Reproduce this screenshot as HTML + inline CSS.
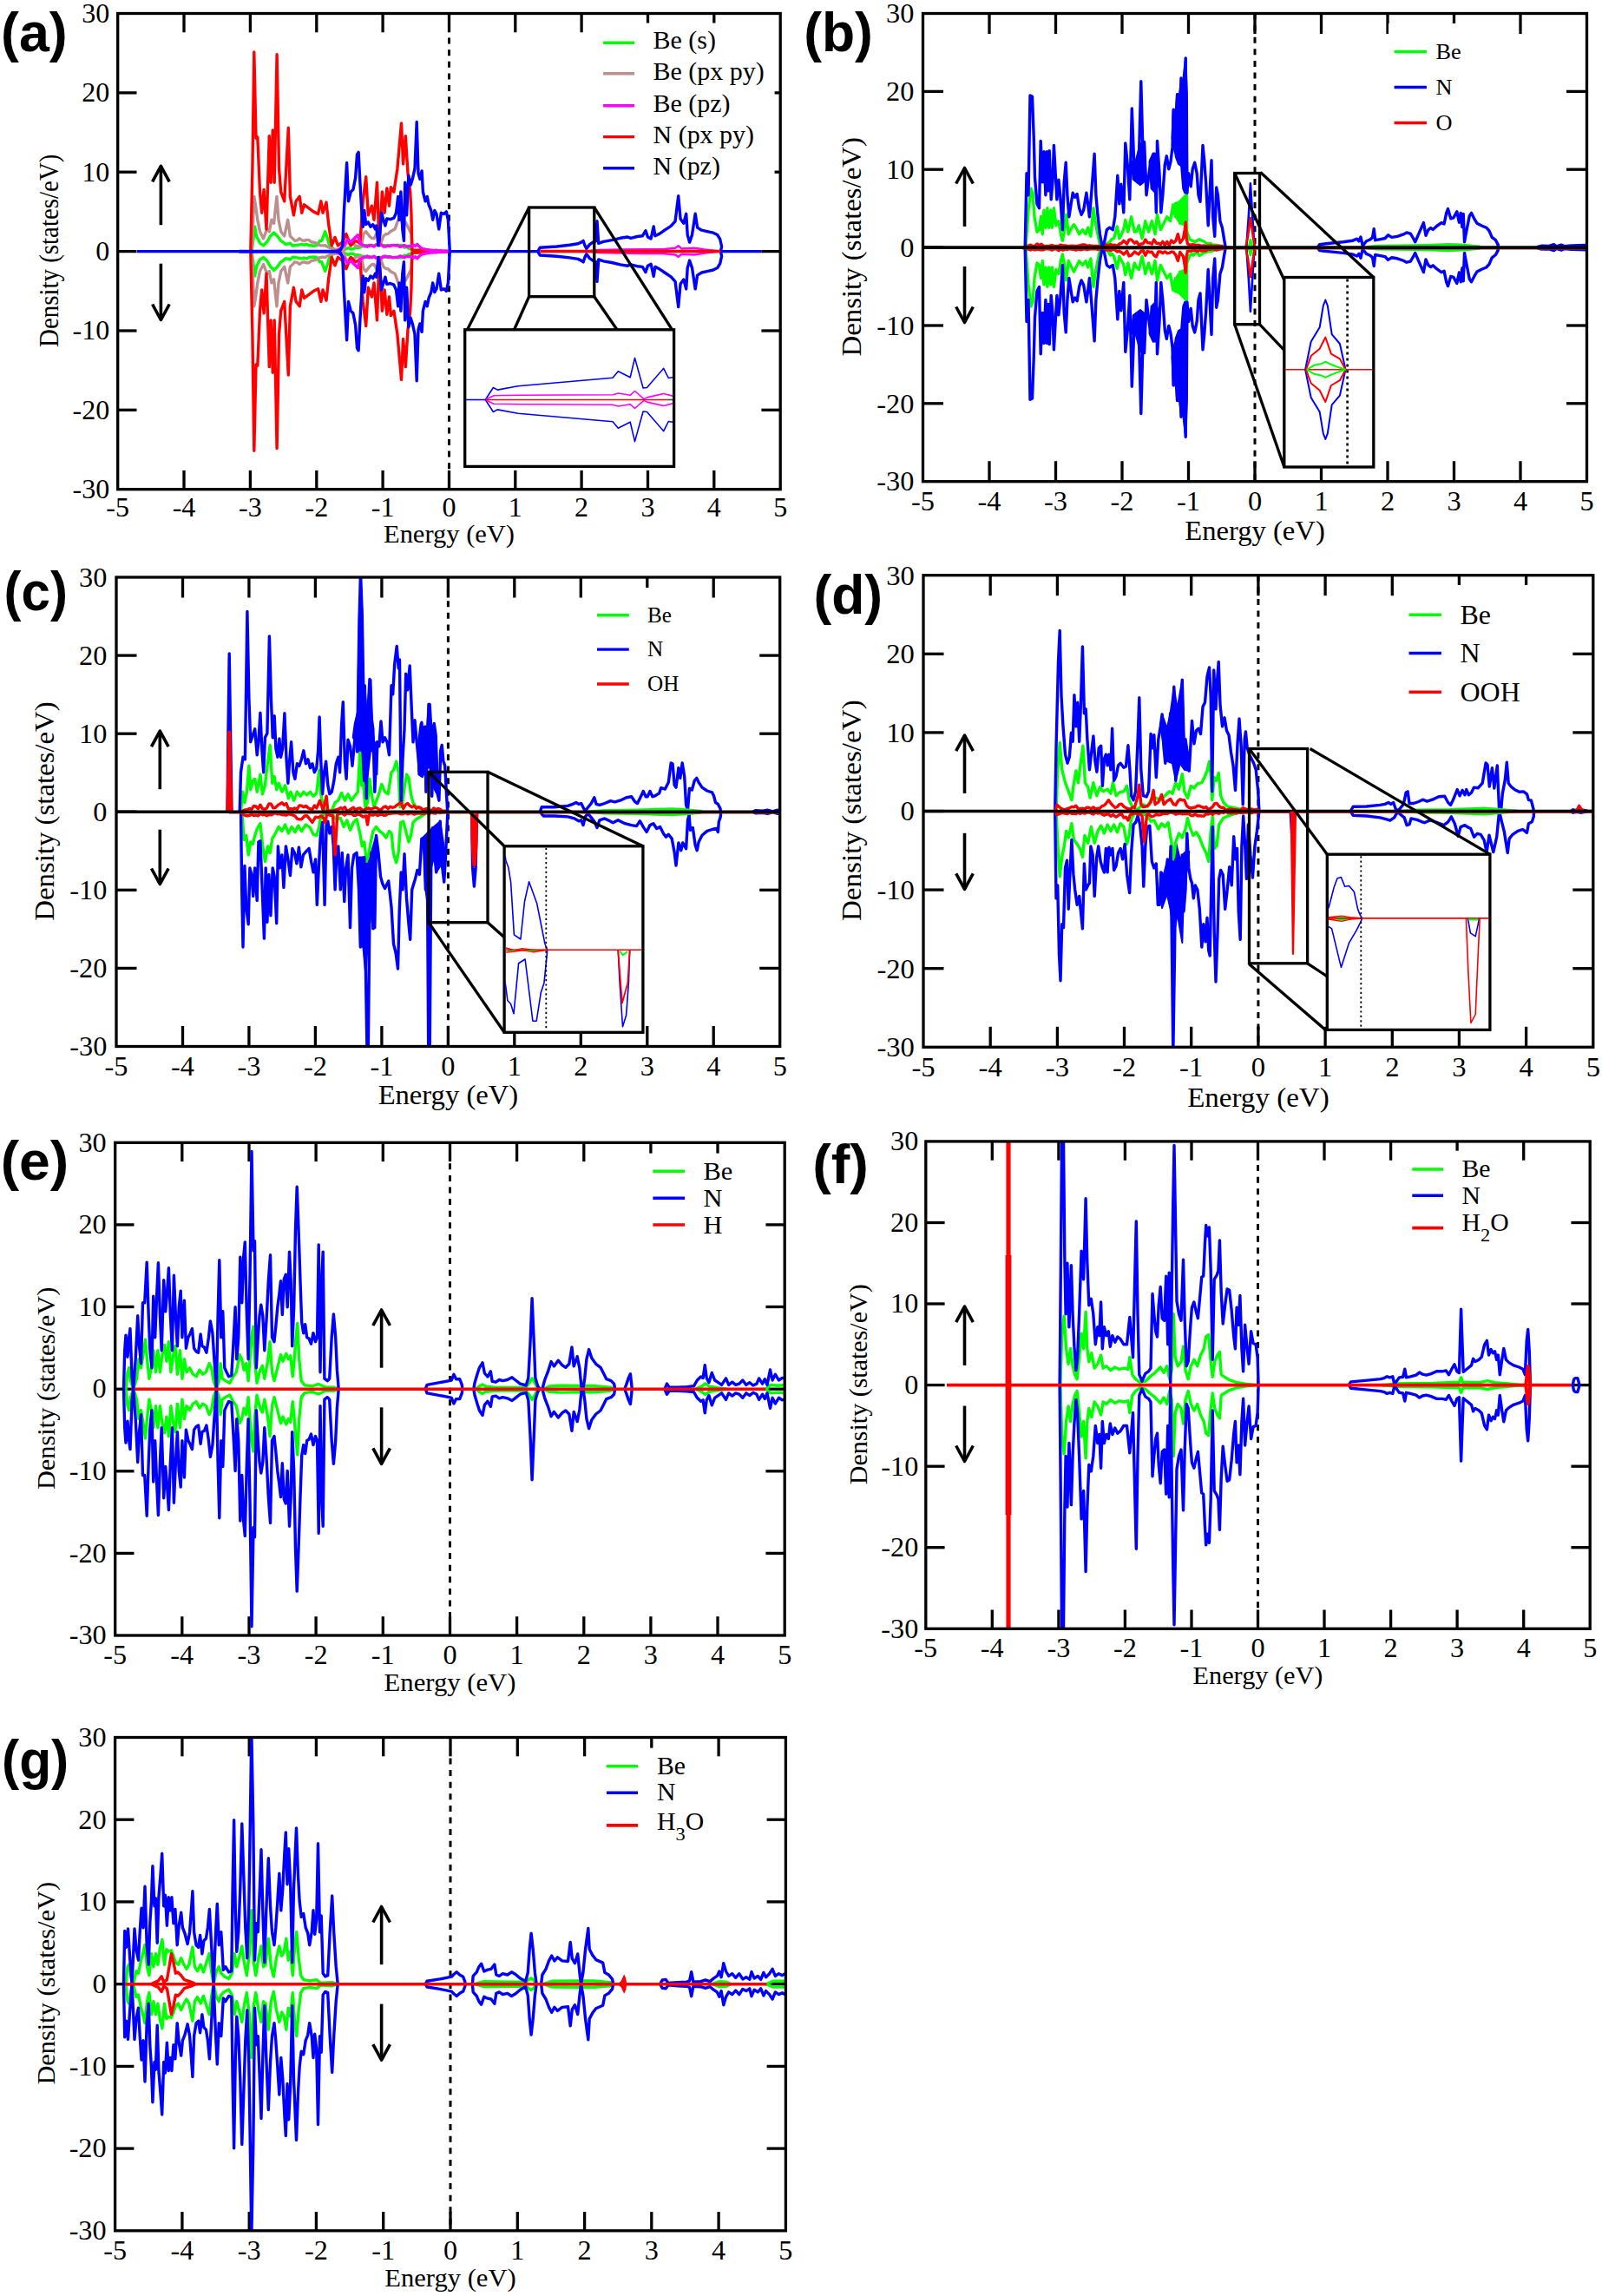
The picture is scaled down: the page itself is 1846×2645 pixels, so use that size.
<!DOCTYPE html>
<html><head><meta charset="utf-8"><title>DOS</title>
<style>html,body{margin:0;padding:0;background:#fff}svg{display:block}</style></head>
<body><svg width="1846" height="2645" viewBox="0 0 1846 2645">
<rect width="1846" height="2645" fill="#fff"/>
<clipPath id="clip_a"><rect x="135.7" y="15.5" width="763.5" height="548.2"/></clipPath>
<line x1="212" y1="15.5" x2="212" y2="37.3" stroke="#000" stroke-width="3.3" />
<line x1="212" y1="563.7" x2="212" y2="541.9" stroke="#000" stroke-width="3.3" />
<line x1="288.4" y1="15.5" x2="288.4" y2="37.3" stroke="#000" stroke-width="3.3" />
<line x1="288.4" y1="563.7" x2="288.4" y2="541.9" stroke="#000" stroke-width="3.3" />
<line x1="364.8" y1="15.5" x2="364.8" y2="37.3" stroke="#000" stroke-width="3.3" />
<line x1="364.8" y1="563.7" x2="364.8" y2="541.9" stroke="#000" stroke-width="3.3" />
<line x1="441.1" y1="15.5" x2="441.1" y2="37.3" stroke="#000" stroke-width="3.3" />
<line x1="441.1" y1="563.7" x2="441.1" y2="541.9" stroke="#000" stroke-width="3.3" />
<line x1="517.5" y1="15.5" x2="517.5" y2="37.3" stroke="#000" stroke-width="3.3" />
<line x1="517.5" y1="563.7" x2="517.5" y2="541.9" stroke="#000" stroke-width="3.3" />
<line x1="593.8" y1="15.5" x2="593.8" y2="37.3" stroke="#000" stroke-width="3.3" />
<line x1="593.8" y1="563.7" x2="593.8" y2="541.9" stroke="#000" stroke-width="3.3" />
<line x1="670.1" y1="15.5" x2="670.1" y2="37.3" stroke="#000" stroke-width="3.3" />
<line x1="670.1" y1="563.7" x2="670.1" y2="541.9" stroke="#000" stroke-width="3.3" />
<line x1="746.5" y1="15.5" x2="746.5" y2="37.3" stroke="#000" stroke-width="3.3" />
<line x1="746.5" y1="563.7" x2="746.5" y2="541.9" stroke="#000" stroke-width="3.3" />
<line x1="822.8" y1="15.5" x2="822.8" y2="37.3" stroke="#000" stroke-width="3.3" />
<line x1="822.8" y1="563.7" x2="822.8" y2="541.9" stroke="#000" stroke-width="3.3" />
<line x1="135.7" y1="472.3" x2="157.5" y2="472.3" stroke="#000" stroke-width="3.3" />
<line x1="899.2" y1="472.3" x2="877.4" y2="472.3" stroke="#000" stroke-width="3.3" />
<line x1="135.7" y1="381" x2="157.5" y2="381" stroke="#000" stroke-width="3.3" />
<line x1="899.2" y1="381" x2="877.4" y2="381" stroke="#000" stroke-width="3.3" />
<line x1="135.7" y1="289.6" x2="157.5" y2="289.6" stroke="#000" stroke-width="3.3" />
<line x1="899.2" y1="289.6" x2="877.4" y2="289.6" stroke="#000" stroke-width="3.3" />
<line x1="135.7" y1="198.2" x2="157.5" y2="198.2" stroke="#000" stroke-width="3.3" />
<line x1="899.2" y1="198.2" x2="877.4" y2="198.2" stroke="#000" stroke-width="3.3" />
<line x1="135.7" y1="106.9" x2="157.5" y2="106.9" stroke="#000" stroke-width="3.3" />
<line x1="899.2" y1="106.9" x2="877.4" y2="106.9" stroke="#000" stroke-width="3.3" />
<rect x="690" y="26.5" width="202.6" height="185.5" fill="#fff"/>
<line x1="517.5" y1="30" x2="517.5" y2="563.7" stroke="#000" stroke-width="3" stroke-dasharray="7 6.6"/>
<g clip-path="url(#clip_a)">
<polyline points="290.1,289.5 293.6,261.3 295.5,272 299.5,280.1 303.6,282.8 307.6,278.8 311.6,272 315.6,268 319.7,272 323.7,277.4 326.4,279.2 329.1,281.4 331.7,281 334.4,280.1 337.1,283 339.8,282.8 342.5,282.2 345.2,281.9 347.8,281.4 350.5,282.2 353.2,281.3 355.9,282.8 358.6,282.8 361.3,283.2 363.9,282.8 366.2,282.1 368.4,277.4 370.7,277.4 374.7,266.7 377.4,274.7 380,284.1 382.7,285.4 385.4,287.6 388.1,287.4 390.8,288.7 393.5,288.7 396.2,288 398.8,286.8 401.5,285.6 404.2,287.1 406.9,286.8 409.6,285.5 412.3,285.5 414.9,285.1 417.6,283.6 420.3,284.1 423,282.5 425.7,283.8 428.4,282.2 431,283.3 433.3,282.3 435.5,282.3 437.8,281.6 440,282.8 442.2,282.7 444.5,282.8 446.7,283.8 448.9,282.7 451.2,283 453.4,282.4 455.7,282.9 457.9,282.2 460.6,282.6 463.3,282.5 465.9,285.1 468.6,284.1 471.3,286.6 474,286.8 476.7,287.8 479.4,288.1 482,288 484.7,288.7" fill="none" stroke="#00ff00" stroke-width="3.4" stroke-linejoin="round" />
<polyline points="290.1,289.7 293.6,317.9 295.5,307.2 299.5,299.1 303.6,296.4 307.6,300.4 311.6,307.2 315.6,311.2 319.7,307.2 323.7,301.8 326.4,300 329.1,297.8 331.7,298.2 334.4,299.1 337.1,296.2 339.8,296.4 342.5,297 345.2,297.3 347.8,297.8 350.5,297 353.2,297.9 355.9,296.4 358.6,296.4 361.3,296 363.9,296.4 366.2,297.1 368.4,301.8 370.7,301.8 374.7,312.5 377.4,304.5 380,295.1 382.7,293.8 385.4,291.6 388.1,291.8 390.8,290.5 393.5,290.5 396.2,291.2 398.8,292.4 401.5,293.6 404.2,292.1 406.9,292.4 409.6,293.7 412.3,293.7 414.9,294.1 417.6,295.6 420.3,295.1 423,296.7 425.7,295.4 428.4,297 431,295.9 433.3,296.9 435.5,296.9 437.8,297.6 440,296.4 442.2,296.5 444.5,296.4 446.7,295.4 448.9,296.5 451.2,296.2 453.4,296.8 455.7,296.3 457.9,297 460.6,296.6 463.3,296.7 465.9,294.1 468.6,295.1 471.3,292.6 474,292.4 476.7,291.4 479.4,291.1 482,291.2 484.7,290.5" fill="none" stroke="#00ff00" stroke-width="3.4" stroke-linejoin="round" />
<polyline points="290.1,289.5 292.8,226.4 294.2,234.5 296.8,253.3 299.5,266.7 303.6,274.7 307.6,264 310.3,266.7 312.9,253.3 315.6,257.3 318.9,226.4 321,253.3 323.7,266.7 327.7,272 331.7,253.3 334.4,272 337.1,274.6 339.8,277.4 342.5,276.8 345.2,274.7 347.8,276.8 350.5,277.4 353.2,276.4 355.9,276.4 358.6,278.8 361.3,279.2 363.9,279.8 366.6,281.4 369.3,282.8 372,282.9 374.7,282.8 377.4,284.4 380,285.5 382.7,286.3 385.4,287.2 388.1,287.6 390.8,287.3 393.5,287.9 396.2,288.2 398.8,280.1 401.5,279.7 404.2,282.7 406.9,280.8 409.6,282.8 411.8,284.1 414,282.6 416.3,284.1 419,269.4 421.7,266.7 425.7,272 428.4,274.4 431,274.7 435.1,266.7 437.8,282.8 441.8,272 444.5,269.7 447.2,269.4 449.8,266.7 452.5,265.3 455.2,263.7 457.9,255.9 461.1,247.9 463.8,258.6 467.3,255.9 471.3,264 474,269.4 475.3,289.5" fill="none" stroke="#bc8f8f" stroke-width="3.4" stroke-linejoin="round" />
<polyline points="290.1,289.7 292.8,352.8 294.2,344.7 296.8,325.9 299.5,312.5 303.6,304.5 307.6,315.2 310.3,312.5 312.9,325.9 315.6,321.9 318.9,352.8 321,325.9 323.7,312.5 327.7,307.2 331.7,325.9 334.4,307.2 337.1,304.6 339.8,301.8 342.5,302.4 345.2,304.5 347.8,302.4 350.5,301.8 353.2,302.8 355.9,302.8 358.6,300.4 361.3,300 363.9,299.4 366.6,297.8 369.3,296.4 372,296.3 374.7,296.4 377.4,294.8 380,293.7 382.7,292.9 385.4,292 388.1,291.6 390.8,291.9 393.5,291.3 396.2,291 398.8,299.1 401.5,299.5 404.2,296.5 406.9,298.4 409.6,296.4 411.8,295.1 414,296.6 416.3,295.1 419,309.8 421.7,312.5 425.7,307.2 428.4,304.8 431,304.5 435.1,312.5 437.8,296.4 441.8,307.2 444.5,309.5 447.2,309.8 449.8,312.5 452.5,313.9 455.2,315.5 457.9,323.3 461.1,331.3 463.8,320.6 467.3,323.3 471.3,315.2 474,309.8 475.3,289.7" fill="none" stroke="#bc8f8f" stroke-width="3.4" stroke-linejoin="round" />
<polyline points="288.8,289.5 290.9,194.2 292.8,60 295,159.3 296.8,158 299.5,221 301.7,245.2 304.1,218.4 307,264 310.3,156.6 312.1,210.3 314.3,149.9 316.2,210.3 319.1,62.7 321.5,194.2 323.7,221 327.7,231.8 332.3,147.2 334.4,226.4 338.4,247.9 341.1,231.8 345.2,226.4 347.8,245.2 350.5,235.8 355.9,239.8 361.3,243.9 366.6,246.5 369.9,231.8 372,245.2 376,233.1 378.7,258.6 382.2,282.8 386,273.4 389.4,282.8 394.8,278.8 398.8,269.4 404.2,282.8 409.6,277.4 414.9,280.1 418.2,231.8 421.7,203.6 424.3,247.9 428.4,237.2 431,253.3 434.5,210.3 437,282.8 440.4,221 443.1,245.2 445.8,217 448.5,237.2 450.4,215.7 453.9,221 457.9,194.2 462.5,141.9 464.6,188.8 467.3,156.6 470,199.6 472.7,221 474,247.9 474.8,288.2 484.7,288.4 500.8,289 518.3,289.5" fill="none" stroke="#ff0000" stroke-width="3.4" stroke-linejoin="round" />
<polyline points="288.8,289.7 290.9,385 292.8,519.2 295,419.9 296.8,421.2 299.5,358.2 301.7,334 304.1,360.8 307,315.2 310.3,422.6 312.1,368.9 314.3,429.3 316.2,368.9 319.1,516.5 321.5,385 323.7,358.2 327.7,347.4 332.3,432 334.4,352.8 338.4,331.3 341.1,347.4 345.2,352.8 347.8,334 350.5,343.4 355.9,339.4 361.3,335.3 366.6,332.7 369.9,347.4 372,334 376,346.1 378.7,320.6 382.2,296.4 386,305.8 389.4,296.4 394.8,300.4 398.8,309.8 404.2,296.4 409.6,301.8 414.9,299.1 418.2,347.4 421.7,375.6 424.3,331.3 428.4,342 431,325.9 434.5,368.9 437,296.4 440.4,358.2 443.1,334 445.8,362.2 448.5,342 450.4,363.5 453.9,358.2 457.9,385 462.5,437.3 464.6,390.4 467.3,422.6 470,379.6 472.7,358.2 474,331.3 474.8,291 484.7,290.8 500.8,290.2 518.3,289.7" fill="none" stroke="#ff0000" stroke-width="3.4" stroke-linejoin="round" />
<polyline points="388.1,289.5 390.8,286.9 393.5,285.5 396.2,282.8 400.2,276.1 404.2,278.8 408.2,274.7 412.3,270.7 414.9,280.1 417.6,282.2 420.3,282.8 423,284.2 425.7,282.5 428.4,283 431,284.1 433.7,281.6 436.4,281.4 439.1,281.4 441.8,284 444.5,284.1 446.7,282.8 448.9,283.8 451.2,282.6 453.4,282.6 455.7,282.8 457.9,282.8 460.6,284.2 463.3,283.8 465.9,282.4 468.6,284.1 471.3,283.5 474,284.1 476.2,282.1 478.5,283.6 480.7,281.4 484.7,285.5 487,286.6 489.2,286.9 491.4,287.4 493.7,287.6 495.9,288.3 498.2,288.2 500.5,288.6 502.8,288.2 505.2,289 507.5,288.8 509.9,289.2 512.2,289.2 514.6,289.3 516.9,289.5" fill="none" stroke="#ff00ff" stroke-width="3.4" stroke-linejoin="round" />
<polyline points="388.1,289.7 390.8,292.3 393.5,293.7 396.2,296.4 400.2,303.1 404.2,300.4 408.2,304.5 412.3,308.5 414.9,299.1 417.6,297 420.3,296.4 423,295 425.7,296.7 428.4,296.2 431,295.1 433.7,297.6 436.4,297.8 439.1,297.8 441.8,295.2 444.5,295.1 446.7,296.4 448.9,295.4 451.2,296.6 453.4,296.6 455.7,296.4 457.9,296.4 460.6,295 463.3,295.4 465.9,296.8 468.6,295.1 471.3,295.7 474,295.1 476.2,297.1 478.5,295.6 480.7,297.8 484.7,293.7 487,292.6 489.2,292.3 491.4,291.8 493.7,291.6 495.9,290.9 498.2,291 500.5,290.6 502.8,291 505.2,290.2 507.5,290.4 509.9,290 512.2,290 514.6,289.9 516.9,289.7" fill="none" stroke="#ff00ff" stroke-width="3.4" stroke-linejoin="round" />
<polyline points="275.4,289.5 388.1,289.5 392.1,288.2 394.8,282.8 396.2,247.9 398.3,210.3 399.6,187.5 401.5,231.8 404.2,221 406.9,218.4 409.6,204.9 411.5,178.1 413.1,175.4 414.9,210.3 417.1,247.9 418.2,261.3 419.8,242.5 421.7,258.6 424.3,255.9 427,261.3 429.7,258.6 432.4,264 433.7,260 435.9,282.8 437.8,269.4 439.6,245.2 441.8,253.3 443.9,260 445.8,251.9 449.8,252.7 453.9,251.1 456.5,245.2 458.7,226.4 460,253.3 461.9,221 463.8,264 465.4,277.4 466.7,210.3 468.6,247.9 470.8,202.3 473.2,213 475.3,206.3 478,194.2 480.2,140.5 482,199.6 483.9,206.3 486.1,196.9 487.4,221 490.1,231.8 492.2,226.4 494.1,235.8 496.8,242.5 498.7,253.3 500.8,242.5 503,246.5 505.7,264 508.4,245.2 511.6,246.5 514.3,243.9 516.4,253.3 517.5,274.7 518.3,289.5" fill="none" stroke="#0000ff" stroke-width="3.4" stroke-linejoin="round" />
<polyline points="275.4,289.7 388.1,289.7 392.1,291 394.8,296.4 396.2,331.3 398.3,368.9 399.6,391.7 401.5,347.4 404.2,358.2 406.9,360.8 409.6,374.3 411.5,401.1 413.1,403.8 414.9,368.9 417.1,331.3 418.2,317.9 419.8,336.7 421.7,320.6 424.3,323.3 427,317.9 429.7,320.6 432.4,315.2 433.7,319.2 435.9,296.4 437.8,309.8 439.6,334 441.8,325.9 443.9,319.2 445.8,327.3 449.8,326.5 453.9,328.1 456.5,334 458.7,352.8 460,325.9 461.9,358.2 463.8,315.2 465.4,301.8 466.7,368.9 468.6,331.3 470.8,376.9 473.2,366.2 475.3,372.9 478,385 480.2,438.7 482,379.6 483.9,372.9 486.1,382.3 487.4,358.2 490.1,347.4 492.2,352.8 494.1,343.4 496.8,336.7 498.7,325.9 500.8,336.7 503,332.7 505.7,315.2 508.4,334 511.6,332.7 514.3,335.3 516.4,325.9 517.5,304.5 518.3,289.7" fill="none" stroke="#0000ff" stroke-width="3.4" stroke-linejoin="round" />
<polyline points="619.8,289.6 622.2,285.2 641.7,284 656.3,282.3 666.1,280.8 669.7,279.1 672.2,277.4 673.9,282.8 675.8,286.4 679.5,281.6 683.1,279.1 686.3,277.9 688,254.8 689.7,280.3 695.3,278.4 705,276.7 714.8,274.3 723.3,273 726.9,274.3 734.2,272.5 740.3,271.8 744,265.7 746.4,273 750.1,275 753.2,260.9 754.9,271.8 759.8,269.4 765.9,265.2 773.2,260.4 778.1,254.8 781.7,225.6 784.1,252.3 787.8,257.2 790.7,246.3 792.2,270.6 794.6,279.1 797.5,270.6 801.2,246.3 803.6,262.1 808.5,265.2 815.8,266.9 821.9,268.2 826.7,270.6 829.7,275.5 831.6,284 830.4,289.6" fill="none" stroke="#0000ff" stroke-width="3.4" stroke-linejoin="round" />
<polyline points="619.8,289.6 622.2,294 641.7,295.2 656.3,296.9 666.1,298.4 669.7,300.1 672.2,301.8 673.9,296.4 675.8,292.8 679.5,297.6 683.1,300.1 686.3,301.3 688,324.4 689.7,298.9 695.3,300.8 705,302.5 714.8,304.9 723.3,306.2 726.9,304.9 734.2,306.7 740.3,307.4 744,313.5 746.4,306.2 750.1,304.2 753.2,318.3 754.9,307.4 759.8,309.8 765.9,314 773.2,318.8 778.1,324.4 781.7,353.6 784.1,326.9 787.8,322 790.7,332.9 792.2,308.6 794.6,300.1 797.5,308.6 801.2,332.9 803.6,317.1 808.5,314 815.8,312.3 821.9,311 826.7,308.6 829.7,303.7 831.6,295.2 830.4,289.6" fill="none" stroke="#0000ff" stroke-width="3.4" stroke-linejoin="round" />
<polyline points="675.8,289.6 690.4,288.1 714.8,287.6 739.1,287.2 763.4,287.2 778.1,285.7 781.7,283.3 785.4,286.4 800,285.7 812.1,287.6 829.2,289.6" fill="none" stroke="#ff00ff" stroke-width="2.5" stroke-linejoin="round" />
<polyline points="675.8,289.6 690.4,291.1 714.8,291.6 739.1,292 763.4,292 778.1,293.5 781.7,295.9 785.4,292.8 800,293.5 812.1,291.6 829.2,289.6" fill="none" stroke="#ff00ff" stroke-width="2.5" stroke-linejoin="round" />
<polyline points="622.2,289.6 830.4,289.6" fill="none" stroke="#ff0000" stroke-width="3.5" stroke-linejoin="round" />
<polyline points="158,289.6 383.8,289.6" fill="none" stroke="#0000ff" stroke-width="3.4" stroke-linejoin="round" />
<polyline points="517.5,289.6 619.8,289.6" fill="none" stroke="#0000ff" stroke-width="3.4" stroke-linejoin="round" />
<polyline points="830.4,289.6 877.6,289.6" fill="none" stroke="#0000ff" stroke-width="3.4" stroke-linejoin="round" />
</g>
<line x1="695.1" y1="49.3" x2="731" y2="49.3" stroke="#00ff00" stroke-width="3.4" />
<text transform="translate(752.5,56.3) scale(1.020,1)" font-family="'Liberation Serif','DejaVu Serif',serif" font-size="29.4" font-weight="normal" text-anchor="start" >Be (s)</text>
<line x1="695.1" y1="84.8" x2="731" y2="84.8" stroke="#bc8f8f" stroke-width="3.4" />
<text transform="translate(752.5,91.8) scale(1.020,1)" font-family="'Liberation Serif','DejaVu Serif',serif" font-size="29.4" font-weight="normal" text-anchor="start" >Be (px py)</text>
<line x1="695.1" y1="121.7" x2="731" y2="121.7" stroke="#ff00ff" stroke-width="3.4" />
<text transform="translate(752.5,128.7) scale(1.020,1)" font-family="'Liberation Serif','DejaVu Serif',serif" font-size="29.4" font-weight="normal" text-anchor="start" >Be (pz)</text>
<line x1="695.1" y1="157.6" x2="731" y2="157.6" stroke="#ff0000" stroke-width="3.4" />
<text transform="translate(752.5,164.6) scale(1.020,1)" font-family="'Liberation Serif','DejaVu Serif',serif" font-size="29.4" font-weight="normal" text-anchor="start" >N (px py)</text>
<line x1="695.1" y1="193.7" x2="731" y2="193.7" stroke="#0000ff" stroke-width="3.4" />
<text transform="translate(752.5,200.7) scale(1.020,1)" font-family="'Liberation Serif','DejaVu Serif',serif" font-size="29.4" font-weight="normal" text-anchor="start" >N (pz)</text>
<line x1="185.4" y1="192.4" x2="185.4" y2="259.2" stroke="#000" stroke-width="3.6" />
<polyline points="175.6,209.4 185.4,191.4 195.2,209.4" fill="none" stroke="#000" stroke-width="3.6" stroke-linejoin="round" stroke-linejoin="miter"/>
<line x1="185.4" y1="303.7" x2="185.4" y2="367.5" stroke="#000" stroke-width="3.6" />
<polyline points="175.6,350.5 185.4,368.5 195.2,350.5" fill="none" stroke="#000" stroke-width="3.6" stroke-linejoin="round" />
<rect x="535.7" y="379.8" width="240.9" height="157.6" fill="#fff" stroke="none"/>
<rect x="609.6" y="239" width="75.2" height="102.7" fill="none" stroke="#000" stroke-width="3.3"/>
<line x1="609.6" y1="239" x2="538.5" y2="379.8" stroke="#000" stroke-width="3.3" />
<line x1="684.8" y1="239" x2="774.5" y2="379.8" stroke="#000" stroke-width="3.3" />
<line x1="609.6" y1="341.7" x2="592.5" y2="379.8" stroke="#000" stroke-width="3.3" />
<line x1="684.8" y1="341.7" x2="711" y2="379.8" stroke="#000" stroke-width="3.3" />
<polyline points="559.3,460.5 568.4,446.5 573.3,449.1 596.9,444.8 706.1,435.2 712.3,427.8 726.2,434.8 731.5,412.4 741.1,447 745.5,446.5 764.7,424.3 770.3,435.5 775.2,434.8" fill="none" stroke="#0000ff" stroke-width="1.6" stroke-linejoin="round" />
<polyline points="559.3,460.5 568.4,474.5 573.3,471.9 596.9,476.2 706.1,485.8 712.3,493.2 726.2,486.2 731.5,508.6 741.1,474 745.5,474.5 764.7,496.7 770.3,485.5 775.2,486.2" fill="none" stroke="#0000ff" stroke-width="1.6" stroke-linejoin="round" />
<polyline points="559.3,460.5 568.9,455.8 598.7,455.3 706.1,454.7 712.3,453 726.2,455.3 731.5,450.5 742,459.6 745.5,457.9 764.7,453.5 775.2,456.1" fill="none" stroke="#ff00ff" stroke-width="1.6" stroke-linejoin="round" />
<polyline points="559.3,460.5 568.9,465.2 598.7,465.7 706.1,466.3 712.3,468 726.2,465.7 731.5,470.5 742,461.4 745.5,463.1 764.7,467.5 775.2,464.9" fill="none" stroke="#ff00ff" stroke-width="1.6" stroke-linejoin="round" />
<polyline points="537.1,460.5 559.9,460.5" fill="none" stroke="#0000ff" stroke-width="1.6" stroke-linejoin="round" />
<polyline points="559.9,460.5 768.2,460.5" fill="none" stroke="#ff0000" stroke-width="1.6" stroke-linejoin="round" />
<polyline points="768.2,460.5 775.5,460.5" fill="none" stroke="#444" stroke-width="1.6" stroke-linejoin="round" />
<rect x="535.7" y="379.8" width="240.9" height="157.6" fill="none" stroke="#000" stroke-width="3.3"/>
<rect x="135.7" y="15.5" width="763.5" height="548.2" fill="none" stroke="#000" stroke-width="3.3"/>
<text transform="translate(126.3,573.9) scale(1.050,1)" font-family="'Liberation Serif','DejaVu Serif',serif" font-size="30.5" font-weight="normal" text-anchor="end" >-30</text>
<text transform="translate(126.3,482.6) scale(1.050,1)" font-family="'Liberation Serif','DejaVu Serif',serif" font-size="30.5" font-weight="normal" text-anchor="end" >-20</text>
<text transform="translate(126.3,391.2) scale(1.050,1)" font-family="'Liberation Serif','DejaVu Serif',serif" font-size="30.5" font-weight="normal" text-anchor="end" >-10</text>
<text transform="translate(126.3,299.8) scale(1.050,1)" font-family="'Liberation Serif','DejaVu Serif',serif" font-size="30.5" font-weight="normal" text-anchor="end" >0</text>
<text transform="translate(126.3,208.5) scale(1.050,1)" font-family="'Liberation Serif','DejaVu Serif',serif" font-size="30.5" font-weight="normal" text-anchor="end" >10</text>
<text transform="translate(126.3,117.1) scale(1.050,1)" font-family="'Liberation Serif','DejaVu Serif',serif" font-size="30.5" font-weight="normal" text-anchor="end" >20</text>
<text transform="translate(126.3,25.7) scale(1.050,1)" font-family="'Liberation Serif','DejaVu Serif',serif" font-size="30.5" font-weight="normal" text-anchor="end" >30</text>
<text transform="translate(135.7,594.5) scale(1.050,1)" font-family="'Liberation Serif','DejaVu Serif',serif" font-size="30.5" font-weight="normal" text-anchor="middle" >-5</text>
<text transform="translate(212,594.5) scale(1.050,1)" font-family="'Liberation Serif','DejaVu Serif',serif" font-size="30.5" font-weight="normal" text-anchor="middle" >-4</text>
<text transform="translate(288.4,594.5) scale(1.050,1)" font-family="'Liberation Serif','DejaVu Serif',serif" font-size="30.5" font-weight="normal" text-anchor="middle" >-3</text>
<text transform="translate(364.8,594.5) scale(1.050,1)" font-family="'Liberation Serif','DejaVu Serif',serif" font-size="30.5" font-weight="normal" text-anchor="middle" >-2</text>
<text transform="translate(441.1,594.5) scale(1.050,1)" font-family="'Liberation Serif','DejaVu Serif',serif" font-size="30.5" font-weight="normal" text-anchor="middle" >-1</text>
<text transform="translate(517.5,594.5) scale(1.050,1)" font-family="'Liberation Serif','DejaVu Serif',serif" font-size="30.5" font-weight="normal" text-anchor="middle" >0</text>
<text transform="translate(593.8,594.5) scale(1.050,1)" font-family="'Liberation Serif','DejaVu Serif',serif" font-size="30.5" font-weight="normal" text-anchor="middle" >1</text>
<text transform="translate(670.1,594.5) scale(1.050,1)" font-family="'Liberation Serif','DejaVu Serif',serif" font-size="30.5" font-weight="normal" text-anchor="middle" >2</text>
<text transform="translate(746.5,594.5) scale(1.050,1)" font-family="'Liberation Serif','DejaVu Serif',serif" font-size="30.5" font-weight="normal" text-anchor="middle" >3</text>
<text transform="translate(822.8,594.5) scale(1.050,1)" font-family="'Liberation Serif','DejaVu Serif',serif" font-size="30.5" font-weight="normal" text-anchor="middle" >4</text>
<text transform="translate(899.2,594.5) scale(1.050,1)" font-family="'Liberation Serif','DejaVu Serif',serif" font-size="30.5" font-weight="normal" text-anchor="middle" >5</text>
<text x="517.5" y="624.9" font-family="'Liberation Serif','DejaVu Serif',serif" font-size="29.5" font-weight="normal" text-anchor="middle" textLength="151" lengthAdjust="spacingAndGlyphs">Energy (eV)</text>
<text transform="translate(67.4,288.8) rotate(-90)" font-family="'Liberation Serif',serif" font-size="30.5" text-anchor="middle" textLength="222.4" lengthAdjust="spacingAndGlyphs">Density (states/eV)</text>
<text x="1.1" y="59" font-family="'Liberation Sans','DejaVu Sans',sans-serif" font-size="63" font-weight="bold" text-anchor="start" textLength="76.6" lengthAdjust="spacingAndGlyphs">(a)</text>
<clipPath id="clip_b"><rect x="1063.5" y="15.5" width="765" height="539.2"/></clipPath>
<line x1="1140" y1="15.5" x2="1140" y2="39" stroke="#000" stroke-width="3.3" />
<line x1="1140" y1="554.7" x2="1140" y2="531.2" stroke="#000" stroke-width="3.3" />
<line x1="1216.5" y1="15.5" x2="1216.5" y2="39" stroke="#000" stroke-width="3.3" />
<line x1="1216.5" y1="554.7" x2="1216.5" y2="531.2" stroke="#000" stroke-width="3.3" />
<line x1="1293" y1="15.5" x2="1293" y2="39" stroke="#000" stroke-width="3.3" />
<line x1="1293" y1="554.7" x2="1293" y2="531.2" stroke="#000" stroke-width="3.3" />
<line x1="1369.5" y1="15.5" x2="1369.5" y2="39" stroke="#000" stroke-width="3.3" />
<line x1="1369.5" y1="554.7" x2="1369.5" y2="531.2" stroke="#000" stroke-width="3.3" />
<line x1="1446" y1="15.5" x2="1446" y2="39" stroke="#000" stroke-width="3.3" />
<line x1="1446" y1="554.7" x2="1446" y2="531.2" stroke="#000" stroke-width="3.3" />
<line x1="1522.5" y1="15.5" x2="1522.5" y2="39" stroke="#000" stroke-width="3.3" />
<line x1="1522.5" y1="554.7" x2="1522.5" y2="531.2" stroke="#000" stroke-width="3.3" />
<line x1="1599" y1="15.5" x2="1599" y2="39" stroke="#000" stroke-width="3.3" />
<line x1="1599" y1="554.7" x2="1599" y2="531.2" stroke="#000" stroke-width="3.3" />
<line x1="1675.5" y1="15.5" x2="1675.5" y2="39" stroke="#000" stroke-width="3.3" />
<line x1="1675.5" y1="554.7" x2="1675.5" y2="531.2" stroke="#000" stroke-width="3.3" />
<line x1="1752" y1="15.5" x2="1752" y2="39" stroke="#000" stroke-width="3.3" />
<line x1="1752" y1="554.7" x2="1752" y2="531.2" stroke="#000" stroke-width="3.3" />
<line x1="1063.5" y1="464.8" x2="1087" y2="464.8" stroke="#000" stroke-width="3.3" />
<line x1="1828.5" y1="464.8" x2="1805" y2="464.8" stroke="#000" stroke-width="3.3" />
<line x1="1063.5" y1="375" x2="1087" y2="375" stroke="#000" stroke-width="3.3" />
<line x1="1828.5" y1="375" x2="1805" y2="375" stroke="#000" stroke-width="3.3" />
<line x1="1063.5" y1="285.1" x2="1087" y2="285.1" stroke="#000" stroke-width="3.3" />
<line x1="1828.5" y1="285.1" x2="1805" y2="285.1" stroke="#000" stroke-width="3.3" />
<line x1="1063.5" y1="195.2" x2="1087" y2="195.2" stroke="#000" stroke-width="3.3" />
<line x1="1828.5" y1="195.2" x2="1805" y2="195.2" stroke="#000" stroke-width="3.3" />
<line x1="1063.5" y1="105.4" x2="1087" y2="105.4" stroke="#000" stroke-width="3.3" />
<line x1="1828.5" y1="105.4" x2="1805" y2="105.4" stroke="#000" stroke-width="3.3" />
<rect x="1600" y="27" width="100" height="133" fill="#fff"/>
<line x1="1446" y1="15.5" x2="1446" y2="554.7" stroke="#000" stroke-width="3" stroke-dasharray="7 6.6"/>
<g clip-path="url(#clip_b)">
<polygon points="1350.6,159.8 1351.7,126.3 1354.8,127.4 1355.9,108.5 1359,108.5 1361.1,90.8 1363.2,93.9 1364.4,81.4 1366.3,66.7 1367.9,108.5 1368.4,196.3 1368.4,222.5 1365.3,222.5 1363.2,217.2 1361.1,191.1 1357.9,189 1354.8,180.7 1352.7,165" fill="#0000ff" stroke="#0000ff" stroke-width="2" stroke-linejoin="round"/>
<polygon points="1350.6,410.4 1351.7,443.9 1354.8,442.8 1355.9,461.7 1359,461.7 1361.1,479.4 1363.2,476.3 1364.4,488.8 1366.3,503.5 1367.9,461.7 1368.4,373.9 1368.4,347.7 1365.3,347.7 1363.2,353 1361.1,379.1 1357.9,381.2 1354.8,389.5 1352.7,405.2" fill="#0000ff" stroke="#0000ff" stroke-width="2" stroke-linejoin="round"/>
<polygon points="1351.1,238.2 1353.8,234 1357.9,232.9 1363.2,227.7 1367.9,222.5 1367.9,254.9 1363.2,259.1 1357.9,254.9 1352.7,246.5" fill="#00ff00" stroke="#00ff00" stroke-width="2" stroke-linejoin="round"/>
<polygon points="1351.1,332 1353.8,336.2 1357.9,337.3 1363.2,342.5 1367.9,347.7 1367.9,315.3 1363.2,311.1 1357.9,315.3 1352.7,323.7" fill="#00ff00" stroke="#00ff00" stroke-width="2" stroke-linejoin="round"/>
<polygon points="1303.6,185.9 1308.8,184.8 1314,165 1318.2,165 1320.3,198.4 1321.4,206.8 1314,213.1 1305.7,206.8" fill="#0000ff" stroke="#0000ff" stroke-width="2" stroke-linejoin="round"/>
<polygon points="1303.6,384.3 1308.8,385.4 1314,405.2 1318.2,405.2 1320.3,371.8 1321.4,363.4 1314,357.1 1305.7,363.4" fill="#0000ff" stroke="#0000ff" stroke-width="2" stroke-linejoin="round"/>
<polygon points="1324.5,185.9 1328.7,176.5 1333.9,178.6 1336,206.8 1331.8,222.5 1326.6,217.2" fill="#0000ff" stroke="#0000ff" stroke-width="2" stroke-linejoin="round"/>
<polygon points="1324.5,384.3 1328.7,393.7 1333.9,391.6 1336,363.4 1331.8,347.7 1326.6,353" fill="#0000ff" stroke="#0000ff" stroke-width="2" stroke-linejoin="round"/>
<polyline points="1182,284.7 1185,242.3 1188,217.3 1190,222.3 1192,249.8 1195,267.2 1197.5,264.7 1199.5,249.8 1201.2,269.7 1202.9,242.3 1204.9,262.2 1206.9,239.8 1208.7,262.2 1210.7,242.3 1212.4,262.2 1214.4,239.8 1216.9,259.7 1219.9,254.7 1222.4,269.7 1224.4,277.2 1226.9,262.2 1228.7,247.3 1231.2,269.7 1234.9,262.2 1237.4,258.7 1239.9,262.2 1243.6,269.7 1247.4,264.7 1251.1,269.7 1253.6,262.2 1256.9,272.2 1259.9,239.8 1262.4,257.2 1264.9,269.7 1267.9,283.5 1271.1,282.2 1273.2,281.8 1275.3,280.9 1277.4,279.7 1279.4,278 1281.5,275.1 1283.6,274.7 1287.3,261 1289.8,274.7 1292.3,269.7 1294.6,264.8 1296.8,253.5 1299.8,267.2 1303.6,249.8 1307.3,267.2 1309.8,266.6 1312.3,259.7 1316.1,274.7 1319.8,254.7 1323.5,267.2 1327.3,254.7 1331,269.7 1333.5,247.3 1337.3,264.7 1341,257.2 1344.8,249.8 1348.5,254.7 1351.8,236 1354.8,249.8 1357.3,234.8 1359.8,257.2 1362.7,233.5 1365.2,239.8 1366.7,224.8 1367.7,267.2 1371,276 1373.1,276.9 1375.1,277.7 1377.2,278.5 1379.7,277.1 1382.2,275.7 1384.7,277.2 1387.2,278 1389.7,280 1392.2,281 1394.7,280.4 1397.2,282.4 1399.7,282.2 1402.2,282.5 1404.7,283.2 1407.2,284.2" fill="none" stroke="#00ff00" stroke-width="3.4" stroke-linejoin="round" />
<polyline points="1182,285.5 1185,327.9 1188,352.9 1190,347.9 1192,320.4 1195,303 1197.5,305.5 1199.5,320.4 1201.2,300.5 1202.9,327.9 1204.9,308 1206.9,330.4 1208.7,308 1210.7,327.9 1212.4,308 1214.4,330.4 1216.9,310.5 1219.9,315.5 1222.4,300.5 1224.4,293 1226.9,308 1228.7,322.9 1231.2,300.5 1234.9,308 1237.4,312.9 1239.9,308 1243.6,300.5 1247.4,305.5 1251.1,300.5 1253.6,308 1256.9,298 1259.9,330.4 1262.4,313 1264.9,300.5 1267.9,286.7 1271.1,288 1273.2,288 1275.3,288.4 1277.4,290.5 1279.4,294 1281.5,292.4 1283.6,295.5 1287.3,309.2 1289.8,295.5 1292.3,300.5 1294.6,304.4 1296.8,316.7 1299.8,303 1303.6,320.4 1307.3,303 1309.8,308.2 1312.3,310.5 1316.1,295.5 1319.8,315.5 1323.5,303 1327.3,315.5 1331,300.5 1333.5,322.9 1337.3,305.5 1341,313 1344.8,320.4 1348.5,315.5 1351.8,334.2 1354.8,320.4 1357.3,335.4 1359.8,313 1362.7,336.7 1365.2,330.4 1366.7,345.4 1367.7,303 1371,294.2 1373.1,292.7 1375.1,294.1 1377.2,291.7 1379.7,291.2 1382.2,294.4 1384.7,293 1387.2,291.1 1389.7,290.8 1392.2,289.2 1394.7,289.8 1397.2,288.8 1399.7,288 1402.2,288 1404.7,286.9 1407.2,286" fill="none" stroke="#00ff00" stroke-width="3.4" stroke-linejoin="round" />
<polyline points="1183.7,283.5 1187.5,282.2 1190,283.5 1192.5,283.5 1195,280.9 1197.5,282.7 1200,281.3 1202.4,283.5 1204.9,283.5 1207.4,283.5 1209.9,283.2 1212.4,282.6 1214.9,283.5 1217.4,283.5 1219.9,283.5 1222.4,282.1 1224.9,283 1227.4,282.9 1229.9,283.5 1232.4,283.5 1234.9,283.2 1237.4,283.5 1239.9,283.4 1242.4,283.1 1244.9,282.6 1247.4,281.9 1249.9,281.9 1252.4,283.3 1254.9,282.8 1257.4,283.1 1259.9,283.5 1262.4,283.5 1264.9,283.5 1267.4,283.5 1269.9,283.5 1272.4,283.2 1274.9,282.1 1277.4,282.6 1279.9,281.6 1282.3,282.6 1284.8,282.2 1287.3,283.5 1289.8,281 1292.3,280.3 1294.8,277.2 1298.6,281 1301.1,276.1 1303.6,276 1307.3,280.2 1309.8,278.5 1312.3,282.3 1314.8,281 1317.3,280.7 1319.8,276 1322.3,279.7 1324.8,279.7 1327.3,281.1 1329.8,276 1332.3,280.2 1334.8,280.2 1337.3,281.6 1339.8,278.3 1342.3,282.4 1344.8,278.5 1347.3,282.2 1349.8,277 1352.3,279.7 1354.8,277.5 1357.3,269.7 1359.8,279.7 1363.5,274.7 1365.2,264.7 1366.2,256 1367.2,274.7 1368.5,281 1371.4,282.4 1374.3,281.6 1377.2,282.2 1379.7,282.5 1382.2,282.5 1384.7,283.5 1387.2,282.9 1389.7,283.5 1392.2,283.2 1394.7,282.9 1397.2,283.5 1399.7,283.5 1402.2,283.5 1404.7,283.5 1407.2,283.5 1409.7,283.5" fill="none" stroke="#ff0000" stroke-width="3.4" stroke-linejoin="round" />
<polyline points="1183.7,286.7 1187.5,288 1190,286.8 1192.5,287.9 1195,287.1 1197.5,287.5 1200,287.8 1202.4,287.7 1204.9,286.7 1207.4,286.7 1209.9,287 1212.4,288.1 1214.9,286.7 1217.4,286.7 1219.9,288.6 1222.4,286.9 1224.9,288.1 1227.4,286.9 1229.9,287.5 1232.4,286.7 1234.9,287 1237.4,287.4 1239.9,288.1 1242.4,287 1244.9,287.7 1247.4,287.4 1249.9,286.7 1252.4,287.6 1254.9,287.1 1257.4,286.7 1259.9,286.7 1262.4,286.7 1264.9,287.4 1267.4,286.7 1269.9,286.7 1272.4,286.9 1274.9,287.8 1277.4,287.7 1279.9,288.8 1282.3,287.2 1284.8,288 1287.3,290 1289.8,289.2 1292.3,290.7 1294.8,293 1298.6,289.2 1301.1,295 1303.6,294.2 1307.3,290 1309.8,291.7 1312.3,292.9 1314.8,289.2 1317.3,288.7 1319.8,294.2 1322.3,289.4 1324.8,290.5 1327.3,290.1 1329.8,294.2 1332.3,295.8 1334.8,290 1337.3,290 1339.8,291.7 1342.3,289.9 1344.8,291.7 1347.3,291.4 1349.8,290.1 1352.3,290.5 1354.8,293.8 1357.3,300.5 1359.8,290.5 1363.5,295.5 1365.2,305.5 1366.2,314.2 1367.2,295.5 1368.5,289.2 1371.4,289.2 1374.3,288.8 1377.2,288 1379.7,289.5 1382.2,288.4 1384.7,289.1 1387.2,288.6 1389.7,288.9 1392.2,287 1394.7,287.4 1397.2,286.7 1399.7,287.6 1402.2,287.7 1404.7,287.4 1407.2,286.7 1409.7,286.7" fill="none" stroke="#ff0000" stroke-width="3.4" stroke-linejoin="round" />
<polyline points="1181.2,284.7 1183,199.8 1185,224.8 1187,109.9 1189.5,111.2 1191.2,157.4 1192.5,204.8 1195,234.8 1197.5,239.8 1199.2,162.4 1201.2,209.8 1202.9,174.8 1204.9,224.8 1206.2,174.8 1207.9,219.8 1209.2,173.6 1211.2,229.8 1212.9,209.8 1214.4,167.4 1216.2,199.8 1217.9,229.8 1219.9,207.3 1221.7,224.8 1224.4,264.7 1226.2,209.8 1228.2,187.3 1229.9,224.8 1231.9,249.8 1234.2,234.8 1236.2,222.3 1238.7,227.3 1241.1,223.5 1243.6,239.8 1246.1,247.3 1248.6,242.3 1251.9,222.3 1253.6,234.8 1255.4,249.8 1257.9,219.8 1261.1,177.3 1262.9,224.8 1264.9,247.3 1267.4,269.7 1269.9,283.5 1272.4,279.7 1275.4,264.7 1278.6,262.2 1282.3,264.7 1284.8,249.8 1287.8,202.3 1289.8,234.8 1291.8,212.3 1294.8,244.8 1296.8,164.9 1299.3,189.8 1301.8,229.8 1304.3,124.9 1306.8,189.8 1309.3,186.1 1311.1,209.8 1312.8,167.4 1314.8,93.7 1316.8,169.9 1318.6,163.6 1321,224.8 1322.8,209.8 1326,184.8 1328.5,197.3 1330.3,177.3 1332.3,244.8 1333.5,162.4 1336,199.8 1337.8,244.8 1339.8,224.8 1342.3,189.8 1344.3,179.8 1346.8,194.8 1349,186.1 1351,169.9 1352.3,126.2 1354.3,174.8 1356.8,108.7 1358.5,179.8 1361,90 1362.7,189.8 1364.7,109.9 1366.2,67 1367.7,222.3 1369.7,199.8 1372.2,214.8 1374.2,194.8 1376.7,187.3 1379.2,199.8 1381,224.8 1383,232.3 1386,167.4 1387.7,184.8 1389.7,212.3 1392.2,259.7 1396,184.8 1397.7,249.8 1399.7,272.2 1401.7,216 1403.4,224.8 1405.9,254.7 1408.4,262.2 1410.4,274.7 1412.2,284.7" fill="none" stroke="#0000ff" stroke-width="3.4" stroke-linejoin="round" />
<polyline points="1181.2,285.5 1183,370.4 1185,345.4 1187,460.3 1189.5,459 1191.2,412.8 1192.5,365.4 1195,335.4 1197.5,330.4 1199.2,407.8 1201.2,360.4 1202.9,395.4 1204.9,345.4 1206.2,395.4 1207.9,350.4 1209.2,396.6 1211.2,340.4 1212.9,360.4 1214.4,402.8 1216.2,370.4 1217.9,340.4 1219.9,362.9 1221.7,345.4 1224.4,305.5 1226.2,360.4 1228.2,382.9 1229.9,345.4 1231.9,320.4 1234.2,335.4 1236.2,347.9 1238.7,342.9 1241.1,346.7 1243.6,330.4 1246.1,322.9 1248.6,327.9 1251.9,347.9 1253.6,335.4 1255.4,320.4 1257.9,350.4 1261.1,392.9 1262.9,345.4 1264.9,322.9 1267.4,300.5 1269.9,286.7 1272.4,290.5 1275.4,305.5 1278.6,308 1282.3,305.5 1284.8,320.4 1287.8,367.9 1289.8,335.4 1291.8,357.9 1294.8,325.4 1296.8,405.3 1299.3,380.4 1301.8,340.4 1304.3,445.3 1306.8,380.4 1309.3,384.1 1311.1,360.4 1312.8,402.8 1314.8,476.5 1316.8,400.3 1318.6,406.6 1321,345.4 1322.8,360.4 1326,385.4 1328.5,372.9 1330.3,392.9 1332.3,325.4 1333.5,407.8 1336,370.4 1337.8,325.4 1339.8,345.4 1342.3,380.4 1344.3,390.4 1346.8,375.4 1349,384.1 1351,400.3 1352.3,444 1354.3,395.4 1356.8,461.5 1358.5,390.4 1361,480.2 1362.7,380.4 1364.7,460.3 1366.2,503.2 1367.7,347.9 1369.7,370.4 1372.2,355.4 1374.2,375.4 1376.7,382.9 1379.2,370.4 1381,345.4 1383,337.9 1386,402.8 1387.7,385.4 1389.7,357.9 1392.2,310.5 1396,385.4 1397.7,320.4 1399.7,298 1401.7,354.2 1403.4,345.4 1405.9,315.5 1408.4,308 1410.4,295.5 1412.2,285.5" fill="none" stroke="#0000ff" stroke-width="3.4" stroke-linejoin="round" />
<polyline points="1436.3,285.1 1438.8,249.5 1440.9,211.4 1443.2,249.5 1445.4,285.1" fill="none" stroke="#0000ff" stroke-width="2.6" stroke-linejoin="round" />
<polyline points="1436.3,285.1 1438.8,320.7 1440.9,358.8 1443.2,320.7 1445.4,285.1" fill="none" stroke="#0000ff" stroke-width="2.6" stroke-linejoin="round" />
<polyline points="1435.4,285.1 1437.9,272.7 1440.9,251.2 1443.9,272.7 1446.2,285.1" fill="none" stroke="#ff0000" stroke-width="2.6" stroke-linejoin="round" />
<polyline points="1435.4,285.1 1437.9,297.5 1440.9,319 1443.9,297.5 1446.2,285.1" fill="none" stroke="#ff0000" stroke-width="2.6" stroke-linejoin="round" />
<polyline points="1438.8,285.1 1440.9,276 1443.2,285.1" fill="none" stroke="#00ff00" stroke-width="2.6" stroke-linejoin="round" />
<polyline points="1438.8,285.1 1440.9,294.2 1443.2,285.1" fill="none" stroke="#00ff00" stroke-width="2.6" stroke-linejoin="round" />
<polyline points="1518.4,284.7 1520.5,281.6 1532.4,280.3 1547.5,278.8 1558.3,277.3 1563.7,275.2 1565.9,277.8 1568,273 1570.2,283.2 1574.5,277.8 1578.8,276 1581.6,273.4 1583.2,263.7 1584.7,276.7 1590.7,275.6 1596.1,274.5 1599.4,270.8 1603.7,273.4 1610.1,272.4 1616.6,270.2 1620.9,268 1625.3,269.1 1628.5,274.5 1630.7,278.8 1633.9,271.3 1638.2,261.6 1640.4,256.6 1643,271.3 1645.8,264.8 1648.6,262.6 1651.2,264.4 1655.5,260.5 1660.9,256.6 1664.1,257.9 1666.7,245.4 1668.5,240.6 1671.7,251.8 1674.9,250.8 1678.8,243.8 1681.4,256.2 1683.2,245.4 1684.9,261.6 1686.2,246.4 1687.5,278.8 1690.1,264.8 1693.3,248.6 1695.5,245.4 1698.7,251.8 1701.9,257.2 1707.3,260 1712.7,262.2 1716,265.9 1719.2,273.4 1723.5,276.7 1726.3,282.1 1725.7,284.7" fill="none" stroke="#0000ff" stroke-width="3.4" stroke-linejoin="round" />
<polyline points="1518.4,285.5 1520.5,288.6 1532.4,289.9 1547.5,291.4 1558.3,292.9 1563.7,295 1565.9,292.4 1568,297.2 1570.2,287 1574.5,292.4 1578.8,294.2 1581.6,296.8 1583.2,306.5 1584.7,293.5 1590.7,294.6 1596.1,295.7 1599.4,299.4 1603.7,296.8 1610.1,297.8 1616.6,300 1620.9,302.2 1625.3,301.1 1628.5,295.7 1630.7,291.4 1633.9,298.9 1638.2,308.6 1640.4,313.6 1643,298.9 1645.8,305.4 1648.6,307.6 1651.2,305.8 1655.5,309.7 1660.9,313.6 1664.1,312.3 1666.7,324.8 1668.5,329.6 1671.7,318.4 1674.9,319.4 1678.8,326.4 1681.4,314 1683.2,324.8 1684.9,308.6 1686.2,323.8 1687.5,291.4 1690.1,305.4 1693.3,321.6 1695.5,324.8 1698.7,318.4 1701.9,313 1707.3,310.2 1712.7,308 1716,304.3 1719.2,296.8 1723.5,293.5 1726.3,288.1 1725.7,285.5" fill="none" stroke="#0000ff" stroke-width="3.4" stroke-linejoin="round" />
<polyline points="1771.1,284.7 1776.5,283.2 1785.1,283.4 1790.5,281.6 1793.7,283.8 1799.1,282.1 1802.4,283.6 1811,282.9 1819.7,282.7 1827.2,282.5" fill="none" stroke="#0000ff" stroke-width="3.4" stroke-linejoin="round" />
<polyline points="1771.1,285.5 1776.5,287 1785.1,286.8 1790.5,288.6 1793.7,286.4 1799.1,288.1 1802.4,286.6 1811,287.3 1819.7,287.5 1827.2,287.7" fill="none" stroke="#0000ff" stroke-width="3.4" stroke-linejoin="round" />
<polyline points="1575.6,284.7 1586.4,283.4 1608,283.2 1629.6,282.9 1651.2,282.5 1668.5,281.6 1683.6,282.3 1694.4,283.2 1705.2,284.2" fill="none" stroke="#00ff00" stroke-width="3.4" stroke-linejoin="round" />
<polyline points="1575.6,285.5 1586.4,286.8 1608,287 1629.6,287.3 1651.2,287.7 1668.5,288.6 1683.6,287.9 1694.4,287 1705.2,286" fill="none" stroke="#00ff00" stroke-width="3.4" stroke-linejoin="round" />
<polyline points="1178.2,286.6 1828.5,286.6" fill="none" stroke="#ff0000" stroke-width="1.6" stroke-linejoin="round" />
<polyline points="1063.5,285.1 1828.5,285.1" fill="none" stroke="#000" stroke-width="3.6" stroke-linejoin="round" />
</g>
<line x1="1606.6" y1="59.5" x2="1643.9" y2="59.5" stroke="#00ff00" stroke-width="3.4" />
<text transform="translate(1654.5,68.2) scale(1.020,1)" font-family="'Liberation Serif','DejaVu Serif',serif" font-size="25.8" font-weight="normal" text-anchor="start" >Be</text>
<line x1="1606.6" y1="100.5" x2="1643.9" y2="100.5" stroke="#0000ff" stroke-width="3.4" />
<text transform="translate(1654.5,109.2) scale(1.020,1)" font-family="'Liberation Serif','DejaVu Serif',serif" font-size="25.8" font-weight="normal" text-anchor="start" >N</text>
<line x1="1606.6" y1="141.5" x2="1643.9" y2="141.5" stroke="#ff0000" stroke-width="3.4" />
<text transform="translate(1654.5,150.2) scale(1.020,1)" font-family="'Liberation Serif','DejaVu Serif',serif" font-size="25.8" font-weight="normal" text-anchor="start" >O</text>
<line x1="1111.5" y1="194.5" x2="1111.5" y2="260.9" stroke="#000" stroke-width="3.6" />
<polyline points="1101.7,211.5 1111.5,193.5 1121.3,211.5" fill="none" stroke="#000" stroke-width="3.6" stroke-linejoin="round" stroke-linejoin="miter"/>
<line x1="1111.5" y1="307" x2="1111.5" y2="370.5" stroke="#000" stroke-width="3.6" />
<polyline points="1101.7,353.5 1111.5,371.5 1121.3,353.5" fill="none" stroke="#000" stroke-width="3.6" stroke-linejoin="round" />
<rect x="1422.7" y="199.5" width="28.8" height="174.2" fill="none" stroke="#000" stroke-width="3.3"/>
<line x1="1452.5" y1="198.5" x2="1582.8" y2="319.5" stroke="#000" stroke-width="3.3" />
<line x1="1422.7" y1="199.5" x2="1479.8" y2="322.5" stroke="#000" stroke-width="3.3" />
<line x1="1451.5" y1="373.7" x2="1479.8" y2="403.4" stroke="#000" stroke-width="3.3" />
<line x1="1422.7" y1="373.7" x2="1479.8" y2="538" stroke="#000" stroke-width="3.3" />
<rect x="1479.8" y="319.5" width="103" height="218.5" fill="#fff" stroke="#000" stroke-width="3.3"/>
<polyline points="1481,425.8 1581.1,425.8" fill="none" stroke="#ff0000" stroke-width="1.5" stroke-linejoin="round" />
<polyline points="1504.1,425.8 1510.7,393.5 1520.7,377 1524.8,352.1 1527.3,345.5 1529.8,352.1 1534.7,385.2 1543.9,396 1550.5,425.8" fill="none" stroke="#0000ff" stroke-width="2" stroke-linejoin="round" />
<polyline points="1504.1,425.8 1510.7,458 1520.7,474.6 1524.8,499.4 1527.3,506 1529.8,499.4 1534.7,466.3 1543.9,455.6 1550.5,425.8" fill="none" stroke="#0000ff" stroke-width="2" stroke-linejoin="round" />
<polyline points="1505,425.8 1510.7,410.1 1520.7,401.8 1527.3,388.5 1533.9,407.6 1543.9,413.4 1550.5,425.8" fill="none" stroke="#ff0000" stroke-width="2" stroke-linejoin="round" />
<polyline points="1505,425.8 1510.7,441.5 1520.7,449.8 1527.3,463 1533.9,444 1543.9,438.2 1550.5,425.8" fill="none" stroke="#ff0000" stroke-width="2" stroke-linejoin="round" />
<polyline points="1505.8,425.8 1514.1,420.8 1522.3,419.2 1527.3,416.7 1532.3,419.2 1540.5,422.5 1550.5,425.8" fill="none" stroke="#00ff00" stroke-width="2" stroke-linejoin="round" />
<polyline points="1505.8,425.8 1514.1,430.7 1522.3,432.4 1527.3,434.9 1532.3,432.4 1540.5,429.1 1550.5,425.8" fill="none" stroke="#00ff00" stroke-width="2" stroke-linejoin="round" />
<line x1="1552.6" y1="321.5" x2="1552.6" y2="536" stroke="#000" stroke-width="2.6" stroke-dasharray="3 4"/>
<rect x="1063.5" y="15.5" width="765" height="539.2" fill="none" stroke="#000" stroke-width="3.3"/>
<text transform="translate(1053.3,565.4) scale(1.010,1)" font-family="'Liberation Serif','DejaVu Serif',serif" font-size="32" font-weight="normal" text-anchor="end" >-30</text>
<text transform="translate(1053.3,475.6) scale(1.010,1)" font-family="'Liberation Serif','DejaVu Serif',serif" font-size="32" font-weight="normal" text-anchor="end" >-20</text>
<text transform="translate(1053.3,385.7) scale(1.010,1)" font-family="'Liberation Serif','DejaVu Serif',serif" font-size="32" font-weight="normal" text-anchor="end" >-10</text>
<text transform="translate(1053.3,295.8) scale(1.010,1)" font-family="'Liberation Serif','DejaVu Serif',serif" font-size="32" font-weight="normal" text-anchor="end" >0</text>
<text transform="translate(1053.3,206) scale(1.010,1)" font-family="'Liberation Serif','DejaVu Serif',serif" font-size="32" font-weight="normal" text-anchor="end" >10</text>
<text transform="translate(1053.3,116.1) scale(1.010,1)" font-family="'Liberation Serif','DejaVu Serif',serif" font-size="32" font-weight="normal" text-anchor="end" >20</text>
<text transform="translate(1053.3,26.2) scale(1.010,1)" font-family="'Liberation Serif','DejaVu Serif',serif" font-size="32" font-weight="normal" text-anchor="end" >30</text>
<text transform="translate(1063.5,588.4) scale(1.010,1)" font-family="'Liberation Serif','DejaVu Serif',serif" font-size="32" font-weight="normal" text-anchor="middle" >-5</text>
<text transform="translate(1140,588.4) scale(1.010,1)" font-family="'Liberation Serif','DejaVu Serif',serif" font-size="32" font-weight="normal" text-anchor="middle" >-4</text>
<text transform="translate(1216.5,588.4) scale(1.010,1)" font-family="'Liberation Serif','DejaVu Serif',serif" font-size="32" font-weight="normal" text-anchor="middle" >-3</text>
<text transform="translate(1293,588.4) scale(1.010,1)" font-family="'Liberation Serif','DejaVu Serif',serif" font-size="32" font-weight="normal" text-anchor="middle" >-2</text>
<text transform="translate(1369.5,588.4) scale(1.010,1)" font-family="'Liberation Serif','DejaVu Serif',serif" font-size="32" font-weight="normal" text-anchor="middle" >-1</text>
<text transform="translate(1446,588.4) scale(1.010,1)" font-family="'Liberation Serif','DejaVu Serif',serif" font-size="32" font-weight="normal" text-anchor="middle" >0</text>
<text transform="translate(1522.5,588.4) scale(1.010,1)" font-family="'Liberation Serif','DejaVu Serif',serif" font-size="32" font-weight="normal" text-anchor="middle" >1</text>
<text transform="translate(1599,588.4) scale(1.010,1)" font-family="'Liberation Serif','DejaVu Serif',serif" font-size="32" font-weight="normal" text-anchor="middle" >2</text>
<text transform="translate(1675.5,588.4) scale(1.010,1)" font-family="'Liberation Serif','DejaVu Serif',serif" font-size="32" font-weight="normal" text-anchor="middle" >3</text>
<text transform="translate(1752,588.4) scale(1.010,1)" font-family="'Liberation Serif','DejaVu Serif',serif" font-size="32" font-weight="normal" text-anchor="middle" >4</text>
<text transform="translate(1828.5,588.4) scale(1.010,1)" font-family="'Liberation Serif','DejaVu Serif',serif" font-size="32" font-weight="normal" text-anchor="middle" >5</text>
<text x="1446" y="622.2" font-family="'Liberation Serif','DejaVu Serif',serif" font-size="31.3" font-weight="normal" text-anchor="middle" textLength="161.5" lengthAdjust="spacingAndGlyphs">Energy (eV)</text>
<text transform="translate(991.8,284.3) rotate(-90)" font-family="'Liberation Serif',serif" font-size="32" text-anchor="middle" textLength="252.4" lengthAdjust="spacingAndGlyphs">Density (states/eV)</text>
<text x="926.2" y="58.6" font-family="'Liberation Sans','DejaVu Sans',sans-serif" font-size="63" font-weight="bold" text-anchor="start" textLength="79.7" lengthAdjust="spacingAndGlyphs">(b)</text>
<clipPath id="clip_c"><rect x="134" y="665" width="764.7" height="540.5"/></clipPath>
<line x1="210.5" y1="665" x2="210.5" y2="688.5" stroke="#000" stroke-width="3.3" />
<line x1="210.5" y1="1205.5" x2="210.5" y2="1182" stroke="#000" stroke-width="3.3" />
<line x1="286.9" y1="665" x2="286.9" y2="688.5" stroke="#000" stroke-width="3.3" />
<line x1="286.9" y1="1205.5" x2="286.9" y2="1182" stroke="#000" stroke-width="3.3" />
<line x1="363.4" y1="665" x2="363.4" y2="688.5" stroke="#000" stroke-width="3.3" />
<line x1="363.4" y1="1205.5" x2="363.4" y2="1182" stroke="#000" stroke-width="3.3" />
<line x1="439.9" y1="665" x2="439.9" y2="688.5" stroke="#000" stroke-width="3.3" />
<line x1="439.9" y1="1205.5" x2="439.9" y2="1182" stroke="#000" stroke-width="3.3" />
<line x1="516.4" y1="665" x2="516.4" y2="688.5" stroke="#000" stroke-width="3.3" />
<line x1="516.4" y1="1205.5" x2="516.4" y2="1182" stroke="#000" stroke-width="3.3" />
<line x1="592.8" y1="665" x2="592.8" y2="688.5" stroke="#000" stroke-width="3.3" />
<line x1="592.8" y1="1205.5" x2="592.8" y2="1182" stroke="#000" stroke-width="3.3" />
<line x1="669.3" y1="665" x2="669.3" y2="688.5" stroke="#000" stroke-width="3.3" />
<line x1="669.3" y1="1205.5" x2="669.3" y2="1182" stroke="#000" stroke-width="3.3" />
<line x1="745.8" y1="665" x2="745.8" y2="688.5" stroke="#000" stroke-width="3.3" />
<line x1="745.8" y1="1205.5" x2="745.8" y2="1182" stroke="#000" stroke-width="3.3" />
<line x1="822.2" y1="665" x2="822.2" y2="688.5" stroke="#000" stroke-width="3.3" />
<line x1="822.2" y1="1205.5" x2="822.2" y2="1182" stroke="#000" stroke-width="3.3" />
<line x1="134" y1="1115.4" x2="157.5" y2="1115.4" stroke="#000" stroke-width="3.3" />
<line x1="898.7" y1="1115.4" x2="875.2" y2="1115.4" stroke="#000" stroke-width="3.3" />
<line x1="134" y1="1025.3" x2="157.5" y2="1025.3" stroke="#000" stroke-width="3.3" />
<line x1="898.7" y1="1025.3" x2="875.2" y2="1025.3" stroke="#000" stroke-width="3.3" />
<line x1="134" y1="935.2" x2="157.5" y2="935.2" stroke="#000" stroke-width="3.3" />
<line x1="898.7" y1="935.2" x2="875.2" y2="935.2" stroke="#000" stroke-width="3.3" />
<line x1="134" y1="845.2" x2="157.5" y2="845.2" stroke="#000" stroke-width="3.3" />
<line x1="898.7" y1="845.2" x2="875.2" y2="845.2" stroke="#000" stroke-width="3.3" />
<line x1="134" y1="755.1" x2="157.5" y2="755.1" stroke="#000" stroke-width="3.3" />
<line x1="898.7" y1="755.1" x2="875.2" y2="755.1" stroke="#000" stroke-width="3.3" />
<rect x="682" y="677" width="118" height="133" fill="#fff"/>
<line x1="516.4" y1="665" x2="516.4" y2="1205.5" stroke="#000" stroke-width="3" stroke-dasharray="7 6.6"/>
<g clip-path="url(#clip_c)">
<polygon points="406.7,849.4 408.8,833.4 412,820.6 414.1,700 417.3,700 417.9,790.7 420.5,790.7 422.7,822.7 424.8,812 427.5,783.2 429.1,836.6 431.2,854.7 435.5,857.9 434.4,892.1 430.2,866.5 427,864.3 422.7,902.7 417.3,902.7 415.2,866.5 410.9,866.5 409.9,854.7" fill="#0000ff" stroke="#0000ff" stroke-width="2" stroke-linejoin="round"/>
<polygon points="481.4,860.1 484.6,833.4 486.7,841.9 489.9,836.6 492,849.4 493.6,811 495.8,811 497.4,838.7 500.6,833.4 502.7,854.7 503.8,881.4 502.7,913.4 497.4,902.7 495.2,883.5 491,885.7 486.7,895.3 482.4,892.1" fill="#0000ff" stroke="#0000ff" stroke-width="2" stroke-linejoin="round"/>
<polygon points="413.5,987.4 415.3,1091 418.3,1089.8 421.5,1124.8 426,1044.9 429.8,1069.8 431.8,1068.6 433.5,962.5 427.8,982.4 419.8,987.4" fill="#0000ff" stroke="#0000ff" stroke-width="2" stroke-linejoin="round"/>
<polygon points="485.9,966.2 488.4,969.9 490.4,1024.9 493.7,1049.8 496.7,999.9 500.9,984.9 502.7,1004.9 509.2,994.9 511.7,1016.1 513.4,987.4 507.2,946.2 498.4,953.7" fill="#0000ff" stroke="#0000ff" stroke-width="2" stroke-linejoin="round"/>
<polyline points="277.5,935.2 279.5,912.2 281.9,924.7 284.4,912.2 286.9,882.2 288.7,909.7 291.2,899.7 293.7,897.2 296.2,912.2 299.9,892.2 302.4,914.7 305.4,904.7 307.9,882.2 311.2,858.5 313.7,902.2 316.2,894.7 318.7,909.7 321.1,902.2 324.9,912.2 328.6,904.7 332.4,919.7 334.9,912.2 338.6,922.2 342.4,912.2 346.1,917.2 349.9,912.2 353.6,915.9 357.4,912.2 361.1,917.2 364.8,913.4 367.8,887.2 369.8,914.7 372.3,929.7 376.1,933.4 382.3,933.4 386.1,924.7 389.8,922.2 393.6,913.4 397.3,922.2 401,914.7 404.8,922.2 408.5,917.2 412.3,912.2 414.8,867.2 416.5,904.7 418.5,902.2 421,929.7 423.5,924.7 426,897.2 428.5,917.2 431,929.7 434.8,919.7 437.3,912.2 439.8,903.5 443.5,912.2 447.2,914.7 451,889.7 453.5,887.2 456.7,877.2 459.2,889.7 461,929.7 463.5,927.2 466,907.2 468.5,892.2 471,896 473.5,914.7 476,924.7 479.7,929.7 489.7,933.4 502.2,934.7" fill="none" stroke="#00ff00" stroke-width="3.4" stroke-linejoin="round" />
<polyline points="278.7,935.2 281.2,967.4 283.7,962.5 286.2,984.9 288.7,969.9 291.2,972.4 293.7,962.5 296.2,955 299.9,948.7 302.4,972.4 305.4,992.4 308.7,974.9 311.2,982.4 313.7,966.2 317.4,960 321.1,952.5 324.9,957.5 328.6,950 332.4,960 336.1,952.5 339.9,958.7 343.6,951.2 347.4,957.5 352.4,950 357.4,953.7 361.1,961.2 364.8,962.5 367.8,952.5 369.8,940 374.8,937.5 382.3,937.5 387.3,943.7 392.3,942.5 396.1,952.5 399.8,945 403.5,956.2 407.3,947.5 411,943.7 414.8,960 417.3,974.9 419.8,969.9 422.3,992.4 424.8,984.9 427.3,969.9 429.8,957.5 433.5,952.5 437.3,957.5 441,960 444.7,965 448.5,957.5 451,960 453.5,983.7 456.7,993.7 459.2,982.4 461.7,947.5 464.7,946.2 467.7,957.5 471,969.9 473.5,962.5 476,947.5 479.7,943.7 485.9,940 492.2,936.2" fill="none" stroke="#00ff00" stroke-width="3.4" stroke-linejoin="round" />
<polyline points="276.2,935.2 277.5,889.7 280,872.2 282.4,874.7 284.9,704.5 286.9,804.8 288.7,854.8 291.2,847.3 293.7,839.8 296.2,869.7 297.9,854.8 299.9,821.1 301.9,864.8 303.7,889.7 305.4,849.8 307.9,844.8 310.4,732.9 312.4,804.8 314.2,849.8 316.2,824.8 317.9,862.3 319.9,872.2 321.9,851 323.6,872.2 325.6,862.3 327.9,821.8 329.9,872.2 331.9,902.2 333.6,877.2 335.6,854.8 337.9,889.7 339.9,897.2 342.4,879.7 344.9,882.2 347.4,874.7 349.9,864.8 352.4,879.7 354.9,874.7 357.4,884.7 359.9,879.7 362.3,889.7 364.8,884.7 366.6,864.8 368.1,826 369.8,877.2 371.6,914.7 373.6,889.7 375.6,877.2 377.8,904.7 379.8,914.7 382.3,912.2 384.8,899.7 387.3,879.7 389.8,872.2 391.6,889.7 393.6,834.8 395.3,808.6 397.3,877.2 399.1,897.2 401,852.3 403.5,859.8 406,882.2 408.5,854.8 410.5,834.8 412.3,822.3 414,714.9 415.5,660 417.3,709.9 418.8,794.8 420.3,789.8 422.3,919.7 424,819.8 426,782.4 427.8,824.8 429.8,839.8 431.8,912.2 434.3,854.8 436.8,859.8 439,831 441,854.8 443.5,849.8 446,854.8 448.5,869.7 451,789.8 452.7,799.8 454.7,764.9 457.2,744.4 459.2,769.9 460.5,759.9 462.2,924.7 464,874.7 466,839.8 467.7,776.1 469.7,794.8 472.2,766.9 474.2,814.8 476,854.8 478,829.8 479.7,849.8 481.7,869.7 483.4,889.7 485.9,832.3 487.7,854.8 489.7,837.3 490.9,912.2 492.7,839.8 494.2,811.1 495.9,839.8 497.7,917.2 500.2,833.5 502.2,847.3 504.2,914.7 505.9,922.2 507.7,864.8 509.2,858.5 510.9,877.2 512.7,882.2 514.2,909.7 515.7,935.2" fill="none" stroke="#0000ff" stroke-width="3.4" stroke-linejoin="round" />
<polyline points="277.5,935.2 278.7,1024.9 280,1091 281.9,997.4 283.7,1044.9 286.2,1064.8 287.9,999.9 289.9,1007.4 291.7,1032.4 293.7,999.9 296.2,1037.4 297.9,969.9 299.9,968.7 302.4,1029.9 304.4,1081.1 306.2,999.9 307.9,1062.3 309.9,1007.4 311.9,1054.8 314.2,999.9 316.2,1009.9 318.7,1063.6 320.4,974.9 322.4,999.9 324.9,984.9 326.9,1022.4 329.4,974.9 331.9,989.9 334.4,1008.6 336.9,977.4 339.4,982.4 341.9,994.9 344.4,976.2 346.9,998.7 349.4,984.9 352.4,981.2 356.1,977.4 358.6,992.4 361.1,1004.9 363.6,989.9 365.3,1042.4 367.3,999.9 369.3,962.5 371.6,947.5 374.1,1042.4 376.1,950 377.8,946.2 379.8,960 382.3,952.5 384.3,974.9 386.1,1024.9 387.8,984.9 389.8,974.9 392.3,1024.9 394.3,982.4 396.8,1038.6 398.6,999.9 401,984.9 403.5,1068.6 405.5,999.9 407.8,984.9 411,982.4 413.5,1024.9 415.3,1091 416.8,999.9 418.3,1089.8 419.8,987.4 421.5,1124.8 423,1212.1 424.3,1212.1 426,1044.9 427.8,982.4 429.8,1069.8 431.8,1068.6 433.5,962.5 436,982.4 438.5,1009.9 441,1018.6 443.5,1023.6 446,1018.6 447.7,1014.9 451,1044.9 453.5,1087.3 456,1097.3 458.5,1116 460.2,1049.8 462.2,1004.9 464,1024.9 466,983.7 468.5,1034.9 471,1064.8 472.7,1082.3 474.7,1024.9 478.5,1012.4 480.9,1002.4 483.4,1007.4 485.9,966.2 488.4,969.9 490.4,1024.9 492.2,969.9 493.7,1212.1 495.2,1212.1 496.7,999.9 498.4,953.7 500.9,984.9 502.7,1004.9 504.7,957.5 507.2,946.2 509.2,994.9 511.7,1016.1 513.4,987.4 515.9,935.2" fill="none" stroke="#0000ff" stroke-width="3.4" stroke-linejoin="round" />
<polyline points="262,935.2 263,839.8 264.2,752.9 265.5,839.8 267,935.2" fill="none" stroke="#0000ff" stroke-width="3.4" stroke-linejoin="round" />
<polyline points="262.5,935.2 263.2,889.7 264.2,843.5 265.2,889.7 266.2,935.2" fill="none" stroke="#ff0000" stroke-width="4" stroke-linejoin="round" />
<polyline points="277.5,935.2 280,934 282.4,932.9 284.9,933 287.4,931.4 289.9,932.2 292.4,928.5 294.9,929 297.4,931.7 299.9,927.2 302.4,931.7 304.9,932.2 307.4,931 309.9,925.9 312.4,926.3 314.9,930.9 317.4,930.4 319.9,927.9 322.4,926.2 324.9,924.7 327.4,927.2 329.9,925.6 332.4,931.9 334.9,931.7 337.4,932.1 339.9,930.9 342.4,932.2 344.9,928 347.4,928.1 349.9,929.8 352.4,928.4 354.9,930.6 357.4,931.8 359.9,932.4 362.3,928 364.8,930.9 368.6,922.2 372.3,933.4 376.1,917.2 377.8,934.7 380.8,934.3 383.8,934 386.8,932.8 389.8,932.2 392.3,930.6 394.8,931.8 397.3,929.9 399.8,933.8 402.3,933.3 404.8,931.7 407.3,930.3 409.8,933.3 412.3,931.4 414.8,930.9 417.3,933.1 419.8,933 422.3,931.3 424.8,931 427.3,932 429.8,931.3 432.3,930.2 434.8,931 437.3,933.4 439.8,932.2 442.2,929.6 444.7,929 447.2,931.6 449.7,929.2 452.2,930.3 454.7,929.7 457.2,927.6 459.7,925.9 462.2,924.8 464.7,931.4 467.2,927.2 469.7,925.5 472.2,928.2 474.7,929.7 477.2,928.2 479.7,931.3 482.2,929.7 484.7,930.6 487.2,932.9 489.7,932.2 492.2,931.5 494.7,932.6 497.2,934.1 499.7,931 502.2,932.7 504.7,931.4 507.2,932.3 509.7,934.4 512.2,934.2 514.7,934.2" fill="none" stroke="#ff0000" stroke-width="3.4" stroke-linejoin="round" />
<polyline points="277.5,935.2 280,937.7 282.4,939.5 284.9,939.8 287.4,939.4 289.9,938 292.4,939.5 294.9,939 297.4,939.8 299.9,937 302.4,938.7 304.9,938.4 307.4,939.6 309.9,938.4 312.4,938.9 314.9,937.5 317.4,936.6 319.9,937.9 322.4,937.4 324.9,938.6 327.4,938.7 329.9,939.2 332.4,937.5 334.9,938.4 337.4,938.9 339.9,940 342.4,943.1 344.9,943.9 347.4,943.7 351.1,940 353.6,939.7 356.1,942.5 359.9,947.5 363.6,941.2 366.7,941.9 369.8,940 372.3,941.6 374.8,947.5 376.8,937.5 380.2,939.1 383.6,940 384.8,962.5 386.1,984.9 387.3,962.5 388.8,938.7 391.5,937.3 394.2,936.7 396.9,939.1 399.6,936.9 402.3,937.5 404.8,936.9 407.3,939.4 409.8,939.4 412.3,937.8 414.8,938.7 418.3,941 421.8,940 423.5,950 425.3,938.7 427.7,938.7 430.1,939.1 432.5,937.4 434.9,939.6 437.3,938.7 439.8,938 442.2,939.3 444.7,939 447.2,937.3 449.7,937.4 452.2,936.8 454.7,936.7 457.2,936.4 459.7,937 462.2,937.8 464.7,937.5 467.2,936.1 469.7,937.9 472.2,936.9 474.7,936.8 477.2,938.1 479.7,937.1 482.2,936.7 484.7,937 487.2,937.5 489.7,937 492.2,935.8 494.7,937.8 497.2,935.5 499.7,936.9 502.2,937 504.7,935.1 507.2,936.5 509.7,935.5 512.2,935.8 514.7,935.5" fill="none" stroke="#ff0000" stroke-width="3.4" stroke-linejoin="round" />
<polyline points="543.6,935.2 544.6,999.9 546.4,1021.1 548.1,999.9 549.6,935.2" fill="none" stroke="#0000ff" stroke-width="3.4" stroke-linejoin="round" />
<polyline points="544.1,935.2 545.1,974.9 546.6,996.2 548.1,974.9 549.1,935.2" fill="none" stroke="#ff0000" stroke-width="4.5" stroke-linejoin="round" />
<polyline points="622.3,935.1 624.2,929.7 638.7,929.7 654.2,928.4 660,926.4 663.9,924.5 666.8,926.4 669.7,925.5 672.6,931.3 674.5,934.2 677.4,930.3 681.3,925.5 684.8,918.7 687.1,926.4 690.9,927.4 696.8,925.5 703.5,922.6 708.4,923.9 716.1,921.6 721.9,918.7 727.7,917.7 731.6,923.5 734.5,925.5 737.4,919.7 741.3,911.5 744.2,917.7 746.1,917.7 749,911.5 751.9,917.7 754.8,916.8 759.6,913.9 761.6,907.7 766.4,909 770.3,901.3 773.2,879 775.1,880 777.1,904.2 779,907.1 781.9,884.8 783.8,896.4 786.2,879 788.7,894.5 790.6,927.4 792.5,933.2 794.5,908.1 797.4,910 800.3,899.3 802.8,896.4 805.1,901.3 809,907.1 814.8,911 820.6,912.9 822.5,916.8 824.5,924.5 827.4,926.4 829.9,931.3 830.7,935.1" fill="none" stroke="#0000ff" stroke-width="3.4" stroke-linejoin="round" />
<polyline points="622.3,935.1 626.1,940 638.7,940 654.2,940.9 661.9,942.9 666.8,945.8 669.7,944.8 672,950.6 674.5,940.9 677.4,937.1 681.3,941.9 685.1,946.8 688,953.5 690.9,944.8 696.8,942.9 702.6,945.8 706.4,947.7 712.2,944.8 720,948.7 727.7,950.6 733.5,951.6 737.4,945.8 741.3,952.6 745.1,958.4 749,950.6 752.9,948.7 756.7,954.5 760.6,952.6 764.5,960.3 767.4,964.2 770.3,961.3 774.2,966.1 777.1,981.6 779,997.1 781.9,970.9 784.8,979.7 786.7,970.9 790.6,977.7 792.5,944.8 794.1,939 795.4,956.4 798.3,953.5 801.2,973.8 803.2,979.7 805.1,970 809,962.2 814.8,957.4 820.6,955.5 825.4,954.5 827.4,958.4 828.3,946.8 830.3,940.9 830.7,935.1" fill="none" stroke="#0000ff" stroke-width="3.4" stroke-linejoin="round" />
<polyline points="677.4,935.1 696.8,933.6 735.5,933.2 774.2,932 793.5,933.2 809,934.8" fill="none" stroke="#00ff00" stroke-width="3.4" stroke-linejoin="round" />
<polyline points="677.4,935.4 696.8,936.9 735.5,937.3 774.2,938.5 793.5,937.3 809,935.7" fill="none" stroke="#00ff00" stroke-width="3.4" stroke-linejoin="round" />
<polyline points="868,935.1 870.9,933.6 878.7,934.2 884.5,933.2 890.3,934.8 896.1,933.2 899,935.1" fill="none" stroke="#0000ff" stroke-width="3.4" stroke-linejoin="round" />
<polyline points="868,935.4 870.9,936.9 878.7,936.3 884.5,937.3 890.3,935.7 896.1,937.3 899,935.4" fill="none" stroke="#0000ff" stroke-width="3.4" stroke-linejoin="round" />
<polyline points="264,936.8 898.7,936.8" fill="none" stroke="#ff0000" stroke-width="1.6" stroke-linejoin="round" />
<polyline points="134,935.2 898.7,935.2" fill="none" stroke="#000" stroke-width="3.6" stroke-linejoin="round" />
</g>
<line x1="688" y1="708.8" x2="724.8" y2="708.8" stroke="#00ff00" stroke-width="3.4" />
<text transform="translate(746,717) scale(1.020,1)" font-family="'Liberation Serif','DejaVu Serif',serif" font-size="24.7" font-weight="normal" text-anchor="start" >Be</text>
<line x1="688" y1="748.1" x2="724.8" y2="748.1" stroke="#0000ff" stroke-width="3.4" />
<text transform="translate(746,756.3) scale(1.020,1)" font-family="'Liberation Serif','DejaVu Serif',serif" font-size="24.7" font-weight="normal" text-anchor="start" >N</text>
<line x1="688" y1="788" x2="724.8" y2="788" stroke="#ff0000" stroke-width="3.4" />
<text transform="translate(746,796.2) scale(1.020,1)" font-family="'Liberation Serif','DejaVu Serif',serif" font-size="24.7" font-weight="normal" text-anchor="start" >OH</text>
<line x1="184.3" y1="843.2" x2="184.3" y2="909.2" stroke="#000" stroke-width="3.6" />
<polyline points="174.5,860.2 184.3,842.2 194.1,860.2" fill="none" stroke="#000" stroke-width="3.6" stroke-linejoin="round" stroke-linejoin="miter"/>
<line x1="184.3" y1="955.7" x2="184.3" y2="1017.5" stroke="#000" stroke-width="3.6" />
<polyline points="174.5,1000.5 184.3,1018.5 194.1,1000.5" fill="none" stroke="#000" stroke-width="3.6" stroke-linejoin="round" />
<rect x="494" y="889.3" width="68" height="173.4" fill="none" stroke="#000" stroke-width="3.3"/>
<line x1="562" y1="889.3" x2="740.9" y2="974.8" stroke="#000" stroke-width="3.3" />
<line x1="494" y1="889.3" x2="581.1" y2="974.8" stroke="#000" stroke-width="3.3" />
<line x1="562" y1="1062.7" x2="583.1" y2="1081.6" stroke="#000" stroke-width="3.3" />
<line x1="494" y1="1062.7" x2="581.1" y2="1189.3" stroke="#000" stroke-width="3.3" />
<rect x="581.1" y="974.8" width="159.8" height="214.5" fill="#fff" stroke="#000" stroke-width="3.3"/>
<g clip-path="url(#clip_ci)">
<clipPath id="clip_ci"><rect x="581.1" y="974.8" width="159.8" height="214.5"/></clipPath>
<polyline points="582.1,986.1 583,991.7 585.8,999.2 588.6,1016.1 592.4,1076.9 599.9,1082 604.5,1038.5 609.6,1015.7 618.6,1040.4 624.2,1068.5 627.9,1087.2 630.7,1094.3" fill="none" stroke="#0000ff" stroke-width="1.6" stroke-linejoin="round" />
<polyline points="582.1,1132.2 583,1137.8 584.9,1152.8 588.6,1156.5 592,1167.8 597.6,1109.7 605.1,1105 613.9,1176.2 618.2,1176.2 623.3,1143.4 627,1132.2 629.8,1104.1 630.7,1094.3" fill="none" stroke="#0000ff" stroke-width="1.6" stroke-linejoin="round" />
<polyline points="583,1091.9 592.4,1094.7 601.7,1092.8 611.1,1094 620.4,1094.7 630.7,1094.3" fill="none" stroke="#ff0000" stroke-width="1.6" stroke-linejoin="round" />
<polyline points="583,1097 592.4,1096.2 601.7,1094.7 614.8,1096.6 630.7,1094.3" fill="none" stroke="#ff0000" stroke-width="1.6" stroke-linejoin="round" />
<polyline points="584.9,1095.7 601.7,1093.8 611.1,1095.7 622.3,1094.3" fill="none" stroke="#00ff00" stroke-width="1.4" stroke-linejoin="round" />
<polyline points="583,1094.3 739.4,1094.3" fill="none" stroke="#ff0000" stroke-width="1.6" stroke-linejoin="round" />
<polyline points="712.2,1094.3 714.1,1132.2 717.5,1182.7 721.6,1169.6 724.4,1132.2 725.7,1094.3" fill="none" stroke="#0000ff" stroke-width="1.6" stroke-linejoin="round" />
<polyline points="714.1,1095.7 717.8,1100.3 723.4,1096.2" fill="none" stroke="#00ff00" stroke-width="2" stroke-linejoin="round" />
<polyline points="712.2,1094.3 716.9,1155.6 723.4,1132.2 725.7,1094.3" fill="none" stroke="#ff0000" stroke-width="1.8" stroke-linejoin="round" />
</g>
<line x1="629.3" y1="976.8" x2="629.3" y2="1187.3" stroke="#000" stroke-width="1.8" stroke-dasharray="2.2 3.2"/>
<rect x="134" y="665" width="764.7" height="540.5" fill="none" stroke="#000" stroke-width="3.3"/>
<text transform="translate(123.3,1216.2) scale(1.010,1)" font-family="'Liberation Serif','DejaVu Serif',serif" font-size="32" font-weight="normal" text-anchor="end" >-30</text>
<text transform="translate(123.3,1126.1) scale(1.010,1)" font-family="'Liberation Serif','DejaVu Serif',serif" font-size="32" font-weight="normal" text-anchor="end" >-20</text>
<text transform="translate(123.3,1036.1) scale(1.010,1)" font-family="'Liberation Serif','DejaVu Serif',serif" font-size="32" font-weight="normal" text-anchor="end" >-10</text>
<text transform="translate(123.3,946) scale(1.010,1)" font-family="'Liberation Serif','DejaVu Serif',serif" font-size="32" font-weight="normal" text-anchor="end" >0</text>
<text transform="translate(123.3,855.9) scale(1.010,1)" font-family="'Liberation Serif','DejaVu Serif',serif" font-size="32" font-weight="normal" text-anchor="end" >10</text>
<text transform="translate(123.3,765.8) scale(1.010,1)" font-family="'Liberation Serif','DejaVu Serif',serif" font-size="32" font-weight="normal" text-anchor="end" >20</text>
<text transform="translate(123.3,675.7) scale(1.010,1)" font-family="'Liberation Serif','DejaVu Serif',serif" font-size="32" font-weight="normal" text-anchor="end" >30</text>
<text transform="translate(134,1238.6) scale(1.010,1)" font-family="'Liberation Serif','DejaVu Serif',serif" font-size="32" font-weight="normal" text-anchor="middle" >-5</text>
<text transform="translate(210.5,1238.6) scale(1.010,1)" font-family="'Liberation Serif','DejaVu Serif',serif" font-size="32" font-weight="normal" text-anchor="middle" >-4</text>
<text transform="translate(286.9,1238.6) scale(1.010,1)" font-family="'Liberation Serif','DejaVu Serif',serif" font-size="32" font-weight="normal" text-anchor="middle" >-3</text>
<text transform="translate(363.4,1238.6) scale(1.010,1)" font-family="'Liberation Serif','DejaVu Serif',serif" font-size="32" font-weight="normal" text-anchor="middle" >-2</text>
<text transform="translate(439.9,1238.6) scale(1.010,1)" font-family="'Liberation Serif','DejaVu Serif',serif" font-size="32" font-weight="normal" text-anchor="middle" >-1</text>
<text transform="translate(516.4,1238.6) scale(1.010,1)" font-family="'Liberation Serif','DejaVu Serif',serif" font-size="32" font-weight="normal" text-anchor="middle" >0</text>
<text transform="translate(592.8,1238.6) scale(1.010,1)" font-family="'Liberation Serif','DejaVu Serif',serif" font-size="32" font-weight="normal" text-anchor="middle" >1</text>
<text transform="translate(669.3,1238.6) scale(1.010,1)" font-family="'Liberation Serif','DejaVu Serif',serif" font-size="32" font-weight="normal" text-anchor="middle" >2</text>
<text transform="translate(745.8,1238.6) scale(1.010,1)" font-family="'Liberation Serif','DejaVu Serif',serif" font-size="32" font-weight="normal" text-anchor="middle" >3</text>
<text transform="translate(822.2,1238.6) scale(1.010,1)" font-family="'Liberation Serif','DejaVu Serif',serif" font-size="32" font-weight="normal" text-anchor="middle" >4</text>
<text transform="translate(898.7,1238.6) scale(1.010,1)" font-family="'Liberation Serif','DejaVu Serif',serif" font-size="32" font-weight="normal" text-anchor="middle" >5</text>
<text x="516.4" y="1272.4" font-family="'Liberation Serif','DejaVu Serif',serif" font-size="31.3" font-weight="normal" text-anchor="middle" textLength="161.5" lengthAdjust="spacingAndGlyphs">Energy (eV)</text>
<text transform="translate(61.5,934.5) rotate(-90)" font-family="'Liberation Serif',serif" font-size="32" text-anchor="middle" textLength="252.4" lengthAdjust="spacingAndGlyphs">Density (states/eV)</text>
<text x="4.5" y="703" font-family="'Liberation Sans','DejaVu Sans',sans-serif" font-size="63" font-weight="bold" text-anchor="start" textLength="73.4" lengthAdjust="spacingAndGlyphs">(c)</text>
<clipPath id="clip_d"><rect x="1064" y="662.7" width="771.8" height="543.6"/></clipPath>
<line x1="1141.2" y1="662.7" x2="1141.2" y2="686.2" stroke="#000" stroke-width="3.3" />
<line x1="1141.2" y1="1206.3" x2="1141.2" y2="1182.8" stroke="#000" stroke-width="3.3" />
<line x1="1218.4" y1="662.7" x2="1218.4" y2="686.2" stroke="#000" stroke-width="3.3" />
<line x1="1218.4" y1="1206.3" x2="1218.4" y2="1182.8" stroke="#000" stroke-width="3.3" />
<line x1="1295.5" y1="662.7" x2="1295.5" y2="686.2" stroke="#000" stroke-width="3.3" />
<line x1="1295.5" y1="1206.3" x2="1295.5" y2="1182.8" stroke="#000" stroke-width="3.3" />
<line x1="1372.7" y1="662.7" x2="1372.7" y2="686.2" stroke="#000" stroke-width="3.3" />
<line x1="1372.7" y1="1206.3" x2="1372.7" y2="1182.8" stroke="#000" stroke-width="3.3" />
<line x1="1449.9" y1="662.7" x2="1449.9" y2="686.2" stroke="#000" stroke-width="3.3" />
<line x1="1449.9" y1="1206.3" x2="1449.9" y2="1182.8" stroke="#000" stroke-width="3.3" />
<line x1="1527.1" y1="662.7" x2="1527.1" y2="686.2" stroke="#000" stroke-width="3.3" />
<line x1="1527.1" y1="1206.3" x2="1527.1" y2="1182.8" stroke="#000" stroke-width="3.3" />
<line x1="1604.3" y1="662.7" x2="1604.3" y2="686.2" stroke="#000" stroke-width="3.3" />
<line x1="1604.3" y1="1206.3" x2="1604.3" y2="1182.8" stroke="#000" stroke-width="3.3" />
<line x1="1681.4" y1="662.7" x2="1681.4" y2="686.2" stroke="#000" stroke-width="3.3" />
<line x1="1681.4" y1="1206.3" x2="1681.4" y2="1182.8" stroke="#000" stroke-width="3.3" />
<line x1="1758.6" y1="662.7" x2="1758.6" y2="686.2" stroke="#000" stroke-width="3.3" />
<line x1="1758.6" y1="1206.3" x2="1758.6" y2="1182.8" stroke="#000" stroke-width="3.3" />
<line x1="1064" y1="1115.7" x2="1087.5" y2="1115.7" stroke="#000" stroke-width="3.3" />
<line x1="1835.8" y1="1115.7" x2="1812.3" y2="1115.7" stroke="#000" stroke-width="3.3" />
<line x1="1064" y1="1025.1" x2="1087.5" y2="1025.1" stroke="#000" stroke-width="3.3" />
<line x1="1835.8" y1="1025.1" x2="1812.3" y2="1025.1" stroke="#000" stroke-width="3.3" />
<line x1="1064" y1="934.5" x2="1087.5" y2="934.5" stroke="#000" stroke-width="3.3" />
<line x1="1835.8" y1="934.5" x2="1812.3" y2="934.5" stroke="#000" stroke-width="3.3" />
<line x1="1064" y1="843.9" x2="1087.5" y2="843.9" stroke="#000" stroke-width="3.3" />
<line x1="1835.8" y1="843.9" x2="1812.3" y2="843.9" stroke="#000" stroke-width="3.3" />
<line x1="1064" y1="753.3" x2="1087.5" y2="753.3" stroke="#000" stroke-width="3.3" />
<line x1="1835.8" y1="753.3" x2="1812.3" y2="753.3" stroke="#000" stroke-width="3.3" />
<rect x="1612" y="674" width="188" height="146" fill="#fff"/>
<line x1="1449.9" y1="662.7" x2="1449.9" y2="1206.3" stroke="#000" stroke-width="3" stroke-dasharray="7 6.6"/>
<g clip-path="url(#clip_d)">
<polygon points="1337.3,836.8 1339.1,823 1344.8,839.3 1348.6,821.8 1352.8,791.3 1356.5,816.8 1362.3,783.1 1364.3,851.8 1368.5,869.2 1370.3,888 1364.8,886.7 1359.8,879.2 1354.8,899.2 1351,879.2 1344.8,876.7 1341.1,861.8" fill="#0000ff" stroke="#0000ff" stroke-width="2" stroke-linejoin="round"/>
<polygon points="1337.3,1032.2 1339.1,1046 1344.8,1029.7 1348.6,1047.2 1352.8,1077.7 1356.5,1052.2 1362.3,1085.9 1364.3,1017.2 1368.5,999.8 1370.3,981 1364.8,982.3 1359.8,989.8 1354.8,969.8 1351,989.8 1344.8,992.3 1341.1,1007.2" fill="#0000ff" stroke="#0000ff" stroke-width="2" stroke-linejoin="round"/>
<polyline points="1217,934.2 1218.7,886.7 1221.2,855.5 1223.7,886.7 1227.5,901.7 1231.2,911.7 1234.9,921.7 1237.4,901.7 1239.9,888 1242.4,901.7 1244.9,881.7 1247.9,859.3 1250.4,901.7 1253.7,906.7 1256.2,919.2 1259.9,901.7 1263.7,916.7 1267.4,906.7 1271.1,911.7 1276.1,909.2 1279.9,914.2 1282.4,901.7 1286.1,916.7 1289.9,912.9 1294.9,911.7 1298.6,905.4 1301.1,921.7 1304.9,929.2 1309.9,932.9 1317.3,926.7 1322.3,929.2 1326.1,921.7 1332.3,919.2 1337.3,921.7 1342.3,916.7 1347.3,911.7 1351,914.2 1354.8,901.7 1358.5,909.2 1362.3,891.7 1364.8,911.7 1368.5,919.2 1372.3,905.4 1376,907.9 1379.8,902.9 1384.8,901.7 1388.5,894.2 1391,888 1393.5,877.2 1395.2,891.7 1396.7,921.7 1399.2,895.5 1401.7,899.2 1404.2,890.5 1406.7,916.7 1409.7,924.2 1414.7,929.2 1427.2,931.7 1439.7,933.7" fill="none" stroke="#00ff00" stroke-width="3.4" stroke-linejoin="round" />
<polyline points="1217,934.5 1218.7,969.9 1221.2,1009.9 1223.7,987.4 1226.2,974.9 1228.7,957.5 1231.2,965 1234.9,948.7 1237.4,967.4 1241.2,972.4 1244.9,978.7 1247.4,987.4 1249.9,962.5 1253.7,971.2 1257.4,952.5 1261.2,971.2 1264.9,957.5 1268.7,951.2 1272.4,960 1276.1,950 1279.9,957.5 1283.6,950 1287.4,958.7 1291.1,948.7 1294.9,952.5 1298.6,972.4 1301.1,962.5 1303.6,942.5 1307.4,937.5 1314.8,936.2 1322.3,940 1326.1,946.2 1329.8,945 1334.8,955 1338.6,948.7 1342.3,952.5 1346.1,947.5 1349.8,969.9 1352.3,989.9 1354.8,969.9 1358.5,960 1362.3,965 1366,955 1368.5,942.5 1371,952.5 1374.8,962.5 1378.5,958.7 1382.3,965 1386,974.9 1389.8,982.4 1392.7,992.4 1395.2,957.5 1397.2,941.2 1399.7,977.4 1402.2,973.7 1404.7,950 1409.7,942.5 1414.7,940 1427.2,936.2 1439.7,935" fill="none" stroke="#00ff00" stroke-width="3.4" stroke-linejoin="round" />
<polyline points="1215.7,934.2 1217,861.8 1219.5,761.9 1221.2,726.4 1223,801.8 1225,836.8 1227.5,869.2 1230,879.2 1232.4,871.7 1234.4,844.3 1236.2,854.3 1237.9,800.6 1239.9,836.8 1241.7,809.3 1243.7,854.3 1245.4,811.8 1247.4,744.9 1249.4,821.8 1251.2,816.8 1252.9,851.8 1255.4,886.7 1257.4,869.2 1259.9,848 1261.9,876.7 1263.9,889.2 1266.2,861.8 1268.7,859.3 1270.4,905.4 1272.4,874.2 1274.4,869.2 1276.1,881.7 1277.9,869.2 1279.9,886.7 1281.6,839.3 1283.6,899.2 1286.1,894.2 1288.6,881.7 1291.1,879.2 1294.9,884.2 1297.4,883 1299.9,858.8 1301.9,886.7 1303.6,916.7 1306.1,921.7 1308.6,911.7 1311.1,851.8 1312.8,803.8 1314.8,886.7 1317.3,916.7 1321.1,917.9 1323.6,911.7 1326.1,845.5 1327.8,861.8 1329.8,846.8 1332.3,895.5 1334.8,851.8 1337.3,836.8 1339.1,823 1341.1,861.8 1342.8,879.2 1344.8,839.3 1346.8,874.2 1348.6,821.8 1350.3,851.8 1352.8,791.3 1354.8,899.2 1356.5,816.8 1358.5,876.7 1360.3,846.8 1362.3,783.1 1364.3,861.8 1366,851.8 1368.5,869.2 1370.3,888 1373.5,830.5 1376,856.8 1378.5,841.8 1381,839.3 1383.5,845.5 1386,814.3 1388.5,809.3 1391,779.4 1393.5,768.9 1395.2,801.8 1396.7,911.7 1398.7,771.9 1401,816.8 1402.7,781.9 1404.2,762.4 1406,811.8 1408.5,836.8 1411,826.8 1413.5,841.8 1416,846.8 1418.5,866.7 1421,881.7 1423.5,910.4 1426,856.8 1428,828 1430.2,859.3 1432.2,926.7 1434.2,851.8 1435.4,843 1437.2,861.8 1439.7,869.2 1442.2,874.2 1444.7,879.2 1447.2,886.7 1449.7,911.7 1450.9,934.2" fill="none" stroke="#0000ff" stroke-width="3.4" stroke-linejoin="round" />
<polyline points="1215.7,934.5 1217,1034.9 1218.7,1019.9 1220.5,1099.8 1222,1129.7 1223.7,1064.8 1225.5,1068.6 1227.5,999.9 1229.5,991.2 1231.2,1047.3 1232.9,1007.4 1234.9,967.4 1236.9,1007.4 1238.7,1024.9 1241.2,1042.4 1243.7,1032.4 1245.4,1049.8 1247.4,1069.8 1249.4,994.9 1251.2,1024.9 1253.7,1019.9 1255.4,1017.4 1256.9,974.9 1259.2,984.9 1261.2,1032.4 1263.7,987.4 1265.7,974.9 1268.2,992.4 1270.4,999.9 1272.4,1004.9 1274.4,977.4 1276.1,1004.9 1277.9,976.2 1279.9,984.9 1281.9,977.4 1283.6,1002.4 1286.1,997.4 1288.6,982.4 1291.1,977.4 1293.6,989.9 1296.1,972.4 1298.6,1007.4 1301.6,1028.6 1303.6,982.4 1306.1,950 1308.6,947.5 1311.1,940 1313.6,950 1316.1,974.9 1317.8,1021.1 1319.8,974.9 1321.8,952.5 1324.8,951.2 1327.3,992.4 1329.8,999.9 1332.3,994.9 1334.3,1042.4 1336.1,1042.4 1337.8,1004.9 1339.8,1007.4 1341.8,1024.9 1343.6,1016.1 1345.3,989.9 1347.3,1019.9 1349.1,974.9 1350.5,1099.8 1351.8,1214.6 1353.5,1099.8 1354.8,989.9 1356.8,1042.4 1358.5,992.4 1360.5,1041.1 1362.3,984.9 1364,1049.8 1366,1024.9 1367.8,960 1369.8,999.9 1371.8,1012.4 1373.5,1017.4 1375.3,1034.9 1377.3,1019.9 1379.8,1024.9 1382.3,1047.3 1384.8,1091 1386.8,1064.8 1389,1084.8 1391,1057.3 1392.7,1094.8 1394.2,1101 1395.7,1024.9 1397.2,952.5 1399.2,1074.8 1401,1131 1403,1074.8 1404.7,1012.4 1406.7,1002.4 1409.2,1007.4 1411.7,1047.3 1414.2,1024.9 1416.7,998.7 1419.2,1019.9 1421.7,963.7 1423.5,989.9 1425.5,977.4 1427.2,1049.8 1429.2,1082.3 1430.9,974.9 1432.7,940 1434.7,974.9 1436.4,1012.4 1438.4,950 1440.9,984.9 1443.4,1011.1 1445.9,974.9 1448.4,957.5 1450.9,934.5" fill="none" stroke="#0000ff" stroke-width="3.4" stroke-linejoin="round" />
<polyline points="1215.7,934.2 1218,927.2 1222.5,931.2 1225,932.4 1227.5,932.6 1230,931.7 1232.4,930.9 1234.9,929.4 1237.4,929.7 1239.9,928.3 1242.4,931.6 1244.9,931.7 1247.4,931.2 1249.9,932 1252.4,930.2 1254.9,930.4 1257.4,931.7 1259.9,929.9 1262.4,932.1 1264.9,931.2 1267.4,931.1 1269.9,928.6 1272.4,927.9 1274.9,925.1 1277.4,921.7 1281.1,926.7 1284.9,930.4 1287.4,929.5 1289.9,926.7 1292.4,926.2 1294.9,929.2 1297.4,930.6 1299.9,931.7 1302.4,932.3 1304.9,929.9 1307.4,930.4 1311.1,916.7 1312.8,904.2 1314.8,926.7 1317.3,929.6 1319.8,929.2 1323,927.8 1326.1,924.2 1329.1,910.4 1331.1,926.7 1334.8,924.2 1338.6,915.4 1341.1,926.7 1344.8,922.9 1348.6,920.4 1352.3,926.7 1354.8,927.4 1357.3,922.9 1359.8,920.8 1362.3,921.7 1364.8,921.8 1367.3,927.9 1369.8,930.3 1372.3,931 1374.8,930.4 1377.3,930 1379.8,928.3 1382.3,928.5 1384.8,929.7 1387.3,930.6 1389.8,929.6 1392.2,932.5 1394.7,931.2 1397.2,929.7 1399.7,925.6 1402.2,925.4 1404.7,928.8 1407.2,930.4 1409.7,930.2 1412.2,932.7 1414.7,932.9 1417.2,931.9 1419.7,932.2 1422.2,932.6 1424.7,932.8 1427.2,933.1 1429.7,933.6 1432.2,930.7 1434.7,931.7 1437.2,932.5 1439.7,932.2 1442.5,932 1445.3,933.1 1448.1,932.3 1450.9,933.7" fill="none" stroke="#ff0000" stroke-width="3.4" stroke-linejoin="round" />
<polyline points="1215.7,934.5 1218,938.7 1221.1,937.5 1224.3,936.5 1227.5,937 1230,937.5 1232.4,935.9 1234.9,937.4 1237.4,937 1239.9,937.5 1242.4,936.1 1244.9,937.4 1247.4,935.9 1249.9,937.1 1252.4,936 1254.9,936 1257.4,936.9 1259.9,938 1262.4,936 1264.9,937 1267.4,936.4 1269.9,937.9 1272.4,939.2 1274.9,938.2 1277.4,937.9 1279.9,940.2 1282.4,938.7 1286.1,941.2 1289.9,938.7 1292.4,937.7 1294.9,942 1297.4,941.2 1299.9,945 1302.4,938.7 1304.9,937.6 1307.4,936.7 1309.9,937.5 1313,937.3 1316.1,940 1317.3,955 1318.6,969.9 1319.8,955 1321.6,938.7 1324.3,938.4 1327.1,940.9 1329.8,940 1332.3,938.1 1334.8,939 1337.3,938.6 1339.8,937.5 1342.3,937.1 1344.8,937.6 1347.3,936.1 1349.8,936.1 1352.3,936.6 1354.8,938 1357.3,937.3 1359.8,936.9 1362.3,937.7 1364.8,937.5 1367.3,937.6 1369.8,937.4 1372.3,939.5 1374.8,939.5 1377.3,938.1 1379.8,939.7 1382.3,939.8 1384.8,940 1387.3,940.1 1389.8,937.5 1392.2,938.1 1394.7,936.6 1397.2,938.5 1399.7,935.9 1402.2,936.6 1404.7,937.4 1407.2,935.7 1409.7,936.5 1412.2,935.2 1414.7,936.2 1417.2,936.6 1419.7,936.8 1422.2,936.2 1424.7,936.9 1427.2,935.5 1429.7,936.4 1432.2,936.1 1434.7,936 1437.2,935.7 1439.7,936.4 1442.2,936.6 1444.7,935.5 1447.2,935.9 1449.7,935.5" fill="none" stroke="#ff0000" stroke-width="3.4" stroke-linejoin="round" />
<polyline points="1487.1,934.5 1488.6,960 1490.4,934.5" fill="none" stroke="#0000ff" stroke-width="3.4" stroke-linejoin="round" />
<polyline points="1556.3,934.6 1559.2,929.3 1574.7,929 1590.2,927.4 1596,926.4 1599.9,924.5 1602.8,926.4 1605.7,924.5 1608,931.3 1610.5,934.2 1613.4,931.3 1617.3,926.4 1620.2,912.9 1622.1,911.9 1624,925.5 1628.9,925.5 1634.7,923.5 1639.5,921.2 1644.4,923.1 1652.1,920.6 1657.9,917.7 1664.7,917.3 1668.6,924.5 1671.5,927.4 1674.4,921.6 1679.2,909.6 1682.1,916.8 1685,910.4 1687.9,915.8 1689.8,909.6 1692.4,915.8 1695.6,912.9 1698.5,907.1 1703.4,907.7 1708.2,902.2 1712.1,879 1714,881 1716.3,906.1 1719.4,884.8 1721.8,908.1 1725.3,881.9 1727.6,934.2 1729.5,934.6 1731.4,913.9 1734.3,898.4 1736.3,878.1 1738.2,902.2 1741.1,906.1 1746,910 1750.8,912.3 1755.6,911.9 1759.5,914.8 1761.4,921.6 1764.3,922 1766.3,929.3 1767.6,934.6" fill="none" stroke="#0000ff" stroke-width="3.4" stroke-linejoin="round" />
<polyline points="1556.3,934.6 1559.2,939.4 1574.7,940 1590.2,941.9 1597.9,943.9 1601.8,945.2 1606.6,941.9 1610.5,935.1 1613.4,938 1618.2,941.9 1621.1,950.6 1624,949.7 1626,942.9 1632.8,944.4 1638.6,946.8 1641.5,947.7 1648.2,944.8 1656,947.7 1663.7,950.6 1668.6,946.8 1672.4,940.9 1676.3,948.7 1680.2,963.2 1683.1,952.6 1687.9,950.6 1690.8,952.6 1694.7,954.5 1698.5,964.2 1702.4,960.3 1706.3,961.3 1710.2,968 1713.1,981.6 1716,962.2 1718.9,973.8 1720.8,981.6 1724.7,964.2 1727.6,934.6 1730.5,946.8 1733.4,958.4 1737.2,982.6 1739.2,966.1 1743.1,961.3 1748.9,957.4 1754.7,955.5 1759.5,959.3 1761.4,948.7 1765.3,946.8 1767.2,940.9 1767.6,934.6" fill="none" stroke="#0000ff" stroke-width="3.4" stroke-linejoin="round" />
<polyline points="1613.4,934.6 1632.8,933.2 1671.5,932.8 1710.2,931.3 1729.5,932.8 1748.9,934.4" fill="none" stroke="#00ff00" stroke-width="3.4" stroke-linejoin="round" />
<polyline points="1613.4,934.4 1632.8,935.8 1671.5,936.2 1710.2,937.7 1729.5,936.2 1748.9,934.6" fill="none" stroke="#00ff00" stroke-width="3.4" stroke-linejoin="round" />
<polyline points="1809.8,934.6 1812.7,932.8 1816.6,933.6 1822.4,932.8 1826.3,933.6 1830.1,934.6" fill="none" stroke="#0000ff" stroke-width="3.4" stroke-linejoin="round" />
<polyline points="1809.8,934.4 1812.7,936.2 1816.6,935.4 1822.4,936.2 1826.3,935.4 1830.1,934.4" fill="none" stroke="#0000ff" stroke-width="3.4" stroke-linejoin="round" />
<polyline points="1814.7,934.6 1817.6,932.2 1819.7,928.4 1822,932.2 1825.3,934.6" fill="none" stroke="#ff0000" stroke-width="3.4" stroke-linejoin="round" />
<polyline points="1214.5,936 1835.8,936" fill="none" stroke="#ff0000" stroke-width="1.6" stroke-linejoin="round" />
<polyline points="1064,934.5 1835.8,934.5" fill="none" stroke="#000" stroke-width="3.6" stroke-linejoin="round" />
</g>
<line x1="1623.5" y1="708.2" x2="1660.9" y2="708.2" stroke="#00ff00" stroke-width="3.4" />
<text transform="translate(1682.5,718.8) scale(1.020,1)" font-family="'Liberation Serif','DejaVu Serif',serif" font-size="31.4" font-weight="normal" text-anchor="start" >Be</text>
<line x1="1623.5" y1="752.5" x2="1660.9" y2="752.5" stroke="#0000ff" stroke-width="3.4" />
<text transform="translate(1682.5,763.1) scale(1.020,1)" font-family="'Liberation Serif','DejaVu Serif',serif" font-size="31.4" font-weight="normal" text-anchor="start" >N</text>
<line x1="1623.5" y1="797.3" x2="1660.9" y2="797.3" stroke="#ff0000" stroke-width="3.4" />
<text transform="translate(1682.5,807.9) scale(1.020,1)" font-family="'Liberation Serif','DejaVu Serif',serif" font-size="31.4" font-weight="normal" text-anchor="start" >OOH</text>
<line x1="1111.5" y1="848.2" x2="1111.5" y2="913.9" stroke="#000" stroke-width="3.6" />
<polyline points="1101.7,865.2 1111.5,847.2 1121.3,865.2" fill="none" stroke="#000" stroke-width="3.6" stroke-linejoin="round" stroke-linejoin="miter"/>
<line x1="1111.5" y1="959.8" x2="1111.5" y2="1023.3" stroke="#000" stroke-width="3.6" />
<polyline points="1101.7,1006.3 1111.5,1024.3 1121.3,1006.3" fill="none" stroke="#000" stroke-width="3.6" stroke-linejoin="round" />
<polygon points="1486.6,934.5 1494.1,934.5 1491.1,1099.8 1488.9,1099.8" fill="#ff0000"/>
<rect x="1439.5" y="862.5" width="67.1" height="247.3" fill="none" stroke="#000" stroke-width="3.3"/>
<line x1="1509.6" y1="862.5" x2="1716.9" y2="984.2" stroke="#000" stroke-width="3.3" />
<line x1="1439.5" y1="862.5" x2="1529.3" y2="984.2" stroke="#000" stroke-width="3.3" />
<line x1="1506.6" y1="1109.8" x2="1529.3" y2="1124.8" stroke="#000" stroke-width="3.3" />
<line x1="1439.5" y1="1110.8" x2="1527.3" y2="1186.4" stroke="#000" stroke-width="3.3" />
<rect x="1529.3" y="984.2" width="187.6" height="202.2" fill="#fff" stroke="#000" stroke-width="3.3"/>
<polyline points="1530.9,1046.2 1537.1,1022.5 1540.9,1012 1545.4,1010.5 1549.6,1021.2 1554.6,1020.5 1560.4,1027.5 1564.6,1047.4 1567.1,1053.7 1569.6,1057.9" fill="none" stroke="#0000ff" stroke-width="1.6" stroke-linejoin="round" />
<polyline points="1530.9,1067.4 1534.6,1069.9 1545.4,1114.4 1554.6,1086.1 1563.4,1071.2 1567.8,1062.4 1569.6,1057.9" fill="none" stroke="#0000ff" stroke-width="1.6" stroke-linejoin="round" />
<polyline points="1530.9,1056.9 1545.9,1055.4 1555.9,1056.9 1569.6,1057.9" fill="none" stroke="#ff0000" stroke-width="1.6" stroke-linejoin="round" />
<polyline points="1530.9,1058.9 1545.9,1061.2 1555.9,1058.9 1569.6,1057.9" fill="none" stroke="#ff0000" stroke-width="1.6" stroke-linejoin="round" />
<polyline points="1538.4,1057.9 1545.9,1056.9 1553.4,1057.9 1545.9,1059.4 1538.4,1057.9" fill="none" stroke="#00ff00" stroke-width="2.5" stroke-linejoin="round" />
<polyline points="1530.9,1057.9 1715.2,1057.9" fill="none" stroke="#ff0000" stroke-width="1.6" stroke-linejoin="round" />
<polyline points="1691.4,1057.9 1694.4,1074.9 1700.2,1078.7 1703.2,1064.9 1704.4,1057.9" fill="none" stroke="#0000ff" stroke-width="1.6" stroke-linejoin="round" />
<polyline points="1691.9,1059.4 1703.2,1059.4" fill="none" stroke="#00ff00" stroke-width="2" stroke-linejoin="round" />
<polyline points="1689.4,1057.9 1691.9,1119.9 1694.9,1178.5 1700.2,1168.5 1703.2,1099.9 1705.2,1057.9" fill="none" stroke="#ff0000" stroke-width="1.6" stroke-linejoin="round" />
<line x1="1568.3" y1="986.2" x2="1568.3" y2="1184.4" stroke="#000" stroke-width="1.8" stroke-dasharray="2.2 3.2"/>
<rect x="1064" y="662.7" width="771.8" height="543.6" fill="none" stroke="#000" stroke-width="3.3"/>
<text transform="translate(1053.9,1217.1) scale(1.010,1)" font-family="'Liberation Serif','DejaVu Serif',serif" font-size="32.3" font-weight="normal" text-anchor="end" >-30</text>
<text transform="translate(1053.9,1126.5) scale(1.010,1)" font-family="'Liberation Serif','DejaVu Serif',serif" font-size="32.3" font-weight="normal" text-anchor="end" >-20</text>
<text transform="translate(1053.9,1035.9) scale(1.010,1)" font-family="'Liberation Serif','DejaVu Serif',serif" font-size="32.3" font-weight="normal" text-anchor="end" >-10</text>
<text transform="translate(1053.9,945.3) scale(1.010,1)" font-family="'Liberation Serif','DejaVu Serif',serif" font-size="32.3" font-weight="normal" text-anchor="end" >0</text>
<text transform="translate(1053.9,854.7) scale(1.010,1)" font-family="'Liberation Serif','DejaVu Serif',serif" font-size="32.3" font-weight="normal" text-anchor="end" >10</text>
<text transform="translate(1053.9,764.1) scale(1.010,1)" font-family="'Liberation Serif','DejaVu Serif',serif" font-size="32.3" font-weight="normal" text-anchor="end" >20</text>
<text transform="translate(1053.9,673.5) scale(1.010,1)" font-family="'Liberation Serif','DejaVu Serif',serif" font-size="32.3" font-weight="normal" text-anchor="end" >30</text>
<text transform="translate(1064,1240.4) scale(1.010,1)" font-family="'Liberation Serif','DejaVu Serif',serif" font-size="32.3" font-weight="normal" text-anchor="middle" >-5</text>
<text transform="translate(1141.2,1240.4) scale(1.010,1)" font-family="'Liberation Serif','DejaVu Serif',serif" font-size="32.3" font-weight="normal" text-anchor="middle" >-4</text>
<text transform="translate(1218.4,1240.4) scale(1.010,1)" font-family="'Liberation Serif','DejaVu Serif',serif" font-size="32.3" font-weight="normal" text-anchor="middle" >-3</text>
<text transform="translate(1295.5,1240.4) scale(1.010,1)" font-family="'Liberation Serif','DejaVu Serif',serif" font-size="32.3" font-weight="normal" text-anchor="middle" >-2</text>
<text transform="translate(1372.7,1240.4) scale(1.010,1)" font-family="'Liberation Serif','DejaVu Serif',serif" font-size="32.3" font-weight="normal" text-anchor="middle" >-1</text>
<text transform="translate(1449.9,1240.4) scale(1.010,1)" font-family="'Liberation Serif','DejaVu Serif',serif" font-size="32.3" font-weight="normal" text-anchor="middle" >0</text>
<text transform="translate(1527.1,1240.4) scale(1.010,1)" font-family="'Liberation Serif','DejaVu Serif',serif" font-size="32.3" font-weight="normal" text-anchor="middle" >1</text>
<text transform="translate(1604.3,1240.4) scale(1.010,1)" font-family="'Liberation Serif','DejaVu Serif',serif" font-size="32.3" font-weight="normal" text-anchor="middle" >2</text>
<text transform="translate(1681.4,1240.4) scale(1.010,1)" font-family="'Liberation Serif','DejaVu Serif',serif" font-size="32.3" font-weight="normal" text-anchor="middle" >3</text>
<text transform="translate(1758.6,1240.4) scale(1.010,1)" font-family="'Liberation Serif','DejaVu Serif',serif" font-size="32.3" font-weight="normal" text-anchor="middle" >4</text>
<text transform="translate(1835.8,1240.4) scale(1.010,1)" font-family="'Liberation Serif','DejaVu Serif',serif" font-size="32.3" font-weight="normal" text-anchor="middle" >5</text>
<text x="1449.9" y="1274.6" font-family="'Liberation Serif','DejaVu Serif',serif" font-size="31.8" font-weight="normal" text-anchor="middle" textLength="163.5" lengthAdjust="spacingAndGlyphs">Energy (eV)</text>
<text transform="translate(991.8,933.7) rotate(-90)" font-family="'Liberation Serif',serif" font-size="32.3" text-anchor="middle" textLength="254.8" lengthAdjust="spacingAndGlyphs">Density (states/eV)</text>
<text x="937.5" y="707.3" font-family="'Liberation Sans','DejaVu Sans',sans-serif" font-size="63" font-weight="bold" text-anchor="start" textLength="79.6" lengthAdjust="spacingAndGlyphs">(d)</text>
<clipPath id="clip_e"><rect x="132.7" y="1316.3" width="771.5" height="567.7"/></clipPath>
<line x1="209.8" y1="1316.3" x2="209.8" y2="1338.1" stroke="#000" stroke-width="3.3" />
<line x1="209.8" y1="1884" x2="209.8" y2="1862.2" stroke="#000" stroke-width="3.3" />
<line x1="287" y1="1316.3" x2="287" y2="1338.1" stroke="#000" stroke-width="3.3" />
<line x1="287" y1="1884" x2="287" y2="1862.2" stroke="#000" stroke-width="3.3" />
<line x1="364.1" y1="1316.3" x2="364.1" y2="1338.1" stroke="#000" stroke-width="3.3" />
<line x1="364.1" y1="1884" x2="364.1" y2="1862.2" stroke="#000" stroke-width="3.3" />
<line x1="441.3" y1="1316.3" x2="441.3" y2="1338.1" stroke="#000" stroke-width="3.3" />
<line x1="441.3" y1="1884" x2="441.3" y2="1862.2" stroke="#000" stroke-width="3.3" />
<line x1="518.5" y1="1316.3" x2="518.5" y2="1338.1" stroke="#000" stroke-width="3.3" />
<line x1="518.5" y1="1884" x2="518.5" y2="1862.2" stroke="#000" stroke-width="3.3" />
<line x1="595.6" y1="1316.3" x2="595.6" y2="1338.1" stroke="#000" stroke-width="3.3" />
<line x1="595.6" y1="1884" x2="595.6" y2="1862.2" stroke="#000" stroke-width="3.3" />
<line x1="672.8" y1="1316.3" x2="672.8" y2="1338.1" stroke="#000" stroke-width="3.3" />
<line x1="672.8" y1="1884" x2="672.8" y2="1862.2" stroke="#000" stroke-width="3.3" />
<line x1="749.9" y1="1316.3" x2="749.9" y2="1338.1" stroke="#000" stroke-width="3.3" />
<line x1="749.9" y1="1884" x2="749.9" y2="1862.2" stroke="#000" stroke-width="3.3" />
<line x1="827" y1="1316.3" x2="827" y2="1338.1" stroke="#000" stroke-width="3.3" />
<line x1="827" y1="1884" x2="827" y2="1862.2" stroke="#000" stroke-width="3.3" />
<line x1="132.7" y1="1789.4" x2="154.5" y2="1789.4" stroke="#000" stroke-width="3.3" />
<line x1="904.2" y1="1789.4" x2="882.4" y2="1789.4" stroke="#000" stroke-width="3.3" />
<line x1="132.7" y1="1694.8" x2="154.5" y2="1694.8" stroke="#000" stroke-width="3.3" />
<line x1="904.2" y1="1694.8" x2="882.4" y2="1694.8" stroke="#000" stroke-width="3.3" />
<line x1="132.7" y1="1600.2" x2="154.5" y2="1600.2" stroke="#000" stroke-width="3.3" />
<line x1="904.2" y1="1600.2" x2="882.4" y2="1600.2" stroke="#000" stroke-width="3.3" />
<line x1="132.7" y1="1505.5" x2="154.5" y2="1505.5" stroke="#000" stroke-width="3.3" />
<line x1="904.2" y1="1505.5" x2="882.4" y2="1505.5" stroke="#000" stroke-width="3.3" />
<line x1="132.7" y1="1410.9" x2="154.5" y2="1410.9" stroke="#000" stroke-width="3.3" />
<line x1="904.2" y1="1410.9" x2="882.4" y2="1410.9" stroke="#000" stroke-width="3.3" />
<rect x="745" y="1328.6" width="135" height="99.4" fill="#fff"/>
<line x1="518.5" y1="1340.3" x2="518.5" y2="1884" stroke="#000" stroke-width="3" stroke-dasharray="7 6.6"/>
<g clip-path="url(#clip_e)">
<polyline points="145,1600.1 147,1580.7 148.7,1575.7 150.5,1590.7 153.7,1600.1 157.5,1588.2 160,1565.7 162.5,1575.7 165,1560.7 167.5,1543.2 169.5,1565.7 171.9,1588.2 174.4,1575.7 176.9,1555.7 179.4,1580.7 181.9,1555.7 184.4,1580.7 186.9,1560.7 189.4,1549.5 191.9,1568.2 194.4,1545.7 196.9,1580.7 199.4,1563.2 201.9,1550.7 204.4,1583.2 207.4,1555.7 209.9,1588.2 212.4,1565.7 214.9,1580.7 218.6,1575.7 222.4,1583.2 226.1,1585.7 229.9,1578.2 233.6,1583.2 237.4,1580.7 241.1,1570.7 243.6,1575.7 246.1,1590.7 249.4,1600.1 252.3,1590.7 254.1,1570.7 256.1,1588.2 259.8,1590.7 264.8,1593.2 268.6,1585.7 272.3,1580.7 276.1,1560.7 278.6,1565.7 281.1,1578.2 283.6,1570.7 286.1,1590.7 289.8,1540.7 291.8,1528.2 293.5,1565.7 296,1593.2 299.8,1578.2 302.3,1573.2 304.8,1588.2 308.5,1568.2 311,1545.7 313.5,1580.7 316,1590.7 319.8,1575.7 323.5,1560.7 326,1568.2 329.8,1559.4 332.2,1565.7 334.7,1561.9 337.2,1585.7 339.2,1565.7 341,1540.7 342.7,1524.5 344.7,1565.7 347.2,1590.7 351,1595.7 359.7,1596.9 367.2,1594.4 374.7,1598.1 384.7,1598.1 389.7,1600.1" fill="none" stroke="#00ff00" stroke-width="3.4" stroke-linejoin="round" />
<polyline points="145,1600.2 147,1619.6 148.7,1624.6 150.5,1609.6 153.7,1600.2 157.5,1612.1 160,1634.6 162.5,1624.6 165,1639.6 167.5,1657.1 169.5,1634.6 171.9,1612.1 174.4,1624.6 176.9,1644.6 179.4,1619.6 181.9,1644.6 184.4,1619.6 186.9,1639.6 189.4,1650.8 191.9,1632.1 194.4,1654.6 196.9,1619.6 199.4,1637.1 201.9,1649.6 204.4,1617.1 207.4,1644.6 209.9,1612.1 212.4,1634.6 214.9,1619.6 218.6,1624.6 222.4,1617.1 226.1,1614.6 229.9,1622.1 233.6,1617.1 237.4,1619.6 241.1,1629.6 243.6,1624.6 246.1,1609.6 249.4,1600.2 252.3,1609.6 254.1,1629.6 256.1,1612.1 259.8,1609.6 264.8,1607.1 268.6,1614.6 272.3,1619.6 276.1,1639.6 278.6,1634.6 281.1,1622.1 283.6,1629.6 286.1,1609.6 289.8,1659.6 291.8,1672.1 293.5,1634.6 296,1607.1 299.8,1622.1 302.3,1627.1 304.8,1612.1 308.5,1632.1 311,1654.6 313.5,1619.6 316,1609.6 319.8,1624.6 323.5,1639.6 326,1632.1 329.8,1640.9 332.2,1634.6 334.7,1638.4 337.2,1614.6 339.2,1634.6 341,1659.6 342.7,1675.8 344.7,1634.6 347.2,1609.6 351,1604.6 359.7,1603.4 367.2,1605.9 374.7,1602.2 384.7,1602.2 389.7,1600.2" fill="none" stroke="#00ff00" stroke-width="3.4" stroke-linejoin="round" />
<polyline points="142.5,1600.1 143.7,1555.7 145,1538.2 147,1563.2 148.7,1540.7 150,1530.7 152,1585.7 153.7,1600.1 156.2,1565.7 158.7,1515.8 160.5,1550.7 162.5,1570.7 164.5,1500.8 166.7,1500.8 169.2,1454.1 171.2,1515.8 172.9,1555.7 174.9,1575.7 176.7,1493.3 178.7,1540.7 180.7,1490.8 182.4,1454.8 184.4,1515.8 186.2,1555.7 188.7,1474.6 190.7,1510.8 192.4,1490.8 194.4,1460.8 196.4,1515.8 198.4,1555.7 200.4,1469.1 202.4,1515.8 204.4,1550.7 206.2,1505.8 208.2,1487.3 209.9,1540.7 212.4,1498.3 214.4,1553.2 216.9,1540.7 219.4,1535.7 221.4,1530.7 223.6,1553.2 226.1,1556.9 228.6,1558.2 231.1,1537 232.9,1550.7 235.4,1552 237.9,1558.2 240.4,1540.7 242.4,1522 244.9,1535.7 246.9,1565.7 249.4,1600.1 251.1,1515.8 252.8,1451.6 254.8,1540.7 256.8,1510.8 258.8,1575.7 261.1,1580.7 263.6,1585.7 266.8,1584.4 269.3,1540.7 271.1,1505.8 272.8,1565.7 274.8,1540.7 276.8,1448.3 278.8,1500.8 280.6,1448.3 282.3,1430.9 284.1,1505.8 286.1,1565.7 288.1,1465.8 290,1326.5 292,1440.8 293.5,1429.6 295.3,1575.7 297.3,1540.7 299,1515.8 300.8,1503.3 302.8,1515.8 304.8,1555.7 307.3,1515.8 309.3,1475.8 311.5,1445.8 313.5,1540.7 316,1545.7 317.8,1528.2 319.8,1505.8 321.8,1490.8 323.5,1475.8 325.3,1514.5 327.3,1473.3 329.3,1468.3 331.2,1505.8 333.5,1442.1 335.2,1475.8 336.7,1550.7 338.7,1505.8 340.5,1415.9 342.2,1367.2 344.2,1420.9 346,1475.8 347.7,1523.2 349.7,1535.7 351.7,1525.7 353.7,1540.7 356,1542 358.5,1548.2 361,1535.7 363.5,1545.7 365.5,1540.7 367.2,1433.9 369,1580.7 370.7,1475.8 372.2,1442.1 373.9,1588.2 377.2,1590.7 379.7,1588.2 382.2,1540.7 384.4,1514 386.7,1540.7 388.4,1578.2 390.2,1600.1" fill="none" stroke="#0000ff" stroke-width="3.4" stroke-linejoin="round" />
<polyline points="142.5,1600.2 143.7,1644.6 145,1662.1 147,1637.1 148.7,1659.6 150,1669.6 152,1614.6 153.7,1600.2 156.2,1634.6 158.7,1684.5 160.5,1649.6 162.5,1629.6 164.5,1699.5 166.7,1699.5 169.2,1746.2 171.2,1684.5 172.9,1644.6 174.9,1624.6 176.7,1707 178.7,1659.6 180.7,1709.5 182.4,1745.5 184.4,1684.5 186.2,1644.6 188.7,1725.7 190.7,1689.5 192.4,1709.5 194.4,1739.5 196.4,1684.5 198.4,1644.6 200.4,1731.2 202.4,1684.5 204.4,1649.6 206.2,1694.5 208.2,1713 209.9,1659.6 212.4,1702 214.4,1647.1 216.9,1659.6 219.4,1664.6 221.4,1669.6 223.6,1647.1 226.1,1643.4 228.6,1642.1 231.1,1663.3 232.9,1649.6 235.4,1648.3 237.9,1642.1 240.4,1659.6 242.4,1678.3 244.9,1664.6 246.9,1634.6 249.4,1600.2 251.1,1684.5 252.8,1748.7 254.8,1659.6 256.8,1689.5 258.8,1624.6 261.1,1619.6 263.6,1614.6 266.8,1615.9 269.3,1659.6 271.1,1694.5 272.8,1634.6 274.8,1659.6 276.8,1752 278.8,1699.5 280.6,1752 282.3,1769.4 284.1,1694.5 286.1,1634.6 288.1,1734.5 290,1873.8 292,1759.5 293.5,1770.7 295.3,1624.6 297.3,1659.6 299,1684.5 300.8,1697 302.8,1684.5 304.8,1644.6 307.3,1684.5 309.3,1724.5 311.5,1754.5 313.5,1659.6 316,1654.6 317.8,1672.1 319.8,1694.5 321.8,1709.5 323.5,1724.5 325.3,1685.8 327.3,1727 329.3,1732 331.2,1694.5 333.5,1758.2 335.2,1724.5 336.7,1649.6 338.7,1694.5 340.5,1784.4 342.2,1833.1 344.2,1779.4 346,1724.5 347.7,1677.1 349.7,1664.6 351.7,1674.6 353.7,1659.6 356,1658.3 358.5,1652.1 361,1664.6 363.5,1654.6 365.5,1659.6 367.2,1766.4 369,1619.6 370.7,1724.5 372.2,1758.2 373.9,1612.1 377.2,1609.6 379.7,1612.1 382.2,1659.6 384.4,1686.3 386.7,1659.6 388.4,1622.1 390.2,1600.2" fill="none" stroke="#0000ff" stroke-width="3.4" stroke-linejoin="round" />
<polyline points="548.4,1600.1 552.5,1596.8 556,1594.9 559.5,1597 568.6,1598.1 587.4,1598.4 606.2,1598.1 610.2,1592.7 613.1,1587.9 616.1,1592.7 619.6,1600.1" fill="none" stroke="#00ff00" stroke-width="3.4" stroke-linejoin="round" />
<polyline points="548.4,1600.2 552.5,1603.5 556,1605.4 559.5,1603.3 568.6,1602.2 587.4,1601.9 606.2,1602.2 610.2,1607.6 613.1,1612.4 616.1,1607.6 619.6,1600.2" fill="none" stroke="#00ff00" stroke-width="3.4" stroke-linejoin="round" />
<polyline points="626.3,1600.1 633,1597 646.4,1596.2 667.9,1596.5 684,1596.5 702.8,1598.1 708.2,1600.1" fill="none" stroke="#00ff00" stroke-width="3.4" stroke-linejoin="round" />
<polyline points="626.3,1600.2 633,1603.3 646.4,1604.1 667.9,1603.8 684,1603.8 702.8,1602.2 708.2,1600.2" fill="none" stroke="#00ff00" stroke-width="3.4" stroke-linejoin="round" />
<polyline points="802.1,1600.1 808.8,1596.8 812.8,1593.8 816.9,1597 826.3,1598.6 837,1600.1" fill="none" stroke="#00ff00" stroke-width="3.4" stroke-linejoin="round" />
<polyline points="802.1,1600.2 808.8,1603.5 812.8,1606.5 816.9,1603.3 826.3,1601.7 837,1600.2" fill="none" stroke="#00ff00" stroke-width="3.4" stroke-linejoin="round" />
<polyline points="882.6,1600.1 888,1595.4 896,1596.2 906.8,1595.4" fill="none" stroke="#00ff00" stroke-width="3.4" stroke-linejoin="round" />
<polyline points="882.6,1600.2 888,1604.9 896,1604.1 906.8,1604.9" fill="none" stroke="#00ff00" stroke-width="3.4" stroke-linejoin="round" />
<polyline points="490.2,1600.1 492.1,1595.4 506.8,1592.7 517.6,1590.6 520.3,1590 522.9,1583.3 525.6,1588.7 529.7,1588.7 532.3,1595.4 532.9,1600.1" fill="none" stroke="#0000ff" stroke-width="3.4" stroke-linejoin="round" />
<polyline points="490.2,1600.2 492.1,1604.9 506.8,1607.6 517.6,1609.7 520.3,1610.3 522.9,1617 525.6,1611.6 529.7,1611.6 532.3,1604.9 532.9,1600.2" fill="none" stroke="#0000ff" stroke-width="3.4" stroke-linejoin="round" />
<polyline points="545.8,1600.1 547.1,1592.7 550.3,1582 552.5,1575.3 556,1569.9 558.4,1582 561.9,1586 565.4,1579.9 567.2,1591.4 571.3,1592.2 575.3,1589.5 579.3,1590.6 584.7,1589.5 590,1586.8 594.1,1590 599.4,1594.1 606.2,1596 608.8,1587.4 611,1547.1 613.1,1495.6 615.3,1547.1 616.9,1587.4 619.6,1596.8 622.3,1600.1" fill="none" stroke="#0000ff" stroke-width="3.4" stroke-linejoin="round" />
<polyline points="545.8,1600.2 547.1,1607.6 550.3,1618.3 552.5,1625 556,1630.4 558.4,1618.3 561.9,1614.3 565.4,1620.4 567.2,1608.9 571.3,1608.1 575.3,1610.8 579.3,1609.7 584.7,1610.8 590,1613.5 594.1,1610.3 599.4,1606.2 606.2,1604.3 608.8,1612.9 611,1653.2 613.1,1704.7 615.3,1653.2 616.9,1612.9 619.6,1603.5 622.3,1600.2" fill="none" stroke="#0000ff" stroke-width="3.4" stroke-linejoin="round" />
<polyline points="624.9,1600.1 627.6,1590 631.7,1579.3 635.1,1568.6 638.4,1573.9 643.2,1567.2 647.8,1572.6 651.8,1575.3 655.8,1571.3 659,1551.9 661.2,1573.9 665.2,1562.7 667.9,1576.6 670,1598.1 671.9,1600.1 673.8,1587.4 675.9,1565.9 678.6,1554.6 681.8,1564.6 686.7,1571.3 692,1575.3 696.1,1583.3 698.8,1588.7 704.1,1590.6 707.6,1594.1 708.7,1600.1" fill="none" stroke="#0000ff" stroke-width="3.4" stroke-linejoin="round" />
<polyline points="624.9,1600.2 627.6,1610.3 631.7,1621 635.1,1631.7 638.4,1626.4 643.2,1633.1 647.8,1627.7 651.8,1625 655.8,1629 659,1648.4 661.2,1626.4 665.2,1637.6 667.9,1623.7 670,1602.2 671.9,1600.2 673.8,1612.9 675.9,1634.4 678.6,1645.7 681.8,1635.7 686.7,1629 692,1625 696.1,1617 698.8,1611.6 704.1,1609.7 707.6,1606.2 708.7,1600.2" fill="none" stroke="#0000ff" stroke-width="3.4" stroke-linejoin="round" />
<polyline points="719.7,1600.1 721.6,1595.4 724.3,1587.4 726.4,1582.8 727.5,1592.7 728.3,1600.1" fill="none" stroke="#0000ff" stroke-width="3.4" stroke-linejoin="round" />
<polyline points="719.7,1600.2 721.6,1604.9 724.3,1612.9 726.4,1617.5 727.5,1607.6 728.3,1600.2" fill="none" stroke="#0000ff" stroke-width="3.4" stroke-linejoin="round" />
<polyline points="765.9,1600.1 768.5,1594.1 771.2,1598.1 780.6,1598.1 791.4,1597.6 799.4,1596.8 803.4,1590 807.5,1586 810.1,1587.4 812.3,1572.6 814.2,1587.4 816.9,1592.7 820.3,1581.5 823.6,1590 827.6,1592.7 831.6,1595.4 836.5,1587.9 839.7,1595.4 843.7,1592.2 847.7,1595.4 851.8,1594.1 855.8,1590 859.8,1595.4 863.8,1592.7 867.9,1596 871.9,1594.1 874.6,1587.9 878.6,1594.1 881.3,1588.7 884,1595.4 887.5,1578 890.1,1590 893.4,1583.3 897.4,1590 901.4,1587.4 906.8,1588.7" fill="none" stroke="#0000ff" stroke-width="3.4" stroke-linejoin="round" />
<polyline points="765.9,1600.2 768.5,1606.2 771.2,1602.2 780.6,1602.2 791.4,1602.7 799.4,1603.5 803.4,1610.3 807.5,1614.3 810.1,1612.9 812.3,1627.7 814.2,1612.9 816.9,1607.6 820.3,1618.8 823.6,1610.3 827.6,1607.6 831.6,1604.9 836.5,1612.4 839.7,1604.9 843.7,1608.1 847.7,1604.9 851.8,1606.2 855.8,1610.3 859.8,1604.9 863.8,1607.6 867.9,1604.3 871.9,1606.2 874.6,1612.4 878.6,1606.2 881.3,1611.6 884,1604.9 887.5,1622.3 890.1,1610.3 893.4,1617 897.4,1610.3 901.4,1612.9 906.8,1611.6" fill="none" stroke="#0000ff" stroke-width="3.4" stroke-linejoin="round" />
<polyline points="155,1600.2 882.2,1600.2" fill="none" stroke="#ff0000" stroke-width="3.6" stroke-linejoin="round" />
</g>
<line x1="752.4" y1="1349.2" x2="789.1" y2="1349.2" stroke="#00ff00" stroke-width="3.6" />
<text transform="translate(810.5,1358.7) scale(1.020,1)" font-family="'Liberation Serif','DejaVu Serif',serif" font-size="29.8" font-weight="normal" text-anchor="start" >Be</text>
<line x1="752.4" y1="1380.2" x2="789.1" y2="1380.2" stroke="#0000ff" stroke-width="3.6" />
<text transform="translate(810.5,1389.7) scale(1.020,1)" font-family="'Liberation Serif','DejaVu Serif',serif" font-size="29.8" font-weight="normal" text-anchor="start" >N</text>
<line x1="752.4" y1="1411" x2="789.1" y2="1411" stroke="#ff0000" stroke-width="3.6" />
<text transform="translate(810.5,1420.5) scale(1.020,1)" font-family="'Liberation Serif','DejaVu Serif',serif" font-size="29.8" font-weight="normal" text-anchor="start" >H</text>
<line x1="439.6" y1="1510" x2="439.6" y2="1575.7" stroke="#000" stroke-width="3.6" />
<polyline points="429.8,1527 439.6,1509 449.4,1527" fill="none" stroke="#000" stroke-width="3.6" stroke-linejoin="round" stroke-linejoin="miter"/>
<line x1="439.6" y1="1621.3" x2="439.6" y2="1685.4" stroke="#000" stroke-width="3.6" />
<polyline points="429.8,1668.4 439.6,1686.4 449.4,1668.4" fill="none" stroke="#000" stroke-width="3.6" stroke-linejoin="round" />
<rect x="132.7" y="1316.3" width="771.5" height="567.7" fill="none" stroke="#000" stroke-width="3.3"/>
<text transform="translate(122.7,1894.3) scale(1.050,1)" font-family="'Liberation Serif','DejaVu Serif',serif" font-size="30.7" font-weight="normal" text-anchor="end" >-30</text>
<text transform="translate(122.7,1799.7) scale(1.050,1)" font-family="'Liberation Serif','DejaVu Serif',serif" font-size="30.7" font-weight="normal" text-anchor="end" >-20</text>
<text transform="translate(122.7,1705.1) scale(1.050,1)" font-family="'Liberation Serif','DejaVu Serif',serif" font-size="30.7" font-weight="normal" text-anchor="end" >-10</text>
<text transform="translate(122.7,1610.4) scale(1.050,1)" font-family="'Liberation Serif','DejaVu Serif',serif" font-size="30.7" font-weight="normal" text-anchor="end" >0</text>
<text transform="translate(122.7,1515.8) scale(1.050,1)" font-family="'Liberation Serif','DejaVu Serif',serif" font-size="30.7" font-weight="normal" text-anchor="end" >10</text>
<text transform="translate(122.7,1421.2) scale(1.050,1)" font-family="'Liberation Serif','DejaVu Serif',serif" font-size="30.7" font-weight="normal" text-anchor="end" >20</text>
<text transform="translate(122.7,1326.6) scale(1.050,1)" font-family="'Liberation Serif','DejaVu Serif',serif" font-size="30.7" font-weight="normal" text-anchor="end" >30</text>
<text transform="translate(132.7,1916.6) scale(1.050,1)" font-family="'Liberation Serif','DejaVu Serif',serif" font-size="30.7" font-weight="normal" text-anchor="middle" >-5</text>
<text transform="translate(209.8,1916.6) scale(1.050,1)" font-family="'Liberation Serif','DejaVu Serif',serif" font-size="30.7" font-weight="normal" text-anchor="middle" >-4</text>
<text transform="translate(287,1916.6) scale(1.050,1)" font-family="'Liberation Serif','DejaVu Serif',serif" font-size="30.7" font-weight="normal" text-anchor="middle" >-3</text>
<text transform="translate(364.1,1916.6) scale(1.050,1)" font-family="'Liberation Serif','DejaVu Serif',serif" font-size="30.7" font-weight="normal" text-anchor="middle" >-2</text>
<text transform="translate(441.3,1916.6) scale(1.050,1)" font-family="'Liberation Serif','DejaVu Serif',serif" font-size="30.7" font-weight="normal" text-anchor="middle" >-1</text>
<text transform="translate(518.5,1916.6) scale(1.050,1)" font-family="'Liberation Serif','DejaVu Serif',serif" font-size="30.7" font-weight="normal" text-anchor="middle" >0</text>
<text transform="translate(595.6,1916.6) scale(1.050,1)" font-family="'Liberation Serif','DejaVu Serif',serif" font-size="30.7" font-weight="normal" text-anchor="middle" >1</text>
<text transform="translate(672.8,1916.6) scale(1.050,1)" font-family="'Liberation Serif','DejaVu Serif',serif" font-size="30.7" font-weight="normal" text-anchor="middle" >2</text>
<text transform="translate(749.9,1916.6) scale(1.050,1)" font-family="'Liberation Serif','DejaVu Serif',serif" font-size="30.7" font-weight="normal" text-anchor="middle" >3</text>
<text transform="translate(827,1916.6) scale(1.050,1)" font-family="'Liberation Serif','DejaVu Serif',serif" font-size="30.7" font-weight="normal" text-anchor="middle" >4</text>
<text transform="translate(904.2,1916.6) scale(1.050,1)" font-family="'Liberation Serif','DejaVu Serif',serif" font-size="30.7" font-weight="normal" text-anchor="middle" >5</text>
<text x="518.5" y="1948" font-family="'Liberation Serif','DejaVu Serif',serif" font-size="29.6" font-weight="normal" text-anchor="middle" textLength="151.8" lengthAdjust="spacingAndGlyphs">Energy (eV)</text>
<text transform="translate(62.8,1599.4) rotate(-90)" font-family="'Liberation Serif',serif" font-size="29.8" text-anchor="middle" textLength="233.4" lengthAdjust="spacingAndGlyphs">Density (states/eV)</text>
<text x="0.7" y="1358.5" font-family="'Liberation Sans','DejaVu Sans',sans-serif" font-size="63" font-weight="bold" text-anchor="start" textLength="78.5" lengthAdjust="spacingAndGlyphs">(e)</text>
<clipPath id="clip_f"><rect x="1066.8" y="1314.9" width="765.4" height="561.4"/></clipPath>
<line x1="1143.3" y1="1314.9" x2="1143.3" y2="1336.7" stroke="#000" stroke-width="3.3" />
<line x1="1143.3" y1="1876.3" x2="1143.3" y2="1854.5" stroke="#000" stroke-width="3.3" />
<line x1="1219.9" y1="1314.9" x2="1219.9" y2="1336.7" stroke="#000" stroke-width="3.3" />
<line x1="1219.9" y1="1876.3" x2="1219.9" y2="1854.5" stroke="#000" stroke-width="3.3" />
<line x1="1296.4" y1="1314.9" x2="1296.4" y2="1336.7" stroke="#000" stroke-width="3.3" />
<line x1="1296.4" y1="1876.3" x2="1296.4" y2="1854.5" stroke="#000" stroke-width="3.3" />
<line x1="1373" y1="1314.9" x2="1373" y2="1336.7" stroke="#000" stroke-width="3.3" />
<line x1="1373" y1="1876.3" x2="1373" y2="1854.5" stroke="#000" stroke-width="3.3" />
<line x1="1449.5" y1="1314.9" x2="1449.5" y2="1336.7" stroke="#000" stroke-width="3.3" />
<line x1="1449.5" y1="1876.3" x2="1449.5" y2="1854.5" stroke="#000" stroke-width="3.3" />
<line x1="1526" y1="1314.9" x2="1526" y2="1336.7" stroke="#000" stroke-width="3.3" />
<line x1="1526" y1="1876.3" x2="1526" y2="1854.5" stroke="#000" stroke-width="3.3" />
<line x1="1602.6" y1="1314.9" x2="1602.6" y2="1336.7" stroke="#000" stroke-width="3.3" />
<line x1="1602.6" y1="1876.3" x2="1602.6" y2="1854.5" stroke="#000" stroke-width="3.3" />
<line x1="1679.1" y1="1314.9" x2="1679.1" y2="1336.7" stroke="#000" stroke-width="3.3" />
<line x1="1679.1" y1="1876.3" x2="1679.1" y2="1854.5" stroke="#000" stroke-width="3.3" />
<line x1="1755.7" y1="1314.9" x2="1755.7" y2="1336.7" stroke="#000" stroke-width="3.3" />
<line x1="1755.7" y1="1876.3" x2="1755.7" y2="1854.5" stroke="#000" stroke-width="3.3" />
<line x1="1066.8" y1="1782.7" x2="1088.6" y2="1782.7" stroke="#000" stroke-width="3.3" />
<line x1="1832.2" y1="1782.7" x2="1810.4" y2="1782.7" stroke="#000" stroke-width="3.3" />
<line x1="1066.8" y1="1689.2" x2="1088.6" y2="1689.2" stroke="#000" stroke-width="3.3" />
<line x1="1832.2" y1="1689.2" x2="1810.4" y2="1689.2" stroke="#000" stroke-width="3.3" />
<line x1="1066.8" y1="1595.6" x2="1088.6" y2="1595.6" stroke="#000" stroke-width="3.3" />
<line x1="1832.2" y1="1595.6" x2="1810.4" y2="1595.6" stroke="#000" stroke-width="3.3" />
<line x1="1066.8" y1="1502" x2="1088.6" y2="1502" stroke="#000" stroke-width="3.3" />
<line x1="1832.2" y1="1502" x2="1810.4" y2="1502" stroke="#000" stroke-width="3.3" />
<line x1="1066.8" y1="1408.5" x2="1088.6" y2="1408.5" stroke="#000" stroke-width="3.3" />
<line x1="1832.2" y1="1408.5" x2="1810.4" y2="1408.5" stroke="#000" stroke-width="3.3" />
<rect x="1615" y="1325.7" width="130" height="114.3" fill="#fff"/>
<line x1="1449.5" y1="1314.9" x2="1449.5" y2="1876.3" stroke="#000" stroke-width="3" stroke-dasharray="7 6.6"/>
<g clip-path="url(#clip_f)">
<polyline points="1221.9,1595.9 1223.6,1538.7 1226.1,1516.2 1228.6,1553.7 1231.1,1571.2 1233.6,1553.7 1236.1,1573.7 1238.6,1583.7 1241.1,1588.7 1243.6,1563.7 1246.1,1536.2 1248.6,1553.7 1251.1,1511.3 1252.8,1553.7 1254.8,1568.7 1257.8,1558.7 1261.1,1576.2 1264.8,1571.2 1268.6,1561.2 1271.1,1576.2 1274.8,1573.7 1279.8,1578.7 1284.8,1574.9 1289.8,1577.4 1294.8,1576.2 1299.8,1577.4 1301.8,1563.7 1304.8,1583.7 1308.5,1588.7 1313.5,1592.4 1319.8,1591.2 1324.8,1586.2 1329.8,1582.4 1333.5,1578.7 1337.2,1574.9 1341,1581.2 1344.7,1573.7 1347.7,1588.7 1350.2,1578.7 1352.2,1513.8 1354.2,1563.7 1357.2,1573.7 1361,1568.7 1363.5,1551.2 1366,1578.7 1369.2,1588.7 1372.2,1573.7 1375.9,1566.2 1379.7,1573.7 1383.4,1561.2 1387.2,1553.7 1389.7,1540 1392.7,1537.5 1394.7,1563.7 1397.2,1586.2 1399.7,1568.7 1402.7,1561.2 1405.4,1557.4 1407.2,1583.7 1410.9,1586.2 1417.1,1589.9 1424.6,1592.4 1434.6,1594.1 1447.1,1595.6" fill="none" stroke="#00ff00" stroke-width="3.4" stroke-linejoin="round" />
<polyline points="1221.9,1595.3 1223.6,1652.5 1226.1,1675 1228.6,1637.5 1231.1,1620 1233.6,1637.5 1236.1,1617.5 1238.6,1607.5 1241.1,1602.5 1243.6,1627.5 1246.1,1655 1248.6,1637.5 1251.1,1679.9 1252.8,1637.5 1254.8,1622.5 1257.8,1632.5 1261.1,1615 1264.8,1620 1268.6,1630 1271.1,1615 1274.8,1617.5 1279.8,1612.5 1284.8,1616.3 1289.8,1613.8 1294.8,1615 1299.8,1613.8 1301.8,1627.5 1304.8,1607.5 1308.5,1602.5 1313.5,1598.8 1319.8,1600 1324.8,1605 1329.8,1608.8 1333.5,1612.5 1337.2,1616.3 1341,1610 1344.7,1617.5 1347.7,1602.5 1350.2,1612.5 1352.2,1677.4 1354.2,1627.5 1357.2,1617.5 1361,1622.5 1363.5,1640 1366,1612.5 1369.2,1602.5 1372.2,1617.5 1375.9,1625 1379.7,1617.5 1383.4,1630 1387.2,1637.5 1389.7,1651.2 1392.7,1653.7 1394.7,1627.5 1397.2,1605 1399.7,1622.5 1402.7,1630 1405.4,1633.8 1407.2,1607.5 1410.9,1605 1417.1,1601.3 1424.6,1598.8 1434.6,1597.1 1447.1,1595.6" fill="none" stroke="#00ff00" stroke-width="3.4" stroke-linejoin="round" />
<polyline points="1221.1,1595.9 1222.4,1453.8 1223.6,1306.5 1225.4,1306.5 1226.9,1453.8 1228.1,1513.8 1229.9,1455.1 1231.9,1528.7 1234.4,1457.6 1236.1,1513.8 1237.9,1551.2 1239.9,1578.7 1241.6,1563.7 1243.6,1513.8 1246.1,1441.3 1248.6,1473.8 1251.1,1380.7 1252.8,1453.8 1254.8,1503.8 1257.3,1496.3 1259.8,1513.8 1262.3,1548.7 1264.8,1528.7 1266.8,1538.7 1268.6,1500 1270.3,1553.7 1272.3,1528.7 1274.8,1538.7 1277.3,1533.7 1279.3,1551.2 1281.8,1538.7 1284.8,1546.2 1287.8,1540 1291,1542.5 1294.8,1548.7 1298.5,1548.7 1301.8,1517.5 1303.5,1538.7 1305.5,1563.7 1307.3,1488.8 1309.3,1406.9 1311,1513.8 1312.8,1583.7 1316,1591.2 1319.8,1582.4 1323.5,1579.9 1326,1576.2 1328,1490.5 1329.8,1513.8 1331.7,1533.7 1333.5,1540 1335.2,1503.8 1337.2,1482.5 1339.2,1518.7 1341.7,1521.2 1343.7,1470.1 1345.7,1548.7 1347.2,1466.3 1348.7,1595.9 1350.2,1488.8 1351.7,1388.9 1353,1319.5 1354.2,1388.9 1356,1498.8 1358.5,1513.8 1361,1521.2 1363.5,1451.3 1365.2,1521.2 1367.2,1573.7 1369.2,1568.7 1371.7,1528.7 1373.4,1506.3 1375.9,1500 1378.4,1511.3 1380.4,1518.7 1382.7,1493.8 1384.7,1471.3 1386.7,1470.1 1388.4,1433.9 1389.7,1411.4 1391.4,1423.9 1393.4,1413.9 1395.2,1463.8 1397.2,1566.2 1399.2,1473.8 1402.2,1468.8 1403.9,1463.8 1405.4,1428.9 1407.2,1488.8 1409.2,1525 1411.6,1503.8 1414.1,1485 1416.6,1486.3 1419.1,1508.8 1421.6,1538.7 1423.4,1553.7 1425.1,1506.3 1427.1,1526.2 1428.9,1492.5 1430.9,1553.7 1432.6,1579.9 1434.6,1526.2 1437.1,1553.7 1439.1,1571.2 1441.6,1533.7 1444.1,1547.5 1447.1,1548.7 1449.1,1563.7 1450.1,1595.9" fill="none" stroke="#0000ff" stroke-width="3.4" stroke-linejoin="round" />
<polyline points="1221.1,1595.3 1222.4,1737.4 1223.6,1884.7 1225.4,1884.7 1226.9,1737.4 1228.1,1677.4 1229.9,1736.1 1231.9,1662.5 1234.4,1733.6 1236.1,1677.4 1237.9,1640 1239.9,1612.5 1241.6,1627.5 1243.6,1677.4 1246.1,1749.9 1248.6,1717.4 1251.1,1810.5 1252.8,1737.4 1254.8,1687.4 1257.3,1694.9 1259.8,1677.4 1262.3,1642.5 1264.8,1662.5 1266.8,1652.5 1268.6,1691.2 1270.3,1637.5 1272.3,1662.5 1274.8,1652.5 1277.3,1657.5 1279.3,1640 1281.8,1652.5 1284.8,1645 1287.8,1651.2 1291,1648.7 1294.8,1642.5 1298.5,1642.5 1301.8,1673.7 1303.5,1652.5 1305.5,1627.5 1307.3,1702.4 1309.3,1784.3 1311,1677.4 1312.8,1607.5 1316,1600 1319.8,1608.8 1323.5,1611.3 1326,1615 1328,1700.7 1329.8,1677.4 1331.7,1657.5 1333.5,1651.2 1335.2,1687.4 1337.2,1708.7 1339.2,1672.5 1341.7,1670 1343.7,1721.1 1345.7,1642.5 1347.2,1724.9 1348.7,1595.3 1350.2,1702.4 1351.7,1802.3 1353,1871.7 1354.2,1802.3 1356,1692.4 1358.5,1677.4 1361,1670 1363.5,1739.9 1365.2,1670 1367.2,1617.5 1369.2,1622.5 1371.7,1662.5 1373.4,1684.9 1375.9,1691.2 1378.4,1679.9 1380.4,1672.5 1382.7,1697.4 1384.7,1719.9 1386.7,1721.1 1388.4,1757.3 1389.7,1779.8 1391.4,1767.3 1393.4,1777.3 1395.2,1727.4 1397.2,1625 1399.2,1717.4 1402.2,1722.4 1403.9,1727.4 1405.4,1762.3 1407.2,1702.4 1409.2,1666.2 1411.6,1687.4 1414.1,1706.2 1416.6,1704.9 1419.1,1682.4 1421.6,1652.5 1423.4,1637.5 1425.1,1684.9 1427.1,1665 1428.9,1698.7 1430.9,1637.5 1432.6,1611.3 1434.6,1665 1437.1,1637.5 1439.1,1620 1441.6,1657.5 1444.1,1643.7 1447.1,1642.5 1449.1,1627.5 1450.1,1595.3" fill="none" stroke="#0000ff" stroke-width="3.4" stroke-linejoin="round" />
<polyline points="1592.9,1596 1608,1594 1651.2,1593.4 1681.4,1592.3 1683.6,1586.9 1685.7,1592.3 1705.2,1592.7 1713.8,1590.6 1722.5,1592.7 1737.6,1594 1757,1596" fill="none" stroke="#00ff00" stroke-width="3.4" stroke-linejoin="round" />
<polyline points="1592.9,1595.2 1608,1597.2 1651.2,1597.8 1681.4,1598.9 1683.6,1604.3 1685.7,1598.9 1705.2,1598.5 1713.8,1600.6 1722.5,1598.5 1737.6,1597.2 1757,1595.2" fill="none" stroke="#00ff00" stroke-width="3.4" stroke-linejoin="round" />
<polyline points="1554,1596 1556.6,1591.9 1575.6,1590.1 1590.7,1588.6 1595,1587.6 1598.3,1585.8 1601.5,1586.9 1604.8,1585.8 1606.9,1594.5 1610.1,1590.1 1612.3,1586.9 1616.6,1586.3 1618.8,1577.2 1620.5,1586.9 1625.3,1585.8 1631.7,1584.1 1635.6,1581.1 1639.3,1583.2 1643.6,1584.1 1649,1582.6 1655.5,1579.8 1662,1579.8 1666.3,1578.9 1669.5,1583.7 1672.8,1577.2 1676,1571.8 1678.8,1579.8 1681.4,1581.5 1682.5,1544.8 1683.6,1508.1 1684.9,1544.8 1686.2,1580.4 1690.1,1577.2 1695.5,1572.9 1697.6,1565.3 1699.8,1568.6 1704.1,1566.4 1707.3,1563.2 1710.6,1549.1 1713.4,1544.4 1715.5,1561 1718.1,1554.5 1720.3,1558.8 1722.5,1556.7 1724.6,1566.4 1726.3,1561 1728.3,1583.7 1730.7,1566.4 1732.8,1553.4 1735.4,1566.4 1738.7,1569.6 1744.1,1572.9 1750.5,1575 1754.9,1577.2 1757.4,1583.7 1759.2,1544.8 1760.7,1531.4 1762.2,1555.6 1763.5,1596" fill="none" stroke="#0000ff" stroke-width="3.4" stroke-linejoin="round" />
<polyline points="1554,1595.2 1556.6,1599.3 1575.6,1601.1 1590.7,1602.6 1595,1603.6 1598.3,1605.4 1601.5,1604.3 1604.8,1605.4 1606.9,1596.7 1610.1,1601.1 1612.3,1604.3 1616.6,1604.9 1618.8,1614 1620.5,1604.3 1625.3,1605.4 1631.7,1607.1 1635.6,1610.1 1639.3,1608 1643.6,1607.1 1649,1608.6 1655.5,1611.4 1662,1611.4 1666.3,1612.3 1669.5,1607.5 1672.8,1614 1676,1619.4 1678.8,1611.4 1681.4,1609.7 1682.5,1646.4 1683.6,1683.1 1684.9,1646.4 1686.2,1610.8 1690.1,1614 1695.5,1618.3 1697.6,1625.9 1699.8,1622.6 1704.1,1624.8 1707.3,1628 1710.6,1642.1 1713.4,1646.8 1715.5,1630.2 1718.1,1636.7 1720.3,1632.4 1722.5,1634.5 1724.6,1624.8 1726.3,1630.2 1728.3,1607.5 1730.7,1624.8 1732.8,1637.8 1735.4,1624.8 1738.7,1621.6 1744.1,1618.3 1750.5,1616.2 1754.9,1614 1757.4,1607.5 1759.2,1646.4 1760.7,1659.8 1762.2,1635.6 1763.5,1595.2" fill="none" stroke="#0000ff" stroke-width="3.4" stroke-linejoin="round" />
<polyline points="1812.1,1596 1813.6,1589.1 1815.3,1587.6 1817.9,1587.6 1819.2,1592.3 1820.1,1596" fill="none" stroke="#0000ff" stroke-width="3.4" stroke-linejoin="round" />
<polyline points="1812.1,1595.2 1813.6,1602.1 1815.3,1603.6 1817.9,1603.6 1819.2,1598.9 1820.1,1595.2" fill="none" stroke="#0000ff" stroke-width="3.4" stroke-linejoin="round" />
<polyline points="1162,1314.9 1162,1876.3" fill="none" stroke="#ff0000" stroke-width="5.2" stroke-linejoin="round" />
<polyline points="1162,1445.9 1162,1745.3" fill="none" stroke="#ff0000" stroke-width="6.8" stroke-linejoin="round" />
<polyline points="1091,1595.6 1810.2,1595.6" fill="none" stroke="#ff0000" stroke-width="3.6" stroke-linejoin="round" />
<polyline points="1758.3,1596 1759.6,1583.7 1760.7,1574 1762,1583.7 1763.3,1596" fill="none" stroke="#ff0000" stroke-width="4" stroke-linejoin="round" />
<polyline points="1758.3,1595.2 1759.6,1607.5 1760.7,1617.2 1762,1607.5 1763.3,1595.2" fill="none" stroke="#ff0000" stroke-width="4" stroke-linejoin="round" />
</g>
<line x1="1627.3" y1="1347" x2="1663" y2="1347" stroke="#00ff00" stroke-width="3.6" />
<text transform="translate(1684.5,1356.3) scale(1.020,1)" font-family="'Liberation Serif','DejaVu Serif',serif" font-size="29.2" font-weight="normal" text-anchor="start" >Be</text>
<line x1="1627.3" y1="1377.3" x2="1663" y2="1377.3" stroke="#0000ff" stroke-width="3.6" />
<text transform="translate(1684.5,1386.6) scale(1.020,1)" font-family="'Liberation Serif','DejaVu Serif',serif" font-size="29.2" font-weight="normal" text-anchor="start" >N</text>
<line x1="1627.3" y1="1414.6" x2="1663" y2="1414.6" stroke="#ff0000" stroke-width="3.6" />
<text transform="translate(1684.5,1418.4) scale(1.020,1)" font-family="'Liberation Serif','DejaVu Serif',serif" font-size="29.2" font-weight="normal" text-anchor="start" >H<tspan dy="12" font-size="22">2</tspan><tspan dy="-12">O</tspan></text>
<line x1="1111.5" y1="1506.2" x2="1111.5" y2="1572.9" stroke="#000" stroke-width="3.6" />
<polyline points="1101.7,1523.2 1111.5,1505.2 1121.3,1523.2" fill="none" stroke="#000" stroke-width="3.6" stroke-linejoin="round" stroke-linejoin="miter"/>
<line x1="1111.5" y1="1619.6" x2="1111.5" y2="1682.5" stroke="#000" stroke-width="3.6" />
<polyline points="1101.7,1665.5 1111.5,1683.5 1121.3,1665.5" fill="none" stroke="#000" stroke-width="3.6" stroke-linejoin="round" />
<rect x="1066.8" y="1314.9" width="765.4" height="561.4" fill="none" stroke="#000" stroke-width="3.3"/>
<text transform="translate(1058.3,1886.6) scale(1.050,1)" font-family="'Liberation Serif','DejaVu Serif',serif" font-size="30.7" font-weight="normal" text-anchor="end" >-30</text>
<text transform="translate(1058.3,1793) scale(1.050,1)" font-family="'Liberation Serif','DejaVu Serif',serif" font-size="30.7" font-weight="normal" text-anchor="end" >-20</text>
<text transform="translate(1058.3,1699.5) scale(1.050,1)" font-family="'Liberation Serif','DejaVu Serif',serif" font-size="30.7" font-weight="normal" text-anchor="end" >-10</text>
<text transform="translate(1058.3,1605.9) scale(1.050,1)" font-family="'Liberation Serif','DejaVu Serif',serif" font-size="30.7" font-weight="normal" text-anchor="end" >0</text>
<text transform="translate(1058.3,1512.3) scale(1.050,1)" font-family="'Liberation Serif','DejaVu Serif',serif" font-size="30.7" font-weight="normal" text-anchor="end" >10</text>
<text transform="translate(1058.3,1418.8) scale(1.050,1)" font-family="'Liberation Serif','DejaVu Serif',serif" font-size="30.7" font-weight="normal" text-anchor="end" >20</text>
<text transform="translate(1058.3,1325.2) scale(1.050,1)" font-family="'Liberation Serif','DejaVu Serif',serif" font-size="30.7" font-weight="normal" text-anchor="end" >30</text>
<text transform="translate(1066.8,1909.3) scale(1.050,1)" font-family="'Liberation Serif','DejaVu Serif',serif" font-size="30.7" font-weight="normal" text-anchor="middle" >-5</text>
<text transform="translate(1143.3,1909.3) scale(1.050,1)" font-family="'Liberation Serif','DejaVu Serif',serif" font-size="30.7" font-weight="normal" text-anchor="middle" >-4</text>
<text transform="translate(1219.9,1909.3) scale(1.050,1)" font-family="'Liberation Serif','DejaVu Serif',serif" font-size="30.7" font-weight="normal" text-anchor="middle" >-3</text>
<text transform="translate(1296.4,1909.3) scale(1.050,1)" font-family="'Liberation Serif','DejaVu Serif',serif" font-size="30.7" font-weight="normal" text-anchor="middle" >-2</text>
<text transform="translate(1373,1909.3) scale(1.050,1)" font-family="'Liberation Serif','DejaVu Serif',serif" font-size="30.7" font-weight="normal" text-anchor="middle" >-1</text>
<text transform="translate(1449.5,1909.3) scale(1.050,1)" font-family="'Liberation Serif','DejaVu Serif',serif" font-size="30.7" font-weight="normal" text-anchor="middle" >0</text>
<text transform="translate(1526,1909.3) scale(1.050,1)" font-family="'Liberation Serif','DejaVu Serif',serif" font-size="30.7" font-weight="normal" text-anchor="middle" >1</text>
<text transform="translate(1602.6,1909.3) scale(1.050,1)" font-family="'Liberation Serif','DejaVu Serif',serif" font-size="30.7" font-weight="normal" text-anchor="middle" >2</text>
<text transform="translate(1679.1,1909.3) scale(1.050,1)" font-family="'Liberation Serif','DejaVu Serif',serif" font-size="30.7" font-weight="normal" text-anchor="middle" >3</text>
<text transform="translate(1755.7,1909.3) scale(1.050,1)" font-family="'Liberation Serif','DejaVu Serif',serif" font-size="30.7" font-weight="normal" text-anchor="middle" >4</text>
<text transform="translate(1832.2,1909.3) scale(1.050,1)" font-family="'Liberation Serif','DejaVu Serif',serif" font-size="30.7" font-weight="normal" text-anchor="middle" >5</text>
<text x="1449.5" y="1940" font-family="'Liberation Serif','DejaVu Serif',serif" font-size="29.3" font-weight="normal" text-anchor="middle" textLength="149.8" lengthAdjust="spacingAndGlyphs">Energy (eV)</text>
<text transform="translate(999.3,1594.8) rotate(-90)" font-family="'Liberation Serif',serif" font-size="29.5" text-anchor="middle" textLength="230.9" lengthAdjust="spacingAndGlyphs">Density (states/eV)</text>
<text x="936.2" y="1363" font-family="'Liberation Sans','DejaVu Sans',sans-serif" font-size="63" font-weight="bold" text-anchor="start" textLength="64.7" lengthAdjust="spacingAndGlyphs">(f)</text>
<clipPath id="clip_g"><rect x="132.6" y="2001.5" width="772.8" height="568.3"/></clipPath>
<line x1="209.9" y1="2001.5" x2="209.9" y2="2023.3" stroke="#000" stroke-width="3.3" />
<line x1="209.9" y1="2569.8" x2="209.9" y2="2548" stroke="#000" stroke-width="3.3" />
<line x1="287.2" y1="2001.5" x2="287.2" y2="2023.3" stroke="#000" stroke-width="3.3" />
<line x1="287.2" y1="2569.8" x2="287.2" y2="2548" stroke="#000" stroke-width="3.3" />
<line x1="364.4" y1="2001.5" x2="364.4" y2="2023.3" stroke="#000" stroke-width="3.3" />
<line x1="364.4" y1="2569.8" x2="364.4" y2="2548" stroke="#000" stroke-width="3.3" />
<line x1="441.7" y1="2001.5" x2="441.7" y2="2023.3" stroke="#000" stroke-width="3.3" />
<line x1="441.7" y1="2569.8" x2="441.7" y2="2548" stroke="#000" stroke-width="3.3" />
<line x1="519" y1="2001.5" x2="519" y2="2023.3" stroke="#000" stroke-width="3.3" />
<line x1="519" y1="2569.8" x2="519" y2="2548" stroke="#000" stroke-width="3.3" />
<line x1="596.3" y1="2001.5" x2="596.3" y2="2023.3" stroke="#000" stroke-width="3.3" />
<line x1="596.3" y1="2569.8" x2="596.3" y2="2548" stroke="#000" stroke-width="3.3" />
<line x1="673.6" y1="2001.5" x2="673.6" y2="2023.3" stroke="#000" stroke-width="3.3" />
<line x1="673.6" y1="2569.8" x2="673.6" y2="2548" stroke="#000" stroke-width="3.3" />
<line x1="750.8" y1="2001.5" x2="750.8" y2="2023.3" stroke="#000" stroke-width="3.3" />
<line x1="750.8" y1="2569.8" x2="750.8" y2="2548" stroke="#000" stroke-width="3.3" />
<line x1="828.1" y1="2001.5" x2="828.1" y2="2023.3" stroke="#000" stroke-width="3.3" />
<line x1="828.1" y1="2569.8" x2="828.1" y2="2548" stroke="#000" stroke-width="3.3" />
<line x1="132.6" y1="2475.1" x2="154.4" y2="2475.1" stroke="#000" stroke-width="3.3" />
<line x1="905.4" y1="2475.1" x2="883.6" y2="2475.1" stroke="#000" stroke-width="3.3" />
<line x1="132.6" y1="2380.4" x2="154.4" y2="2380.4" stroke="#000" stroke-width="3.3" />
<line x1="905.4" y1="2380.4" x2="883.6" y2="2380.4" stroke="#000" stroke-width="3.3" />
<line x1="132.6" y1="2285.7" x2="154.4" y2="2285.7" stroke="#000" stroke-width="3.3" />
<line x1="905.4" y1="2285.7" x2="883.6" y2="2285.7" stroke="#000" stroke-width="3.3" />
<line x1="132.6" y1="2190.9" x2="154.4" y2="2190.9" stroke="#000" stroke-width="3.3" />
<line x1="905.4" y1="2190.9" x2="883.6" y2="2190.9" stroke="#000" stroke-width="3.3" />
<line x1="132.6" y1="2096.2" x2="154.4" y2="2096.2" stroke="#000" stroke-width="3.3" />
<line x1="905.4" y1="2096.2" x2="883.6" y2="2096.2" stroke="#000" stroke-width="3.3" />
<rect x="695" y="2013.7" width="120" height="116.3" fill="#fff"/>
<line x1="519" y1="2025.5" x2="519" y2="2569.8" stroke="#000" stroke-width="3" stroke-dasharray="7 6.6"/>
<g clip-path="url(#clip_g)">
<polyline points="145,2285.4 147,2265.7 148.7,2263.2 151.2,2278.2 153.7,2285.4 157,2270.7 159.5,2273.2 162,2260.7 164.5,2250.7 167,2240.7 169.5,2265.7 171.9,2275.7 174.4,2250.7 176.9,2265.7 179.4,2250.7 181.9,2263.2 184.4,2244.4 186.9,2234.5 189.4,2263.2 191.9,2245.7 194.4,2248.2 197.4,2246.9 199.9,2253.2 202.4,2260.7 205.4,2263.2 208.7,2255.7 211.9,2263.2 214.9,2268.2 217.9,2263.2 221.9,2243.2 224.4,2265.7 227.4,2270.7 231.1,2263.2 234.4,2271.9 237.9,2260.7 241.1,2250.7 243.6,2270.7 246.1,2285.4 249.4,2270.7 252.3,2265.7 254.8,2273.2 258.6,2276.9 263.6,2279.4 267.3,2273.2 270.3,2250.7 272.8,2265.7 276.1,2253.2 278.8,2241.9 281.3,2260.7 284.3,2275.7 287.3,2250.7 289.8,2200.8 292.3,2260.7 294.8,2275.7 297.8,2255.7 301,2241.9 303.5,2265.7 306,2263.2 309.3,2233.2 312.3,2265.7 315.3,2276.9 318.5,2255.7 321.8,2241.9 324.8,2253.2 327.3,2248.2 329.8,2233.2 332.2,2258.2 334.7,2248.2 337.2,2275.7 339.7,2240.7 341.7,2225.7 344.2,2255.7 346.7,2275.7 349.7,2280.7 357.2,2281.9 364.7,2280.7 369.7,2284.4 382.2,2283.6 389.2,2285.4" fill="none" stroke="#00ff00" stroke-width="3.4" stroke-linejoin="round" />
<polyline points="145,2285.9 147,2305.6 148.7,2308.1 151.2,2293.1 153.7,2285.9 157,2300.6 159.5,2298.1 162,2310.6 164.5,2320.6 167,2330.6 169.5,2305.6 171.9,2295.6 174.4,2320.6 176.9,2305.6 179.4,2320.6 181.9,2308.1 184.4,2326.9 186.9,2336.8 189.4,2308.1 191.9,2325.6 194.4,2323.1 197.4,2324.4 199.9,2318.1 202.4,2310.6 205.4,2308.1 208.7,2315.6 211.9,2308.1 214.9,2303.1 217.9,2308.1 221.9,2328.1 224.4,2305.6 227.4,2300.6 231.1,2308.1 234.4,2299.4 237.9,2310.6 241.1,2320.6 243.6,2300.6 246.1,2285.9 249.4,2300.6 252.3,2305.6 254.8,2298.1 258.6,2294.4 263.6,2291.9 267.3,2298.1 270.3,2320.6 272.8,2305.6 276.1,2318.1 278.8,2329.4 281.3,2310.6 284.3,2295.6 287.3,2320.6 289.8,2370.5 292.3,2310.6 294.8,2295.6 297.8,2315.6 301,2329.4 303.5,2305.6 306,2308.1 309.3,2338.1 312.3,2305.6 315.3,2294.4 318.5,2315.6 321.8,2329.4 324.8,2318.1 327.3,2323.1 329.8,2338.1 332.2,2313.1 334.7,2323.1 337.2,2295.6 339.7,2330.6 341.7,2345.6 344.2,2315.6 346.7,2295.6 349.7,2290.6 357.2,2289.4 364.7,2290.6 369.7,2286.9 382.2,2287.7 389.2,2285.9" fill="none" stroke="#00ff00" stroke-width="3.4" stroke-linejoin="round" />
<polyline points="142.5,2285.4 143.7,2224.5 145.5,2243.2 147.5,2222 149.5,2253.2 152,2285.4 153.7,2250.7 155,2222 157,2245.7 159.5,2258.2 161.2,2225.7 163,2198.3 165,2220.7 167,2173.3 169.2,2240.7 171.2,2263.2 172.9,2213.2 174.4,2190.8 175.9,2149.6 177.9,2195.8 179.4,2187 181.2,2238.2 182.9,2185.8 184.9,2160.8 186.7,2135.3 188.7,2195.8 190.4,2183.3 192.4,2218.2 194.2,2185.8 196.2,2200.8 197.9,2185.8 199.9,2215.7 201.9,2199.5 204.2,2240.7 206.2,2218.2 208.7,2203.2 210.4,2220.7 212.9,2227 216.1,2239.5 218.6,2225.7 220.4,2200.8 221.9,2178.8 223.6,2225.7 226.1,2240.7 228.6,2243.2 230.6,2229.5 232.9,2250.7 234.9,2235.7 237.4,2233.2 239.4,2220.7 241.4,2199.5 243.6,2240.7 246.1,2285.4 248.6,2225.7 250.3,2193.3 252.3,2240.7 254.8,2225.7 257.3,2269.4 259.8,2265.7 263.6,2271.9 266.8,2270.7 268.1,2175.8 269.6,2096.6 271.3,2200.8 272.8,2248.2 274.8,2225.7 276.8,2175.8 278.8,2100.9 280.8,2160.8 282.8,2220.7 284.8,2255.7 286.8,2195.8 288.3,2100.9 289.8,1993.5 291.8,2100.9 293.5,2258.2 295.5,2215.7 297.3,2225.7 299.3,2175.8 301,2130.8 302.8,2200.8 304.8,2260.7 306.8,2200.8 309.3,2140.8 311.5,2195.8 313.5,2225.7 316,2240.7 317.8,2220.7 319.8,2190.8 321.8,2158.3 323.8,2200.8 325.8,2175.8 327.8,2135.8 329.3,2110.9 331,2170.8 332.7,2129.6 334.7,2170.8 336.7,2260.7 338.5,2175.8 341.5,2105.9 343.5,2160.8 345.2,2190.8 347.2,2208.2 349.7,2204.5 352.2,2220.7 354.7,2227 356.7,2240.7 359.2,2225.7 361,2200.8 362.7,2228.2 364.7,2210.7 366.5,2123.8 368.5,2225.7 370.2,2207 372.2,2273.2 374.7,2276.9 377.7,2275.7 380.2,2225.7 382.7,2184 384.7,2225.7 387.2,2265.7 389.2,2285.4" fill="none" stroke="#0000ff" stroke-width="3.4" stroke-linejoin="round" />
<polyline points="142.5,2285.9 143.7,2346.8 145.5,2328.1 147.5,2349.3 149.5,2318.1 152,2285.9 153.7,2320.6 155,2349.3 157,2325.6 159.5,2313.1 161.2,2345.6 163,2373 165,2350.6 167,2398 169.2,2330.6 171.2,2308.1 172.9,2358.1 174.4,2380.5 175.9,2421.7 177.9,2375.5 179.4,2384.3 181.2,2333.1 182.9,2385.5 184.9,2410.5 186.7,2436 188.7,2375.5 190.4,2388 192.4,2353.1 194.2,2385.5 196.2,2370.5 197.9,2385.5 199.9,2355.6 201.9,2371.8 204.2,2330.6 206.2,2353.1 208.7,2368.1 210.4,2350.6 212.9,2344.3 216.1,2331.8 218.6,2345.6 220.4,2370.5 221.9,2392.5 223.6,2345.6 226.1,2330.6 228.6,2328.1 230.6,2341.8 232.9,2320.6 234.9,2335.6 237.4,2338.1 239.4,2350.6 241.4,2371.8 243.6,2330.6 246.1,2285.9 248.6,2345.6 250.3,2378 252.3,2330.6 254.8,2345.6 257.3,2301.9 259.8,2305.6 263.6,2299.4 266.8,2300.6 268.1,2395.5 269.6,2474.7 271.3,2370.5 272.8,2323.1 274.8,2345.6 276.8,2395.5 278.8,2470.4 280.8,2410.5 282.8,2350.6 284.8,2315.6 286.8,2375.5 288.3,2470.4 289.8,2577.8 291.8,2470.4 293.5,2313.1 295.5,2355.6 297.3,2345.6 299.3,2395.5 301,2440.5 302.8,2370.5 304.8,2310.6 306.8,2370.5 309.3,2430.5 311.5,2375.5 313.5,2345.6 316,2330.6 317.8,2350.6 319.8,2380.5 321.8,2413 323.8,2370.5 325.8,2395.5 327.8,2435.5 329.3,2460.4 331,2400.5 332.7,2441.7 334.7,2400.5 336.7,2310.6 338.5,2395.5 341.5,2465.4 343.5,2410.5 345.2,2380.5 347.2,2363.1 349.7,2366.8 352.2,2350.6 354.7,2344.3 356.7,2330.6 359.2,2345.6 361,2370.5 362.7,2343.1 364.7,2360.6 366.5,2447.5 368.5,2345.6 370.2,2364.3 372.2,2298.1 374.7,2294.4 377.7,2295.6 380.2,2345.6 382.7,2387.3 384.7,2345.6 387.2,2305.6 389.2,2285.9" fill="none" stroke="#0000ff" stroke-width="3.4" stroke-linejoin="round" />
<polyline points="174.9,2285.4 182.4,2281.9 186.2,2276.9 188.7,2283.1 192.4,2280.7 195.4,2263.2 197.4,2250.7 199.9,2260.7 202.4,2273.2 204.9,2271.9 208.7,2275.7 212.4,2280.7 219.9,2283.1 224.9,2285.4" fill="none" stroke="#ff0000" stroke-width="3.4" stroke-linejoin="round" />
<polyline points="174.9,2285.9 182.4,2289.4 186.2,2294.4 188.7,2288.2 192.4,2290.6 195.4,2308.1 197.4,2320.6 199.9,2310.6 202.4,2298.1 204.9,2299.4 208.7,2295.6 212.4,2290.6 219.9,2288.2 224.9,2285.9" fill="none" stroke="#ff0000" stroke-width="3.4" stroke-linejoin="round" />
<polyline points="547.1,2285.7 557.8,2282.6 587.4,2283.1 606.2,2283.1 609.4,2280.4 612.1,2278.8 615,2281 618.2,2285.7" fill="none" stroke="#00ff00" stroke-width="3.4" stroke-linejoin="round" />
<polyline points="547.1,2285.7 557.8,2288.7 587.4,2288.2 606.2,2288.2 609.4,2290.9 612.1,2292.5 615,2290.3 618.2,2285.7" fill="none" stroke="#00ff00" stroke-width="3.4" stroke-linejoin="round" />
<polyline points="626.3,2285.7 635.7,2282.3 667.9,2282 684,2282 702.8,2283.6 706.8,2285.7" fill="none" stroke="#00ff00" stroke-width="3.4" stroke-linejoin="round" />
<polyline points="626.3,2285.7 635.7,2289 667.9,2289.3 684,2289.3 702.8,2287.7 706.8,2285.7" fill="none" stroke="#00ff00" stroke-width="3.4" stroke-linejoin="round" />
<polyline points="820.9,2285.7 828.9,2282.6 837,2283.1 842.4,2285.7" fill="none" stroke="#00ff00" stroke-width="3.4" stroke-linejoin="round" />
<polyline points="820.9,2285.7 828.9,2288.7 837,2288.2 842.4,2285.7" fill="none" stroke="#00ff00" stroke-width="3.4" stroke-linejoin="round" />
<polyline points="882.6,2285.7 890.7,2282.3 906.8,2282.3" fill="none" stroke="#00ff00" stroke-width="3.4" stroke-linejoin="round" />
<polyline points="882.6,2285.7 890.7,2289 906.8,2289" fill="none" stroke="#00ff00" stroke-width="3.4" stroke-linejoin="round" />
<polyline points="490.2,2285.7 492.1,2282.3 506.8,2279.9 520.3,2277.2 522.9,2274.5 526.2,2271.8 529.7,2275 533.7,2277.2 535.8,2283.1 536.4,2285.7" fill="none" stroke="#0000ff" stroke-width="3.4" stroke-linejoin="round" />
<polyline points="490.2,2285.7 492.1,2289 506.8,2291.4 520.3,2294.1 522.9,2296.8 526.2,2299.5 529.7,2296.3 533.7,2294.1 535.8,2288.2 536.4,2285.7" fill="none" stroke="#0000ff" stroke-width="3.4" stroke-linejoin="round" />
<polyline points="544.4,2285.7 545.2,2276.4 549.3,2271.8 551.9,2265.7 554.6,2262.2 557.8,2271 561.9,2269.1 565.9,2268.3 569.9,2263 571.8,2275 575.3,2276.4 579.3,2273.7 584.7,2275 589.5,2271.8 594.1,2274.5 599.4,2279.1 605.6,2282.6 608.3,2272.4 610.2,2245.5 612.1,2227.3 614.2,2245.5 616.4,2272.4 618.2,2285.7" fill="none" stroke="#0000ff" stroke-width="3.4" stroke-linejoin="round" />
<polyline points="544.4,2285.7 545.2,2294.9 549.3,2299.5 551.9,2305.6 554.6,2309.1 557.8,2300.3 561.9,2302.2 565.9,2303 569.9,2308.3 571.8,2296.3 575.3,2294.9 579.3,2297.6 584.7,2296.3 589.5,2299.5 594.1,2296.8 599.4,2292.2 605.6,2288.7 608.3,2298.9 610.2,2325.8 612.1,2344 614.2,2325.8 616.4,2298.9 618.2,2285.7" fill="none" stroke="#0000ff" stroke-width="3.4" stroke-linejoin="round" />
<polyline points="623.6,2285.7 624.9,2275 629,2268.3 632.5,2258.9 635.7,2253 638.9,2258.9 642.4,2254.9 647.8,2258.9 654.5,2259.5 657.2,2237.5 659.3,2256.3 662.5,2261.6 665.7,2250.9 667.9,2272.4 669.5,2285.7 671.9,2272.4 674.6,2245.5 677.8,2221.4 679.2,2245.5 682.7,2252.2 686.7,2257.6 694.7,2261.1 696.9,2272.4 701.4,2275 705.5,2279.9 706.8,2285.7" fill="none" stroke="#0000ff" stroke-width="3.4" stroke-linejoin="round" />
<polyline points="623.6,2285.7 624.9,2296.3 629,2303 632.5,2312.4 635.7,2318.3 638.9,2312.4 642.4,2316.4 647.8,2312.4 654.5,2311.8 657.2,2333.8 659.3,2315 662.5,2309.7 665.7,2320.4 667.9,2298.9 669.5,2285.7 671.9,2298.9 674.6,2325.8 677.8,2349.9 679.2,2325.8 682.7,2319.1 686.7,2313.7 694.7,2310.2 696.9,2298.9 701.4,2296.3 705.5,2291.4 706.8,2285.7" fill="none" stroke="#0000ff" stroke-width="3.4" stroke-linejoin="round" />
<polyline points="760.5,2285.7 763.2,2281 767.2,2280.4 769.9,2284.4 780.6,2283.6 791.4,2283.1 794.6,2281.8 796.7,2271.6 798.9,2283.1 807.5,2282.6 812.8,2281 818.2,2282.6 822.2,2279.1 826.3,2276.4 828.9,2271 831.1,2277.7 833.8,2261.6 836.5,2271 839.7,2276.4 843.7,2273.7 847.7,2278.3 851.8,2273.7 855.8,2279.9 859.8,2277.7 863.8,2280.4 866,2271.6 869.2,2279.1 873.2,2276.4 876.7,2280.4 879.9,2272.4 882.6,2277.7 886.6,2273.7 890.1,2268.3 893.4,2276.4 897.4,2273.7 901.4,2275.6 906.8,2272.4" fill="none" stroke="#0000ff" stroke-width="3.4" stroke-linejoin="round" />
<polyline points="760.5,2285.7 763.2,2290.3 767.2,2290.9 769.9,2286.9 780.6,2287.7 791.4,2288.2 794.6,2289.5 796.7,2299.7 798.9,2288.2 807.5,2288.7 812.8,2290.3 818.2,2288.7 822.2,2292.2 826.3,2294.9 828.9,2300.3 831.1,2293.6 833.8,2309.7 836.5,2300.3 839.7,2294.9 843.7,2297.6 847.7,2293 851.8,2297.6 855.8,2291.4 859.8,2293.6 863.8,2290.9 866,2299.7 869.2,2292.2 873.2,2294.9 876.7,2290.9 879.9,2298.9 882.6,2293.6 886.6,2297.6 890.1,2303 893.4,2294.9 897.4,2297.6 901.4,2295.7 906.8,2298.9" fill="none" stroke="#0000ff" stroke-width="3.4" stroke-linejoin="round" />
<polyline points="144,2285.7 883.4,2285.7" fill="none" stroke="#ff0000" stroke-width="3.6" stroke-linejoin="round" />
</g>
<polygon points="711.4,2285.7 715.7,2282 717.8,2277.2 719.2,2274.5 720.8,2277.7 721.8,2282 722.1,2285.7 722.1,2285.7 721.8,2289.3 720.8,2293.6 719.2,2296.8 717.8,2294.1 715.7,2289.3 711.4,2285.7" fill="#ff0000"/>
<line x1="699" y1="2034.7" x2="735" y2="2034.7" stroke="#00ff00" stroke-width="3.6" />
<text transform="translate(757,2043.8) scale(1.020,1)" font-family="'Liberation Serif','DejaVu Serif',serif" font-size="29.2" font-weight="normal" text-anchor="start" >Be</text>
<line x1="699" y1="2065.3" x2="735" y2="2065.3" stroke="#0000ff" stroke-width="3.6" />
<text transform="translate(757,2074.4) scale(1.020,1)" font-family="'Liberation Serif','DejaVu Serif',serif" font-size="29.2" font-weight="normal" text-anchor="start" >N</text>
<line x1="699" y1="2102.9" x2="735" y2="2102.9" stroke="#ff0000" stroke-width="3.6" />
<text transform="translate(757,2107.5) scale(1.020,1)" font-family="'Liberation Serif','DejaVu Serif',serif" font-size="29.2" font-weight="normal" text-anchor="start" >H<tspan dy="12" font-size="22">3</tspan><tspan dy="-12">O</tspan></text>
<line x1="439.6" y1="2197.5" x2="439.6" y2="2263.2" stroke="#000" stroke-width="3.6" />
<polyline points="429.8,2214.5 439.6,2196.5 449.4,2214.5" fill="none" stroke="#000" stroke-width="3.6" stroke-linejoin="round" stroke-linejoin="miter"/>
<line x1="439.6" y1="2308.6" x2="439.6" y2="2372.1" stroke="#000" stroke-width="3.6" />
<polyline points="429.8,2355.1 439.6,2373.1 449.4,2355.1" fill="none" stroke="#000" stroke-width="3.6" stroke-linejoin="round" />
<rect x="132.6" y="2001.5" width="772.8" height="568.3" fill="none" stroke="#000" stroke-width="3.3"/>
<text transform="translate(122.6,2580.1) scale(1.050,1)" font-family="'Liberation Serif','DejaVu Serif',serif" font-size="30.7" font-weight="normal" text-anchor="end" >-30</text>
<text transform="translate(122.6,2485.4) scale(1.050,1)" font-family="'Liberation Serif','DejaVu Serif',serif" font-size="30.7" font-weight="normal" text-anchor="end" >-20</text>
<text transform="translate(122.6,2390.7) scale(1.050,1)" font-family="'Liberation Serif','DejaVu Serif',serif" font-size="30.7" font-weight="normal" text-anchor="end" >-10</text>
<text transform="translate(122.6,2295.9) scale(1.050,1)" font-family="'Liberation Serif','DejaVu Serif',serif" font-size="30.7" font-weight="normal" text-anchor="end" >0</text>
<text transform="translate(122.6,2201.2) scale(1.050,1)" font-family="'Liberation Serif','DejaVu Serif',serif" font-size="30.7" font-weight="normal" text-anchor="end" >10</text>
<text transform="translate(122.6,2106.5) scale(1.050,1)" font-family="'Liberation Serif','DejaVu Serif',serif" font-size="30.7" font-weight="normal" text-anchor="end" >20</text>
<text transform="translate(122.6,2011.8) scale(1.050,1)" font-family="'Liberation Serif','DejaVu Serif',serif" font-size="30.7" font-weight="normal" text-anchor="end" >30</text>
<text transform="translate(132.6,2602.5) scale(1.050,1)" font-family="'Liberation Serif','DejaVu Serif',serif" font-size="30.7" font-weight="normal" text-anchor="middle" >-5</text>
<text transform="translate(209.9,2602.5) scale(1.050,1)" font-family="'Liberation Serif','DejaVu Serif',serif" font-size="30.7" font-weight="normal" text-anchor="middle" >-4</text>
<text transform="translate(287.2,2602.5) scale(1.050,1)" font-family="'Liberation Serif','DejaVu Serif',serif" font-size="30.7" font-weight="normal" text-anchor="middle" >-3</text>
<text transform="translate(364.4,2602.5) scale(1.050,1)" font-family="'Liberation Serif','DejaVu Serif',serif" font-size="30.7" font-weight="normal" text-anchor="middle" >-2</text>
<text transform="translate(441.7,2602.5) scale(1.050,1)" font-family="'Liberation Serif','DejaVu Serif',serif" font-size="30.7" font-weight="normal" text-anchor="middle" >-1</text>
<text transform="translate(519,2602.5) scale(1.050,1)" font-family="'Liberation Serif','DejaVu Serif',serif" font-size="30.7" font-weight="normal" text-anchor="middle" >0</text>
<text transform="translate(596.3,2602.5) scale(1.050,1)" font-family="'Liberation Serif','DejaVu Serif',serif" font-size="30.7" font-weight="normal" text-anchor="middle" >1</text>
<text transform="translate(673.6,2602.5) scale(1.050,1)" font-family="'Liberation Serif','DejaVu Serif',serif" font-size="30.7" font-weight="normal" text-anchor="middle" >2</text>
<text transform="translate(750.8,2602.5) scale(1.050,1)" font-family="'Liberation Serif','DejaVu Serif',serif" font-size="30.7" font-weight="normal" text-anchor="middle" >3</text>
<text transform="translate(828.1,2602.5) scale(1.050,1)" font-family="'Liberation Serif','DejaVu Serif',serif" font-size="30.7" font-weight="normal" text-anchor="middle" >4</text>
<text transform="translate(905.4,2602.5) scale(1.050,1)" font-family="'Liberation Serif','DejaVu Serif',serif" font-size="30.7" font-weight="normal" text-anchor="middle" >5</text>
<text x="519" y="2634" font-family="'Liberation Serif','DejaVu Serif',serif" font-size="29.6" font-weight="normal" text-anchor="middle" textLength="151.4" lengthAdjust="spacingAndGlyphs">Energy (eV)</text>
<text transform="translate(62.7,2284.8) rotate(-90)" font-family="'Liberation Serif',serif" font-size="29.8" text-anchor="middle" textLength="233.6" lengthAdjust="spacingAndGlyphs">Density (states/eV)</text>
<text x="2" y="2048.5" font-family="'Liberation Sans','DejaVu Sans',sans-serif" font-size="63" font-weight="bold" text-anchor="start" textLength="77.2" lengthAdjust="spacingAndGlyphs">(g)</text>
</svg></body></html>
